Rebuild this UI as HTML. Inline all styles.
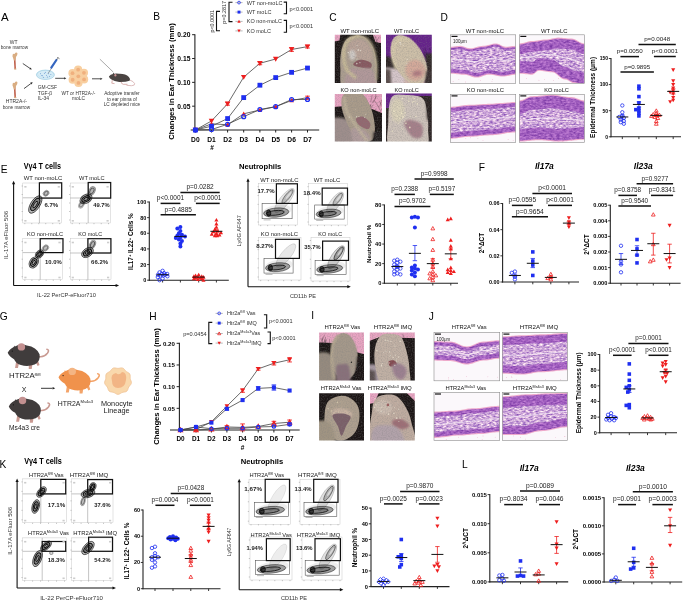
<!DOCTYPE html>
<html><head><meta charset="utf-8"><style>html,body{margin:0;padding:0;background:#fff;overflow:hidden} svg{display:block;will-change:transform} text{font-family:"Liberation Sans", sans-serif}</style></head>
<body>
<svg width="685" height="601" viewBox="0 0 685 601" font-family='"Liberation Sans", sans-serif'>
<defs><filter id="b1" x="-20%" y="-20%" width="140%" height="140%"><feGaussianBlur stdDeviation="1.2"/></filter><filter id="b05" x="-20%" y="-20%" width="140%" height="140%"><feGaussianBlur stdDeviation="0.6"/></filter><filter id="b04" x="-5%" y="-5%" width="110%" height="110%"><feGaussianBlur stdDeviation="0.4"/></filter><filter id="grain" x="0" y="0" width="100%" height="100%" color-interpolation-filters="sRGB"><feTurbulence type="fractalNoise" baseFrequency="0.8" numOctaves="1" seed="2"/><feColorMatrix type="matrix" values="0 0 0 0 0.5  0 0 0 0 0.5  0 0 0 0 0.5  2.5 0 0 0 -1.05"/></filter><filter id="b2" x="-20%" y="-20%" width="140%" height="140%"><feGaussianBlur stdDeviation="2"/></filter><clipPath id="cp1"><rect x="334.80" y="34.80" width="46.20" height="48.20"/></clipPath><clipPath id="cp2"><rect x="386.00" y="34.80" width="45.80" height="48.20"/></clipPath><clipPath id="cp3"><rect x="334.80" y="94.00" width="47.20" height="47.40"/></clipPath><clipPath id="cp4"><rect x="386.00" y="93.60" width="45.80" height="47.80"/></clipPath><clipPath id="cp5"><rect x="319.10" y="332.50" width="44.90" height="48.10"/></clipPath><clipPath id="cp6"><rect x="369.80" y="332.50" width="45.00" height="48.10"/></clipPath><clipPath id="cp7"><rect x="319.10" y="393.20" width="44.90" height="47.30"/></clipPath><clipPath id="cp8"><rect x="370.00" y="393.20" width="44.80" height="47.30"/></clipPath><filter id="texE" x="0" y="0" width="100%" height="100%" color-interpolation-filters="sRGB"><feTurbulence type="fractalNoise" baseFrequency="0.3 0.6" numOctaves="2" seed="4"/><feColorMatrix type="matrix" values="0.45 0 0 0 0.41  0.45 0 0 0 0.15  0.3 0 0 0 0.6  0 0 0 0 1"/></filter><filter id="texD" x="0" y="0" width="100%" height="100%" color-interpolation-filters="sRGB"><feTurbulence type="fractalNoise" baseFrequency="0.3 0.7" numOctaves="2" seed="9"/><feColorMatrix type="matrix" values="0.8 0 0 0 0.4  1.0 0 0 0 0.15  0.4 0 0 0 0.65  0 0 0 0 1"/></filter><clipPath id="cp9"><rect x="450.50" y="34.80" width="65.20" height="48.50"/></clipPath><clipPath id="cp9b"><path d="M450.50,47.89 L452.13,47.83 L453.76,47.65 L455.39,47.41 L457.02,47.17 L458.65,46.99 L460.28,46.92 L461.91,47.09 L463.54,47.53 L465.17,48.14 L466.80,48.74 L468.43,49.19 L470.06,49.35 L471.69,49.26 L473.32,48.99 L474.95,48.60 L476.58,48.14 L478.21,47.67 L479.84,47.28 L481.47,47.02 L483.10,46.92 L484.73,46.83 L486.36,46.57 L487.99,46.18 L489.62,45.71 L491.25,45.25 L492.88,44.86 L494.51,44.59 L496.14,44.50 L497.77,44.73 L499.40,45.35 L501.03,46.20 L502.66,47.05 L504.29,47.67 L505.92,47.89 L507.55,47.83 L509.18,47.65 L510.81,47.41 L512.44,47.17 L514.07,46.99 L515.70,46.92 L515.70,73.60 L514.07,73.67 L512.44,73.88 L510.81,74.20 L509.18,74.57 L507.55,74.94 L505.92,75.26 L504.29,75.47 L502.66,75.54 L501.03,75.47 L499.40,75.26 L497.77,74.94 L496.14,74.57 L494.51,74.20 L492.88,73.88 L491.25,73.67 L489.62,73.60 L487.99,73.71 L486.36,74.03 L484.73,74.50 L483.10,75.06 L481.47,75.61 L479.84,76.08 L478.21,76.40 L476.58,76.51 L474.95,76.40 L473.32,76.08 L471.69,75.61 L470.06,75.05 L468.43,74.50 L466.80,74.03 L465.17,73.71 L463.54,73.60 L461.91,73.56 L460.28,73.46 L458.65,73.30 L457.02,73.12 L455.39,72.93 L453.76,72.77 L452.13,72.67 L450.50,72.63Z"/></clipPath><clipPath id="cp9d"><path d="M450.50,50.08 L452.13,50.01 L453.76,49.83 L455.39,49.59 L457.02,49.35 L458.65,49.17 L460.28,49.11 L461.91,49.27 L463.54,49.71 L465.17,50.32 L466.80,50.93 L468.43,51.37 L470.06,51.53 L471.69,51.44 L473.32,51.18 L474.95,50.78 L476.58,50.32 L478.21,49.86 L479.84,49.46 L481.47,49.20 L483.10,49.11 L484.73,49.02 L486.36,48.75 L487.99,48.36 L489.62,47.89 L491.25,47.43 L492.88,47.04 L494.51,46.77 L496.14,46.68 L497.77,46.91 L499.40,47.53 L501.03,48.38 L502.66,49.23 L504.29,49.85 L505.92,50.08 L507.55,50.01 L509.18,49.83 L510.81,49.59 L512.44,49.35 L514.07,49.17 L515.70,49.11 L515.70,69.96 L514.07,70.04 L512.44,70.25 L510.81,70.56 L509.18,70.93 L507.55,71.30 L505.92,71.62 L504.29,71.83 L502.66,71.90 L501.03,71.83 L499.40,71.62 L497.77,71.30 L496.14,70.93 L494.51,70.56 L492.88,70.25 L491.25,70.04 L489.62,69.96 L487.99,70.07 L486.36,70.39 L484.73,70.86 L483.10,71.42 L481.47,71.97 L479.84,72.45 L478.21,72.76 L476.58,72.87 L474.95,72.76 L473.32,72.45 L471.69,71.97 L470.06,71.42 L468.43,70.86 L466.80,70.39 L465.17,70.07 L463.54,69.96 L461.91,69.93 L460.28,69.82 L458.65,69.66 L457.02,69.48 L455.39,69.29 L453.76,69.13 L452.13,69.03 L450.50,68.99Z"/></clipPath><clipPath id="cp10"><rect x="519.30" y="34.80" width="65.20" height="48.50"/></clipPath><clipPath id="cp10b"><path d="M519.30,44.50 L520.93,44.41 L522.56,44.14 L524.19,43.75 L525.82,43.29 L527.45,42.82 L529.08,42.43 L530.71,42.17 L532.34,42.07 L533.97,42.02 L535.60,41.86 L537.23,41.63 L538.86,41.35 L540.49,41.07 L542.12,40.83 L543.75,40.68 L545.38,40.62 L547.01,40.55 L548.64,40.34 L550.27,40.02 L551.90,39.65 L553.53,39.28 L555.16,38.96 L556.79,38.75 L558.42,38.68 L560.05,38.72 L561.68,38.82 L563.31,38.98 L564.94,39.16 L566.57,39.35 L568.20,39.51 L569.83,39.61 L571.46,39.65 L573.09,39.83 L574.72,40.36 L576.35,41.15 L577.98,42.07 L579.61,43.00 L581.24,43.79 L582.87,44.32 L584.50,44.50 L584.50,84.27 L582.87,84.14 L581.24,83.78 L579.61,83.30 L577.98,82.81 L576.35,82.46 L574.72,82.33 L573.09,82.07 L571.46,81.36 L569.83,80.39 L568.20,79.42 L566.57,78.71 L564.94,78.45 L563.31,78.17 L561.68,77.38 L560.05,76.20 L558.42,74.81 L556.79,73.42 L555.16,72.24 L553.53,71.45 L551.90,71.17 L550.27,71.12 L548.64,70.96 L547.01,70.73 L545.38,70.45 L543.75,70.17 L542.12,69.93 L540.49,69.78 L538.86,69.72 L537.23,70.29 L535.60,71.66 L533.97,73.03 L532.34,73.60 L530.71,73.56 L529.08,73.46 L527.45,73.30 L525.82,73.12 L524.19,72.93 L522.56,72.77 L520.93,72.67 L519.30,72.63Z"/></clipPath><clipPath id="cp10d"><path d="M519.30,54.20 L520.93,54.11 L522.56,53.84 L524.19,53.45 L525.82,52.99 L527.45,52.52 L529.08,52.13 L530.71,51.87 L532.34,51.77 L533.97,51.72 L535.60,51.56 L537.23,51.33 L538.86,51.05 L540.49,50.77 L542.12,50.53 L543.75,50.38 L545.38,50.32 L547.01,50.25 L548.64,50.04 L550.27,49.72 L551.90,49.35 L553.53,48.98 L555.16,48.66 L556.79,48.45 L558.42,48.38 L560.05,48.42 L561.68,48.52 L563.31,48.68 L564.94,48.86 L566.57,49.05 L568.20,49.21 L569.83,49.31 L571.46,49.35 L573.09,49.53 L574.72,50.06 L576.35,50.85 L577.98,51.77 L579.61,52.70 L581.24,53.49 L582.87,54.02 L584.50,54.20 L584.50,72.63 L582.87,72.50 L581.24,72.14 L579.61,71.66 L577.98,71.17 L576.35,70.82 L574.72,70.69 L573.09,70.43 L571.46,69.72 L569.83,68.75 L568.20,67.78 L566.57,67.07 L564.94,66.81 L563.31,66.53 L561.68,65.74 L560.05,64.56 L558.42,63.17 L556.79,61.78 L555.16,60.60 L553.53,59.81 L551.90,59.53 L550.27,59.48 L548.64,59.32 L547.01,59.09 L545.38,58.81 L543.75,58.53 L542.12,58.29 L540.49,58.14 L538.86,58.08 L537.23,58.65 L535.60,60.02 L533.97,61.39 L532.34,61.96 L530.71,61.92 L529.08,61.82 L527.45,61.66 L525.82,61.47 L524.19,61.29 L522.56,61.13 L520.93,61.03 L519.30,60.99Z"/></clipPath><clipPath id="cp11"><rect x="450.50" y="94.30" width="65.20" height="48.20"/></clipPath><clipPath id="cp11b"><path d="M450.50,107.80 L452.13,107.76 L453.76,107.67 L455.39,107.51 L457.02,107.31 L458.65,107.08 L460.28,106.83 L461.91,106.58 L463.54,106.35 L465.17,106.15 L466.80,106.00 L468.43,105.90 L470.06,105.87 L471.69,105.85 L473.32,105.80 L474.95,105.73 L476.58,105.63 L478.21,105.51 L479.84,105.39 L481.47,105.26 L483.10,105.14 L484.73,105.05 L486.36,104.97 L487.99,104.92 L489.62,104.90 L491.25,104.87 L492.88,104.76 L494.51,104.61 L496.14,104.42 L497.77,104.24 L499.40,104.08 L501.03,103.98 L502.66,103.94 L504.29,103.90 L505.92,103.80 L507.55,103.64 L509.18,103.46 L510.81,103.27 L512.44,103.12 L514.07,103.01 L515.70,102.98 L515.70,131.41 L514.07,131.44 L512.44,131.52 L510.81,131.66 L509.18,131.84 L507.55,132.06 L505.92,132.31 L504.29,132.58 L502.66,132.86 L501.03,133.14 L499.40,133.41 L497.77,133.66 L496.14,133.88 L494.51,134.06 L492.88,134.20 L491.25,134.28 L489.62,134.31 L487.99,134.33 L486.36,134.40 L484.73,134.52 L483.10,134.67 L481.47,134.84 L479.84,135.03 L478.21,135.22 L476.58,135.39 L474.95,135.54 L473.32,135.66 L471.69,135.73 L470.06,135.75 L468.43,135.78 L466.80,135.88 L465.17,136.03 L463.54,136.23 L461.91,136.47 L460.28,136.72 L458.65,136.97 L457.02,137.20 L455.39,137.40 L453.76,137.55 L452.13,137.65 L450.50,137.68Z"/></clipPath><clipPath id="cp11d"><path d="M450.50,111.65 L452.13,111.62 L453.76,111.52 L455.39,111.37 L457.02,111.17 L458.65,110.94 L460.28,110.69 L461.91,110.44 L463.54,110.21 L465.17,110.01 L466.80,109.85 L468.43,109.76 L470.06,109.72 L471.69,109.71 L473.32,109.66 L474.95,109.58 L476.58,109.48 L478.21,109.37 L479.84,109.24 L481.47,109.12 L483.10,109.00 L484.73,108.90 L486.36,108.82 L487.99,108.78 L489.62,108.76 L491.25,108.72 L492.88,108.62 L494.51,108.46 L496.14,108.28 L497.77,108.09 L499.40,107.94 L501.03,107.83 L502.66,107.80 L504.29,107.76 L505.92,107.65 L507.55,107.50 L509.18,107.31 L510.81,107.13 L512.44,106.97 L514.07,106.87 L515.70,106.83 L515.70,126.59 L514.07,126.62 L512.44,126.70 L510.81,126.84 L509.18,127.02 L507.55,127.24 L505.92,127.49 L504.29,127.76 L502.66,128.04 L501.03,128.32 L499.40,128.59 L497.77,128.84 L496.14,129.06 L494.51,129.24 L492.88,129.38 L491.25,129.46 L489.62,129.49 L487.99,129.51 L486.36,129.58 L484.73,129.70 L483.10,129.85 L481.47,130.02 L479.84,130.21 L478.21,130.40 L476.58,130.57 L474.95,130.72 L473.32,130.84 L471.69,130.91 L470.06,130.93 L468.43,130.96 L466.80,131.06 L465.17,131.21 L463.54,131.41 L461.91,131.65 L460.28,131.90 L458.65,132.15 L457.02,132.38 L455.39,132.58 L453.76,132.73 L452.13,132.83 L450.50,132.86Z"/></clipPath><clipPath id="cp12"><rect x="519.30" y="94.30" width="65.20" height="48.20"/></clipPath><clipPath id="cp12b"><path d="M519.30,101.53 L520.93,101.36 L522.56,100.89 L524.19,100.19 L525.82,99.36 L527.45,98.53 L529.08,97.83 L530.71,97.36 L532.34,97.19 L533.97,97.17 L535.60,97.10 L537.23,96.98 L538.86,96.83 L540.49,96.66 L542.12,96.47 L543.75,96.28 L545.38,96.11 L547.01,95.96 L548.64,95.84 L550.27,95.77 L551.90,95.75 L553.53,95.79 L555.16,95.91 L556.79,96.10 L558.42,96.35 L560.05,96.64 L561.68,96.95 L563.31,97.26 L564.94,97.55 L566.57,97.80 L568.20,97.99 L569.83,98.11 L571.46,98.16 L573.09,98.28 L574.72,98.65 L576.35,99.20 L577.98,99.84 L579.61,100.49 L581.24,101.04 L582.87,101.40 L584.50,101.53 L584.50,138.64 L582.87,138.66 L581.24,138.72 L579.61,138.81 L577.98,138.93 L576.35,139.07 L574.72,139.24 L573.09,139.42 L571.46,139.61 L569.83,139.80 L568.20,139.98 L566.57,140.14 L564.94,140.29 L563.31,140.41 L561.68,140.50 L560.05,140.55 L558.42,140.57 L556.79,140.55 L555.16,140.48 L553.53,140.36 L551.90,140.21 L550.27,140.04 L548.64,139.85 L547.01,139.66 L545.38,139.49 L543.75,139.34 L542.12,139.22 L540.49,139.15 L538.86,139.13 L537.23,139.15 L535.60,139.22 L533.97,139.34 L532.34,139.49 L530.71,139.66 L529.08,139.85 L527.45,140.04 L525.82,140.21 L524.19,140.36 L522.56,140.48 L520.93,140.55 L519.30,140.57Z"/></clipPath><clipPath id="cp12d"><path d="M519.30,114.06 L520.93,113.90 L522.56,113.43 L524.19,112.72 L525.82,111.89 L527.45,111.06 L529.08,110.36 L530.71,109.89 L532.34,109.72 L533.97,109.70 L535.60,109.63 L537.23,109.51 L538.86,109.36 L540.49,109.19 L542.12,109.00 L543.75,108.81 L545.38,108.64 L547.01,108.49 L548.64,108.37 L550.27,108.30 L551.90,108.28 L553.53,108.32 L555.16,108.44 L556.79,108.63 L558.42,108.88 L560.05,109.17 L561.68,109.48 L563.31,109.79 L564.94,110.09 L566.57,110.34 L568.20,110.53 L569.83,110.65 L571.46,110.69 L573.09,110.82 L574.72,111.18 L576.35,111.73 L577.98,112.38 L579.61,113.02 L581.24,113.57 L582.87,113.93 L584.50,114.06 L584.50,127.08 L582.87,127.09 L581.24,127.15 L579.61,127.24 L577.98,127.36 L576.35,127.50 L574.72,127.67 L573.09,127.85 L571.46,128.04 L569.83,128.23 L568.20,128.41 L566.57,128.58 L564.94,128.72 L563.31,128.84 L561.68,128.93 L560.05,128.99 L558.42,129.00 L556.79,128.98 L555.16,128.91 L553.53,128.79 L551.90,128.64 L550.27,128.47 L548.64,128.28 L547.01,128.09 L545.38,127.92 L543.75,127.77 L542.12,127.65 L540.49,127.58 L538.86,127.56 L537.23,127.58 L535.60,127.65 L533.97,127.77 L532.34,127.92 L530.71,128.09 L529.08,128.28 L527.45,128.47 L525.82,128.64 L524.19,128.79 L522.56,128.91 L520.93,128.98 L519.30,129.00Z"/></clipPath><clipPath id="cp13"><rect x="434.00" y="332.50" width="65.70" height="48.30"/></clipPath><clipPath id="cp13b"><path d="M434.00,342.16 L435.64,342.17 L437.29,342.21 L438.93,342.26 L440.57,342.33 L442.21,342.40 L443.86,342.48 L445.50,342.54 L447.14,342.60 L448.78,342.63 L450.43,342.64 L452.07,342.76 L453.71,343.10 L455.35,343.64 L457.00,344.31 L458.64,345.06 L460.28,345.80 L461.92,346.48 L463.56,347.01 L465.21,347.35 L466.85,347.47 L468.49,347.35 L470.13,347.01 L471.78,346.48 L473.42,345.80 L475.06,345.06 L476.70,344.31 L478.35,343.64 L479.99,343.10 L481.63,342.76 L483.27,342.64 L484.92,342.61 L486.56,342.50 L488.20,342.34 L489.85,342.14 L491.49,341.92 L493.13,341.69 L494.77,341.49 L496.42,341.33 L498.06,341.23 L499.70,341.19 L499.70,357.62 L498.06,357.66 L496.42,357.80 L494.77,358.01 L493.13,358.28 L491.49,358.58 L489.85,358.88 L488.20,359.15 L486.56,359.36 L484.92,359.50 L483.27,359.55 L481.63,359.64 L479.99,359.92 L478.35,360.34 L476.70,360.88 L475.06,361.48 L473.42,362.08 L471.78,362.62 L470.13,363.04 L468.49,363.32 L466.85,363.41 L465.21,363.33 L463.56,363.09 L461.92,362.72 L460.28,362.24 L458.64,361.72 L457.00,361.20 L455.35,360.73 L453.71,360.35 L452.07,360.11 L450.43,360.03 L448.78,360.02 L447.14,359.98 L445.50,359.93 L443.86,359.86 L442.21,359.79 L440.57,359.71 L438.93,359.65 L437.29,359.59 L435.64,359.56 L434.00,359.55Z"/></clipPath><clipPath id="cp13d"><path d="M434.00,345.54 L435.64,345.55 L437.29,345.59 L438.93,345.64 L440.57,345.71 L442.21,345.78 L443.86,345.86 L445.50,345.92 L447.14,345.98 L448.78,346.01 L450.43,346.02 L452.07,346.14 L453.71,346.49 L455.35,347.02 L457.00,347.69 L458.64,348.44 L460.28,349.19 L461.92,349.86 L463.56,350.39 L465.21,350.74 L466.85,350.85 L468.49,350.74 L470.13,350.39 L471.78,349.86 L473.42,349.19 L475.06,348.44 L476.70,347.69 L478.35,347.02 L479.99,346.49 L481.63,346.14 L483.27,346.02 L484.92,345.99 L486.56,345.89 L488.20,345.73 L489.85,345.52 L491.49,345.30 L493.13,345.08 L494.77,344.87 L496.42,344.71 L498.06,344.61 L499.70,344.57 L499.70,353.27 L498.06,353.32 L496.42,353.45 L494.77,353.67 L493.13,353.94 L491.49,354.24 L489.85,354.53 L488.20,354.80 L486.56,355.02 L484.92,355.15 L483.27,355.20 L481.63,355.30 L479.99,355.57 L478.35,356.00 L476.70,356.54 L475.06,357.13 L473.42,357.73 L471.78,358.27 L470.13,358.70 L468.49,358.97 L466.85,359.06 L465.21,358.98 L463.56,358.74 L461.92,358.37 L460.28,357.90 L458.64,357.37 L457.00,356.85 L455.35,356.38 L453.71,356.01 L452.07,355.77 L450.43,355.68 L448.78,355.67 L447.14,355.64 L445.50,355.58 L443.86,355.52 L442.21,355.44 L440.57,355.37 L438.93,355.30 L437.29,355.25 L435.64,355.21 L434.00,355.20Z"/></clipPath><clipPath id="cp14"><rect x="502.40" y="332.50" width="64.90" height="48.30"/></clipPath><clipPath id="cp14b"><path d="M502.40,337.33 L504.02,337.31 L505.64,337.27 L507.27,337.19 L508.89,337.09 L510.51,336.97 L512.13,336.85 L513.76,336.72 L515.38,336.61 L517.00,336.51 L518.62,336.43 L520.25,336.38 L521.87,336.36 L523.49,336.35 L525.12,336.30 L526.74,336.22 L528.36,336.12 L529.98,336.01 L531.61,335.88 L533.23,335.76 L534.85,335.64 L536.47,335.54 L538.10,335.46 L539.72,335.41 L541.34,335.40 L542.96,335.38 L544.59,335.34 L546.21,335.28 L547.83,335.19 L549.45,335.08 L551.07,334.95 L552.70,334.81 L554.32,334.67 L555.94,334.53 L557.56,334.40 L559.19,334.27 L560.81,334.16 L562.43,334.07 L564.05,334.00 L565.68,333.96 L567.30,333.95 L567.30,369.21 L565.68,369.23 L564.05,369.28 L562.43,369.37 L560.81,369.49 L559.19,369.64 L557.56,369.80 L555.94,369.99 L554.32,370.17 L552.70,370.36 L551.07,370.54 L549.45,370.71 L547.83,370.86 L546.21,370.98 L544.59,371.07 L542.96,371.12 L541.34,371.14 L539.72,371.18 L538.10,371.30 L536.47,371.49 L534.85,371.74 L533.23,372.03 L531.61,372.35 L529.98,372.66 L528.36,372.95 L526.74,373.20 L525.12,373.39 L523.49,373.51 L521.87,373.56 L520.25,373.54 L518.62,373.49 L517.00,373.41 L515.38,373.31 L513.76,373.20 L512.13,373.07 L510.51,372.95 L508.89,372.83 L507.27,372.73 L505.64,372.65 L504.02,372.61 L502.40,372.59Z"/></clipPath><clipPath id="cp14d"><path d="M502.40,345.06 L504.02,345.04 L505.64,344.99 L507.27,344.92 L508.89,344.82 L510.51,344.70 L512.13,344.57 L513.76,344.45 L515.38,344.33 L517.00,344.23 L518.62,344.16 L520.25,344.11 L521.87,344.09 L523.49,344.08 L525.12,344.03 L526.74,343.95 L528.36,343.85 L529.98,343.73 L531.61,343.61 L533.23,343.48 L534.85,343.37 L536.47,343.27 L538.10,343.19 L539.72,343.14 L541.34,343.13 L542.96,343.11 L544.59,343.07 L546.21,343.00 L547.83,342.91 L549.45,342.80 L551.07,342.68 L552.70,342.54 L554.32,342.40 L555.94,342.26 L557.56,342.12 L559.19,342.00 L560.81,341.89 L562.43,341.80 L564.05,341.73 L565.68,341.69 L567.30,341.68 L567.30,361.96 L565.68,361.98 L564.05,362.04 L562.43,362.13 L560.81,362.25 L559.19,362.39 L557.56,362.56 L555.94,362.74 L554.32,362.93 L552.70,363.12 L551.07,363.30 L549.45,363.47 L547.83,363.61 L546.21,363.73 L544.59,363.82 L542.96,363.88 L541.34,363.89 L539.72,363.94 L538.10,364.06 L536.47,364.25 L534.85,364.50 L533.23,364.79 L531.61,365.10 L529.98,365.42 L528.36,365.71 L526.74,365.96 L525.12,366.15 L523.49,366.27 L521.87,366.31 L520.25,366.29 L518.62,366.25 L517.00,366.17 L515.38,366.07 L513.76,365.95 L512.13,365.83 L510.51,365.70 L508.89,365.59 L507.27,365.49 L505.64,365.41 L504.02,365.36 L502.40,365.34Z"/></clipPath><clipPath id="cp15"><rect x="434.00" y="392.40" width="65.70" height="48.30"/></clipPath><clipPath id="cp15b"><path d="M434.00,412.69 L435.64,412.67 L437.29,412.62 L438.93,412.54 L440.57,412.44 L442.21,412.33 L443.86,412.20 L445.50,412.08 L447.14,411.96 L448.78,411.86 L450.43,411.78 L452.07,411.74 L453.71,411.72 L455.35,411.68 L457.00,411.56 L458.64,411.37 L460.28,411.12 L461.92,410.83 L463.56,410.51 L465.21,410.20 L466.85,409.91 L468.49,409.66 L470.13,409.47 L471.78,409.35 L473.42,409.30 L475.06,409.28 L476.70,409.21 L478.35,409.10 L479.99,408.95 L481.63,408.77 L483.27,408.56 L484.92,408.33 L486.56,408.10 L488.20,407.86 L489.85,407.64 L491.49,407.43 L493.13,407.24 L494.77,407.09 L496.42,406.98 L498.06,406.91 L499.70,406.89 L499.70,431.04 L498.06,431.07 L496.42,431.17 L494.77,431.32 L493.13,431.52 L491.49,431.76 L489.85,432.01 L488.20,432.26 L486.56,432.49 L484.92,432.69 L483.27,432.84 L481.63,432.94 L479.99,432.97 L478.35,433.00 L476.70,433.07 L475.06,433.18 L473.42,433.33 L471.78,433.51 L470.13,433.70 L468.49,433.88 L466.85,434.06 L465.21,434.21 L463.56,434.32 L461.92,434.40 L460.28,434.42 L458.64,434.44 L457.00,434.51 L455.35,434.62 L453.71,434.77 L452.07,434.96 L450.43,435.17 L448.78,435.39 L447.14,435.63 L445.50,435.86 L443.86,436.09 L442.21,436.30 L440.57,436.48 L438.93,436.63 L437.29,436.74 L435.64,436.81 L434.00,436.84Z"/></clipPath><clipPath id="cp15d"><path d="M434.00,416.55 L435.64,416.53 L437.29,416.49 L438.93,416.41 L440.57,416.31 L442.21,416.19 L443.86,416.07 L445.50,415.94 L447.14,415.83 L448.78,415.73 L450.43,415.65 L452.07,415.60 L453.71,415.58 L455.35,415.54 L457.00,415.42 L458.64,415.23 L460.28,414.98 L461.92,414.69 L463.56,414.38 L465.21,414.06 L466.85,413.77 L468.49,413.52 L470.13,413.33 L471.78,413.21 L473.42,413.17 L475.06,413.15 L476.70,413.08 L478.35,412.97 L479.99,412.82 L481.63,412.63 L483.27,412.42 L484.92,412.20 L486.56,411.96 L488.20,411.73 L489.85,411.50 L491.49,411.29 L493.13,411.11 L494.77,410.96 L496.42,410.85 L498.06,410.78 L499.70,410.75 L499.70,426.69 L498.06,426.73 L496.42,426.82 L494.77,426.98 L493.13,427.18 L491.49,427.41 L489.85,427.66 L488.20,427.91 L486.56,428.14 L484.92,428.34 L483.27,428.50 L481.63,428.59 L479.99,428.62 L478.35,428.65 L476.70,428.72 L475.06,428.84 L473.42,428.99 L471.78,429.16 L470.13,429.35 L468.49,429.54 L466.85,429.71 L465.21,429.86 L463.56,429.98 L461.92,430.05 L460.28,430.07 L458.64,430.10 L457.00,430.17 L455.35,430.28 L453.71,430.43 L452.07,430.61 L450.43,430.82 L448.78,431.05 L447.14,431.28 L445.50,431.52 L443.86,431.74 L442.21,431.95 L440.57,432.14 L438.93,432.29 L437.29,432.40 L435.64,432.47 L434.00,432.49Z"/></clipPath><clipPath id="cp16"><rect x="502.40" y="392.40" width="64.90" height="48.30"/></clipPath><clipPath id="cp16b"><path d="M502.40,397.23 L504.02,397.21 L505.64,397.16 L507.27,397.07 L508.89,396.95 L510.51,396.80 L512.13,396.63 L513.76,396.45 L515.38,396.26 L517.00,396.08 L518.62,395.89 L520.25,395.73 L521.87,395.58 L523.49,395.46 L525.12,395.37 L526.74,395.32 L528.36,395.30 L529.98,395.28 L531.61,395.23 L533.23,395.16 L534.85,395.06 L536.47,394.94 L538.10,394.81 L539.72,394.69 L541.34,394.57 L542.96,394.47 L544.59,394.40 L546.21,394.35 L547.83,394.33 L549.45,394.32 L551.07,394.30 L552.70,394.26 L554.32,394.21 L555.94,394.15 L557.56,394.09 L559.19,394.03 L560.81,393.97 L562.43,393.92 L564.05,393.88 L565.68,393.86 L567.30,393.85 L567.30,426.21 L565.68,426.25 L564.05,426.36 L562.43,426.54 L560.81,426.78 L559.19,427.07 L557.56,427.40 L555.94,427.77 L554.32,428.14 L552.70,428.52 L551.07,428.88 L549.45,429.22 L547.83,429.51 L546.21,429.75 L544.59,429.93 L542.96,430.04 L541.34,430.07 L539.72,430.14 L538.10,430.33 L536.47,430.64 L534.85,431.04 L533.23,431.51 L531.61,432.01 L529.98,432.51 L528.36,432.97 L526.74,433.37 L525.12,433.68 L523.49,433.87 L521.87,433.94 L520.25,433.94 L518.62,433.94 L517.00,433.94 L515.38,433.94 L513.76,433.94 L512.13,433.94 L510.51,433.94 L508.89,433.94 L507.27,433.94 L505.64,433.94 L504.02,433.94 L502.40,433.94Z"/></clipPath><clipPath id="cp16d"><path d="M502.40,407.86 L504.02,407.84 L505.64,407.78 L507.27,407.69 L508.89,407.57 L510.51,407.43 L512.13,407.26 L513.76,407.08 L515.38,406.89 L517.00,406.70 L518.62,406.52 L520.25,406.35 L521.87,406.21 L523.49,406.09 L525.12,406.00 L526.74,405.94 L528.36,405.92 L529.98,405.91 L531.61,405.86 L533.23,405.78 L534.85,405.68 L536.47,405.57 L538.10,405.44 L539.72,405.32 L541.34,405.20 L542.96,405.10 L544.59,405.02 L546.21,404.97 L547.83,404.96 L549.45,404.95 L551.07,404.93 L552.70,404.89 L554.32,404.84 L555.94,404.78 L557.56,404.72 L559.19,404.65 L560.81,404.60 L562.43,404.55 L564.05,404.51 L565.68,404.48 L567.30,404.47 L567.30,418.48 L565.68,418.52 L564.05,418.63 L562.43,418.81 L560.81,419.05 L559.19,419.34 L557.56,419.67 L555.94,420.04 L554.32,420.41 L552.70,420.79 L551.07,421.15 L549.45,421.49 L547.83,421.78 L546.21,422.02 L544.59,422.20 L542.96,422.31 L541.34,422.35 L539.72,422.41 L538.10,422.60 L536.47,422.91 L534.85,423.31 L533.23,423.78 L531.61,424.28 L529.98,424.78 L528.36,425.24 L526.74,425.64 L525.12,425.95 L523.49,426.14 L521.87,426.21 L520.25,426.21 L518.62,426.21 L517.00,426.21 L515.38,426.21 L513.76,426.21 L512.13,426.21 L510.51,426.21 L508.89,426.21 L507.27,426.21 L505.64,426.21 L504.02,426.21 L502.40,426.21Z"/></clipPath></defs><rect width="685" height="601" fill="#fff"/>
<text x="1.00" y="21.00" font-size="11.5" text-anchor="start" fill="#000">A</text>
<text x="153.30" y="20.40" font-size="10.2" text-anchor="start" fill="#000">B</text>
<text x="329.20" y="21.30" font-size="10.2" text-anchor="start" fill="#000">C</text>
<text x="440.60" y="20.90" font-size="10.2" text-anchor="start" fill="#000">D</text>
<text x="0.80" y="173.00" font-size="10.2" text-anchor="start" fill="#000">E</text>
<text x="478.80" y="171.00" font-size="10.2" text-anchor="start" fill="#000">F</text>
<text x="-0.30" y="320.00" font-size="10.2" text-anchor="start" fill="#000">G</text>
<text x="149.20" y="319.50" font-size="10.2" text-anchor="start" fill="#000">H</text>
<text x="311.20" y="319.40" font-size="10.2" text-anchor="start" fill="#000">I</text>
<text x="428.80" y="319.50" font-size="10.2" text-anchor="start" fill="#000">J</text>
<text x="-0.60" y="468.00" font-size="10.2" text-anchor="start" fill="#000">K</text>
<text x="462.00" y="467.80" font-size="10.2" text-anchor="start" fill="#000">L</text>
<line x1="611.00" y1="58.00" x2="611.00" y2="137.30" stroke="#222" stroke-width="1.1"/>
<line x1="610.50" y1="136.80" x2="681.00" y2="136.80" stroke="#222" stroke-width="1.1"/>
<line x1="608.80" y1="136.80" x2="611.00" y2="136.80" stroke="#222" stroke-width="0.9"/>
<text x="608.00" y="138.60" font-size="5.0" text-anchor="end" font-weight="bold" fill="#000">0</text>
<line x1="608.80" y1="110.70" x2="611.00" y2="110.70" stroke="#222" stroke-width="0.9"/>
<text x="608.00" y="112.50" font-size="5.0" text-anchor="end" font-weight="bold" fill="#000">50</text>
<line x1="608.80" y1="84.60" x2="611.00" y2="84.60" stroke="#222" stroke-width="0.9"/>
<text x="608.00" y="86.40" font-size="5.0" text-anchor="end" font-weight="bold" fill="#000">100</text>
<line x1="608.80" y1="58.50" x2="611.00" y2="58.50" stroke="#222" stroke-width="0.9"/>
<text x="608.00" y="60.30" font-size="5.0" text-anchor="end" font-weight="bold" fill="#000">150</text>
<line x1="622.30" y1="136.80" x2="622.30" y2="139.10" stroke="#222" stroke-width="0.9"/>
<line x1="638.90" y1="136.80" x2="638.90" y2="139.10" stroke="#222" stroke-width="0.9"/>
<line x1="656.30" y1="136.80" x2="656.30" y2="139.10" stroke="#222" stroke-width="0.9"/>
<line x1="673.20" y1="136.80" x2="673.20" y2="139.10" stroke="#222" stroke-width="0.9"/>
<text x="594.60" y="97.40" font-size="6.5" text-anchor="middle" font-weight="bold" fill="#000" transform="rotate(-90 594.6 97.4)">Epidermal Thickness (μm)</text>
<line x1="620.40" y1="56.60" x2="639.00" y2="56.60" stroke="#111" stroke-width="1.5"/>
<text x="629.70" y="53.40" font-size="6.2" text-anchor="middle" fill="#222">p=0.0050</text>
<line x1="653.90" y1="56.50" x2="675.80" y2="56.50" stroke="#111" stroke-width="1.5"/>
<text x="664.85" y="53.30" font-size="6.2" text-anchor="middle" fill="#222">p&lt;0.0001</text>
<line x1="620.50" y1="71.90" x2="653.90" y2="71.90" stroke="#111" stroke-width="1.5"/>
<text x="637.20" y="68.70" font-size="6.2" text-anchor="middle" fill="#222">p=0.9895</text>
<line x1="638.50" y1="44.40" x2="675.80" y2="44.40" stroke="#111" stroke-width="1.5"/>
<text x="657.15" y="41.20" font-size="6.2" text-anchor="middle" fill="#222">p=0.0048</text>
<circle cx="622.30" cy="105.48" r="1.70" fill="none" stroke="#1f2ff0" stroke-width="0.8"/>
<circle cx="622.30" cy="112.27" r="1.70" fill="none" stroke="#1f2ff0" stroke-width="0.8"/>
<circle cx="622.30" cy="115.92" r="1.70" fill="none" stroke="#1f2ff0" stroke-width="0.8"/>
<circle cx="619.24" cy="116.96" r="1.70" fill="none" stroke="#1f2ff0" stroke-width="0.8"/>
<circle cx="623.83" cy="118.01" r="1.70" fill="none" stroke="#1f2ff0" stroke-width="0.8"/>
<circle cx="620.77" cy="119.57" r="1.70" fill="none" stroke="#1f2ff0" stroke-width="0.8"/>
<circle cx="623.83" cy="121.14" r="1.70" fill="none" stroke="#1f2ff0" stroke-width="0.8"/>
<circle cx="620.77" cy="122.18" r="1.70" fill="none" stroke="#1f2ff0" stroke-width="0.8"/>
<circle cx="623.83" cy="123.75" r="1.70" fill="none" stroke="#1f2ff0" stroke-width="0.8"/>
<line x1="622.30" y1="119.05" x2="622.30" y2="114.88" stroke="#1f2ff0" stroke-width="0.8"/>
<line x1="620.10" y1="119.05" x2="624.50" y2="119.05" stroke="#1f2ff0" stroke-width="0.8"/>
<line x1="620.10" y1="114.88" x2="624.50" y2="114.88" stroke="#1f2ff0" stroke-width="0.8"/>
<line x1="616.30" y1="116.96" x2="628.30" y2="116.96" stroke="#111" stroke-width="1.0"/>
<rect x="637.12" y="84.38" width="3.57" height="3.57" fill="#1f2ff0"/>
<rect x="637.12" y="86.99" width="3.57" height="3.57" fill="#1f2ff0"/>
<rect x="637.12" y="94.82" width="3.57" height="3.57" fill="#1f2ff0"/>
<rect x="637.12" y="101.09" width="3.57" height="3.57" fill="#1f2ff0"/>
<rect x="637.12" y="106.31" width="3.57" height="3.57" fill="#1f2ff0"/>
<rect x="634.06" y="107.87" width="3.57" height="3.57" fill="#1f2ff0"/>
<rect x="637.12" y="108.92" width="3.57" height="3.57" fill="#1f2ff0"/>
<rect x="637.12" y="111.53" width="3.57" height="3.57" fill="#1f2ff0"/>
<rect x="637.12" y="114.14" width="3.57" height="3.57" fill="#1f2ff0"/>
<line x1="638.90" y1="107.05" x2="638.90" y2="101.83" stroke="#1f2ff0" stroke-width="0.8"/>
<line x1="636.70" y1="107.05" x2="641.10" y2="107.05" stroke="#1f2ff0" stroke-width="0.8"/>
<line x1="636.70" y1="101.83" x2="641.10" y2="101.83" stroke="#1f2ff0" stroke-width="0.8"/>
<line x1="632.90" y1="104.44" x2="644.90" y2="104.44" stroke="#111" stroke-width="1.0"/>
<path d="M656.30,108.83 L658.17,112.20 L654.43,112.20Z" fill="none" stroke="#ee1e1e" stroke-width="0.8"/>
<path d="M656.30,111.44 L658.17,114.81 L654.43,114.81Z" fill="none" stroke="#ee1e1e" stroke-width="0.8"/>
<path d="M653.24,112.48 L655.11,115.85 L651.37,115.85Z" fill="none" stroke="#ee1e1e" stroke-width="0.8"/>
<path d="M659.36,113.01 L661.23,116.37 L657.49,116.37Z" fill="none" stroke="#ee1e1e" stroke-width="0.8"/>
<path d="M657.10,113.53 L658.97,116.89 L655.23,116.89Z" fill="none" stroke="#ee1e1e" stroke-width="0.8"/>
<path d="M651.50,114.05 L653.37,117.42 L649.63,117.42Z" fill="none" stroke="#ee1e1e" stroke-width="0.8"/>
<path d="M654.77,115.09 L656.64,118.46 L652.90,118.46Z" fill="none" stroke="#ee1e1e" stroke-width="0.8"/>
<path d="M657.83,116.14 L659.70,119.50 L655.96,119.50Z" fill="none" stroke="#ee1e1e" stroke-width="0.8"/>
<path d="M656.30,119.27 L658.17,122.64 L654.43,122.64Z" fill="none" stroke="#ee1e1e" stroke-width="0.8"/>
<path d="M656.30,121.88 L658.17,125.25 L654.43,125.25Z" fill="none" stroke="#ee1e1e" stroke-width="0.8"/>
<line x1="656.30" y1="116.44" x2="656.30" y2="114.35" stroke="#ee1e1e" stroke-width="0.8"/>
<line x1="654.10" y1="116.44" x2="658.50" y2="116.44" stroke="#ee1e1e" stroke-width="0.8"/>
<line x1="654.10" y1="114.35" x2="658.50" y2="114.35" stroke="#ee1e1e" stroke-width="0.8"/>
<line x1="650.30" y1="115.40" x2="662.30" y2="115.40" stroke="#111" stroke-width="1.0"/>
<path d="M673.20,72.02 L675.24,68.35 L671.16,68.35Z" fill="#ee1e1e"/>
<path d="M673.20,82.99 L675.24,79.31 L671.16,79.31Z" fill="#ee1e1e"/>
<path d="M673.20,86.64 L675.24,82.97 L671.16,82.97Z" fill="#ee1e1e"/>
<path d="M673.20,90.29 L675.24,86.62 L671.16,86.62Z" fill="#ee1e1e"/>
<path d="M673.20,92.90 L675.24,89.23 L671.16,89.23Z" fill="#ee1e1e"/>
<path d="M670.14,94.47 L672.18,90.80 L668.10,90.80Z" fill="#ee1e1e"/>
<path d="M673.20,96.04 L675.24,92.36 L671.16,92.36Z" fill="#ee1e1e"/>
<path d="M673.20,99.69 L675.24,96.02 L671.16,96.02Z" fill="#ee1e1e"/>
<path d="M673.20,102.30 L675.24,98.63 L671.16,98.63Z" fill="#ee1e1e"/>
<path d="M670.14,103.87 L672.18,100.19 L668.10,100.19Z" fill="#ee1e1e"/>
<line x1="673.20" y1="94.00" x2="673.20" y2="88.78" stroke="#ee1e1e" stroke-width="0.8"/>
<line x1="671.00" y1="94.00" x2="675.40" y2="94.00" stroke="#ee1e1e" stroke-width="0.8"/>
<line x1="671.00" y1="88.78" x2="675.40" y2="88.78" stroke="#ee1e1e" stroke-width="0.8"/>
<line x1="667.20" y1="91.39" x2="679.20" y2="91.39" stroke="#111" stroke-width="1.0"/>
<line x1="149.30" y1="201.50" x2="149.30" y2="280.70" stroke="#222" stroke-width="1.1"/>
<line x1="148.80" y1="280.20" x2="228.80" y2="280.20" stroke="#222" stroke-width="1.1"/>
<line x1="147.10" y1="280.20" x2="149.30" y2="280.20" stroke="#222" stroke-width="0.9"/>
<text x="146.30" y="282.18" font-size="5.5" text-anchor="end" font-weight="bold" fill="#000">0</text>
<line x1="147.10" y1="264.56" x2="149.30" y2="264.56" stroke="#222" stroke-width="0.9"/>
<text x="146.30" y="266.54" font-size="5.5" text-anchor="end" font-weight="bold" fill="#000">20</text>
<line x1="147.10" y1="248.92" x2="149.30" y2="248.92" stroke="#222" stroke-width="0.9"/>
<text x="146.30" y="250.90" font-size="5.5" text-anchor="end" font-weight="bold" fill="#000">40</text>
<line x1="147.10" y1="233.28" x2="149.30" y2="233.28" stroke="#222" stroke-width="0.9"/>
<text x="146.30" y="235.26" font-size="5.5" text-anchor="end" font-weight="bold" fill="#000">60</text>
<line x1="147.10" y1="217.64" x2="149.30" y2="217.64" stroke="#222" stroke-width="0.9"/>
<text x="146.30" y="219.62" font-size="5.5" text-anchor="end" font-weight="bold" fill="#000">80</text>
<line x1="147.10" y1="202.00" x2="149.30" y2="202.00" stroke="#222" stroke-width="0.9"/>
<text x="146.30" y="203.98" font-size="5.5" text-anchor="end" font-weight="bold" fill="#000">100</text>
<line x1="162.60" y1="280.20" x2="162.60" y2="282.50" stroke="#222" stroke-width="0.9"/>
<line x1="180.40" y1="280.20" x2="180.40" y2="282.50" stroke="#222" stroke-width="0.9"/>
<line x1="198.70" y1="280.20" x2="198.70" y2="282.50" stroke="#222" stroke-width="0.9"/>
<line x1="216.40" y1="280.20" x2="216.40" y2="282.50" stroke="#222" stroke-width="0.9"/>
<text x="133.30" y="241.60" font-size="6.4" text-anchor="middle" font-weight="bold" fill="#000" transform="rotate(-90 133.3 241.6)">IL17<tspan font-size="4" dy="-2">+</tspan><tspan dy="2"> IL22</tspan><tspan font-size="4" dy="-2">+</tspan><tspan dy="2"> Cells %</tspan></text>
<line x1="180.40" y1="192.40" x2="219.70" y2="192.40" stroke="#111" stroke-width="1.5"/>
<text x="200.05" y="189.20" font-size="6.5" text-anchor="middle" fill="#222">p=0.0282</text>
<line x1="160.60" y1="203.40" x2="180.40" y2="203.40" stroke="#111" stroke-width="1.5"/>
<text x="170.50" y="200.20" font-size="6.5" text-anchor="middle" fill="#222">p&lt;0.0001</text>
<line x1="195.90" y1="203.40" x2="219.70" y2="203.40" stroke="#111" stroke-width="1.5"/>
<text x="207.80" y="200.20" font-size="6.5" text-anchor="middle" fill="#222">p&lt;0.0001</text>
<line x1="160.60" y1="214.80" x2="195.90" y2="214.80" stroke="#111" stroke-width="1.5"/>
<text x="178.25" y="211.60" font-size="6.5" text-anchor="middle" fill="#222">p=0.4885</text>
<circle cx="162.60" cy="270.82" r="1.70" fill="none" stroke="#1f2ff0" stroke-width="0.8"/>
<circle cx="159.54" cy="272.38" r="1.70" fill="none" stroke="#1f2ff0" stroke-width="0.8"/>
<circle cx="164.13" cy="273.16" r="1.70" fill="none" stroke="#1f2ff0" stroke-width="0.8"/>
<circle cx="167.19" cy="273.94" r="1.70" fill="none" stroke="#1f2ff0" stroke-width="0.8"/>
<circle cx="161.80" cy="273.94" r="1.70" fill="none" stroke="#1f2ff0" stroke-width="0.8"/>
<circle cx="158.01" cy="274.73" r="1.70" fill="none" stroke="#1f2ff0" stroke-width="0.8"/>
<circle cx="165.00" cy="274.73" r="1.70" fill="none" stroke="#1f2ff0" stroke-width="0.8"/>
<circle cx="160.20" cy="275.51" r="1.70" fill="none" stroke="#1f2ff0" stroke-width="0.8"/>
<circle cx="163.40" cy="275.51" r="1.70" fill="none" stroke="#1f2ff0" stroke-width="0.8"/>
<circle cx="167.40" cy="276.29" r="1.70" fill="none" stroke="#1f2ff0" stroke-width="0.8"/>
<circle cx="157.80" cy="277.07" r="1.70" fill="none" stroke="#1f2ff0" stroke-width="0.8"/>
<circle cx="162.60" cy="278.64" r="1.70" fill="none" stroke="#1f2ff0" stroke-width="0.8"/>
<circle cx="159.54" cy="280.20" r="1.70" fill="none" stroke="#1f2ff0" stroke-width="0.8"/>
<line x1="156.60" y1="274.73" x2="168.60" y2="274.73" stroke="#111" stroke-width="1.0"/>
<circle cx="180.40" cy="227.02" r="2.00" fill="#1f2ff0"/>
<circle cx="177.34" cy="228.59" r="2.00" fill="#1f2ff0"/>
<circle cx="180.40" cy="230.93" r="2.00" fill="#1f2ff0"/>
<circle cx="178.87" cy="233.28" r="2.00" fill="#1f2ff0"/>
<circle cx="181.93" cy="234.84" r="2.00" fill="#1f2ff0"/>
<circle cx="177.34" cy="235.63" r="2.00" fill="#1f2ff0"/>
<circle cx="184.99" cy="236.41" r="2.00" fill="#1f2ff0"/>
<circle cx="180.40" cy="237.19" r="2.00" fill="#1f2ff0"/>
<circle cx="175.81" cy="237.97" r="2.00" fill="#1f2ff0"/>
<circle cx="178.87" cy="239.54" r="2.00" fill="#1f2ff0"/>
<circle cx="181.93" cy="241.10" r="2.00" fill="#1f2ff0"/>
<circle cx="180.40" cy="243.45" r="2.00" fill="#1f2ff0"/>
<circle cx="180.40" cy="246.57" r="2.00" fill="#1f2ff0"/>
<line x1="180.40" y1="237.97" x2="180.40" y2="234.84" stroke="#1f2ff0" stroke-width="0.8"/>
<line x1="178.20" y1="237.97" x2="182.60" y2="237.97" stroke="#1f2ff0" stroke-width="0.8"/>
<line x1="178.20" y1="234.84" x2="182.60" y2="234.84" stroke="#1f2ff0" stroke-width="0.8"/>
<line x1="174.40" y1="236.41" x2="186.40" y2="236.41" stroke="#111" stroke-width="1.0"/>
<path d="M198.70,272.69 L200.74,276.36 L196.66,276.36Z" fill="#ee1e1e"/>
<path d="M195.64,273.47 L197.68,277.14 L193.60,277.14Z" fill="#ee1e1e"/>
<path d="M201.76,274.25 L203.80,277.92 L199.72,277.92Z" fill="#ee1e1e"/>
<path d="M193.90,274.25 L195.94,277.92 L191.86,277.92Z" fill="#ee1e1e"/>
<path d="M197.90,275.03 L199.94,278.70 L195.86,278.70Z" fill="#ee1e1e"/>
<path d="M203.50,275.03 L205.54,278.70 L201.46,278.70Z" fill="#ee1e1e"/>
<path d="M195.50,275.81 L197.54,279.49 L193.46,279.49Z" fill="#ee1e1e"/>
<path d="M200.30,275.81 L202.34,279.49 L198.26,279.49Z" fill="#ee1e1e"/>
<path d="M193.90,276.60 L195.94,280.27 L191.86,280.27Z" fill="#ee1e1e"/>
<path d="M201.90,276.60 L203.94,280.27 L199.86,280.27Z" fill="#ee1e1e"/>
<path d="M197.90,277.38 L199.94,281.05 L195.86,281.05Z" fill="#ee1e1e"/>
<path d="M203.50,278.16 L205.54,281.83 L201.46,281.83Z" fill="#ee1e1e"/>
<line x1="192.70" y1="277.07" x2="204.70" y2="277.07" stroke="#111" stroke-width="1.0"/>
<path d="M216.40,217.95 L218.44,221.62 L214.36,221.62Z" fill="#ee1e1e"/>
<path d="M216.40,221.86 L218.44,225.53 L214.36,225.53Z" fill="#ee1e1e"/>
<path d="M216.40,224.98 L218.44,228.66 L214.36,228.66Z" fill="#ee1e1e"/>
<path d="M214.87,227.33 L216.91,231.00 L212.83,231.00Z" fill="#ee1e1e"/>
<path d="M217.93,228.89 L219.97,232.57 L215.89,232.57Z" fill="#ee1e1e"/>
<path d="M213.34,229.68 L215.38,233.35 L211.30,233.35Z" fill="#ee1e1e"/>
<path d="M220.99,230.46 L223.03,234.13 L218.95,234.13Z" fill="#ee1e1e"/>
<path d="M216.40,231.24 L218.44,234.91 L214.36,234.91Z" fill="#ee1e1e"/>
<path d="M211.81,232.02 L213.85,235.69 L209.77,235.69Z" fill="#ee1e1e"/>
<path d="M219.46,232.80 L221.50,236.48 L217.42,236.48Z" fill="#ee1e1e"/>
<path d="M214.87,233.59 L216.91,237.26 L212.83,237.26Z" fill="#ee1e1e"/>
<path d="M217.20,233.59 L219.24,237.26 L215.16,237.26Z" fill="#ee1e1e"/>
<line x1="216.40" y1="232.89" x2="216.40" y2="229.76" stroke="#ee1e1e" stroke-width="0.8"/>
<line x1="214.20" y1="232.89" x2="218.60" y2="232.89" stroke="#ee1e1e" stroke-width="0.8"/>
<line x1="214.20" y1="229.76" x2="218.60" y2="229.76" stroke="#ee1e1e" stroke-width="0.8"/>
<line x1="210.40" y1="231.32" x2="222.40" y2="231.32" stroke="#111" stroke-width="1.0"/>
<line x1="384.40" y1="204.40" x2="384.40" y2="283.70" stroke="#222" stroke-width="1.1"/>
<line x1="383.90" y1="283.20" x2="458.00" y2="283.20" stroke="#222" stroke-width="1.1"/>
<line x1="382.20" y1="283.20" x2="384.40" y2="283.20" stroke="#222" stroke-width="0.9"/>
<text x="381.40" y="285.25" font-size="5.7" text-anchor="end" font-weight="bold" fill="#000">0</text>
<line x1="382.20" y1="263.62" x2="384.40" y2="263.62" stroke="#222" stroke-width="0.9"/>
<text x="381.40" y="265.68" font-size="5.7" text-anchor="end" font-weight="bold" fill="#000">20</text>
<line x1="382.20" y1="244.05" x2="384.40" y2="244.05" stroke="#222" stroke-width="0.9"/>
<text x="381.40" y="246.10" font-size="5.7" text-anchor="end" font-weight="bold" fill="#000">40</text>
<line x1="382.20" y1="224.47" x2="384.40" y2="224.47" stroke="#222" stroke-width="0.9"/>
<text x="381.40" y="226.53" font-size="5.7" text-anchor="end" font-weight="bold" fill="#000">60</text>
<line x1="382.20" y1="204.90" x2="384.40" y2="204.90" stroke="#222" stroke-width="0.9"/>
<text x="381.40" y="206.95" font-size="5.7" text-anchor="end" font-weight="bold" fill="#000">80</text>
<line x1="397.30" y1="283.20" x2="397.30" y2="285.50" stroke="#222" stroke-width="0.9"/>
<line x1="414.90" y1="283.20" x2="414.90" y2="285.50" stroke="#222" stroke-width="0.9"/>
<line x1="432.80" y1="283.20" x2="432.80" y2="285.50" stroke="#222" stroke-width="0.9"/>
<line x1="450.80" y1="283.20" x2="450.80" y2="285.50" stroke="#222" stroke-width="0.9"/>
<text x="370.60" y="243.80" font-size="6.2" text-anchor="middle" font-weight="bold" fill="#000" transform="rotate(-90 370.6 243.8)">Neutrophil %</text>
<line x1="414.50" y1="179.00" x2="453.80" y2="179.00" stroke="#111" stroke-width="1.5"/>
<text x="434.15" y="175.80" font-size="6.4" text-anchor="middle" fill="#222">p=0.9998</text>
<line x1="394.50" y1="194.40" x2="414.90" y2="194.40" stroke="#111" stroke-width="1.5"/>
<text x="404.70" y="191.20" font-size="6.4" text-anchor="middle" fill="#222">p=0.2388</text>
<line x1="429.80" y1="194.40" x2="453.80" y2="194.40" stroke="#111" stroke-width="1.5"/>
<text x="441.80" y="191.20" font-size="6.4" text-anchor="middle" fill="#222">p=0.5197</text>
<line x1="394.50" y1="206.50" x2="430.40" y2="206.50" stroke="#111" stroke-width="1.5"/>
<text x="412.45" y="203.30" font-size="6.4" text-anchor="middle" fill="#222">p=0.9702</text>
<circle cx="397.30" cy="259.71" r="1.70" fill="none" stroke="#1f2ff0" stroke-width="0.8"/>
<circle cx="394.24" cy="260.69" r="1.70" fill="none" stroke="#1f2ff0" stroke-width="0.8"/>
<circle cx="400.36" cy="261.67" r="1.70" fill="none" stroke="#1f2ff0" stroke-width="0.8"/>
<circle cx="397.30" cy="262.65" r="1.70" fill="none" stroke="#1f2ff0" stroke-width="0.8"/>
<circle cx="394.24" cy="264.60" r="1.70" fill="none" stroke="#1f2ff0" stroke-width="0.8"/>
<circle cx="397.30" cy="266.56" r="1.70" fill="none" stroke="#1f2ff0" stroke-width="0.8"/>
<circle cx="394.24" cy="267.54" r="1.70" fill="none" stroke="#1f2ff0" stroke-width="0.8"/>
<circle cx="400.36" cy="268.52" r="1.70" fill="none" stroke="#1f2ff0" stroke-width="0.8"/>
<circle cx="397.30" cy="269.50" r="1.70" fill="none" stroke="#1f2ff0" stroke-width="0.8"/>
<circle cx="394.24" cy="271.45" r="1.70" fill="none" stroke="#1f2ff0" stroke-width="0.8"/>
<circle cx="397.30" cy="273.41" r="1.70" fill="none" stroke="#1f2ff0" stroke-width="0.8"/>
<circle cx="394.24" cy="274.39" r="1.70" fill="none" stroke="#1f2ff0" stroke-width="0.8"/>
<circle cx="400.36" cy="274.39" r="1.70" fill="none" stroke="#1f2ff0" stroke-width="0.8"/>
<line x1="397.30" y1="268.03" x2="397.30" y2="265.09" stroke="#1f2ff0" stroke-width="0.8"/>
<line x1="395.10" y1="268.03" x2="399.50" y2="268.03" stroke="#1f2ff0" stroke-width="0.8"/>
<line x1="395.10" y1="265.09" x2="399.50" y2="265.09" stroke="#1f2ff0" stroke-width="0.8"/>
<line x1="391.30" y1="266.56" x2="403.30" y2="266.56" stroke="#111" stroke-width="1.0"/>
<circle cx="414.90" cy="216.65" r="2.00" fill="#1f2ff0"/>
<circle cx="411.84" cy="217.62" r="2.00" fill="#1f2ff0"/>
<circle cx="417.96" cy="217.62" r="2.00" fill="#1f2ff0"/>
<circle cx="414.90" cy="227.41" r="2.00" fill="#1f2ff0"/>
<circle cx="414.90" cy="265.58" r="2.00" fill="#1f2ff0"/>
<circle cx="411.84" cy="267.54" r="2.00" fill="#1f2ff0"/>
<circle cx="414.90" cy="268.52" r="2.00" fill="#1f2ff0"/>
<circle cx="417.96" cy="269.50" r="2.00" fill="#1f2ff0"/>
<circle cx="411.84" cy="270.48" r="2.00" fill="#1f2ff0"/>
<circle cx="414.90" cy="272.43" r="2.00" fill="#1f2ff0"/>
<circle cx="411.84" cy="274.39" r="2.00" fill="#1f2ff0"/>
<circle cx="414.90" cy="276.35" r="2.00" fill="#1f2ff0"/>
<line x1="414.90" y1="260.69" x2="414.90" y2="245.52" stroke="#1f2ff0" stroke-width="0.8"/>
<line x1="412.70" y1="260.69" x2="417.10" y2="260.69" stroke="#1f2ff0" stroke-width="0.8"/>
<line x1="412.70" y1="245.52" x2="417.10" y2="245.52" stroke="#1f2ff0" stroke-width="0.8"/>
<line x1="408.90" y1="253.35" x2="420.90" y2="253.35" stroke="#111" stroke-width="1.0"/>
<path d="M432.80,226.52 L434.67,229.89 L430.93,229.89Z" fill="none" stroke="#ee1e1e" stroke-width="0.8"/>
<path d="M432.80,237.29 L434.67,240.65 L430.93,240.65Z" fill="none" stroke="#ee1e1e" stroke-width="0.8"/>
<path d="M432.80,248.05 L434.67,251.42 L430.93,251.42Z" fill="none" stroke="#ee1e1e" stroke-width="0.8"/>
<path d="M432.80,257.84 L434.67,261.21 L430.93,261.21Z" fill="none" stroke="#ee1e1e" stroke-width="0.8"/>
<path d="M432.80,261.75 L434.67,265.12 L430.93,265.12Z" fill="none" stroke="#ee1e1e" stroke-width="0.8"/>
<path d="M432.80,264.69 L434.67,268.06 L430.93,268.06Z" fill="none" stroke="#ee1e1e" stroke-width="0.8"/>
<path d="M432.80,269.58 L434.67,272.95 L430.93,272.95Z" fill="none" stroke="#ee1e1e" stroke-width="0.8"/>
<path d="M429.74,271.54 L431.61,274.91 L427.87,274.91Z" fill="none" stroke="#ee1e1e" stroke-width="0.8"/>
<path d="M432.80,272.52 L434.67,275.89 L430.93,275.89Z" fill="none" stroke="#ee1e1e" stroke-width="0.8"/>
<path d="M435.86,273.50 L437.73,276.87 L433.99,276.87Z" fill="none" stroke="#ee1e1e" stroke-width="0.8"/>
<path d="M432.80,275.46 L434.67,278.82 L430.93,278.82Z" fill="none" stroke="#ee1e1e" stroke-width="0.8"/>
<path d="M429.74,276.44 L431.61,279.80 L427.87,279.80Z" fill="none" stroke="#ee1e1e" stroke-width="0.8"/>
<path d="M432.80,278.39 L434.67,281.76 L430.93,281.76Z" fill="none" stroke="#ee1e1e" stroke-width="0.8"/>
<line x1="432.80" y1="268.52" x2="432.80" y2="258.73" stroke="#ee1e1e" stroke-width="0.8"/>
<line x1="430.60" y1="268.52" x2="435.00" y2="268.52" stroke="#ee1e1e" stroke-width="0.8"/>
<line x1="430.60" y1="258.73" x2="435.00" y2="258.73" stroke="#ee1e1e" stroke-width="0.8"/>
<line x1="426.80" y1="263.62" x2="438.80" y2="263.62" stroke="#111" stroke-width="1.0"/>
<path d="M450.80,216.56 L452.84,220.23 L448.76,220.23Z" fill="#ee1e1e"/>
<path d="M447.74,217.54 L449.78,221.21 L445.70,221.21Z" fill="#ee1e1e"/>
<path d="M450.80,238.09 L452.84,241.77 L448.76,241.77Z" fill="#ee1e1e"/>
<path d="M450.80,243.97 L452.84,247.64 L448.76,247.64Z" fill="#ee1e1e"/>
<path d="M450.80,246.90 L452.84,250.58 L448.76,250.58Z" fill="#ee1e1e"/>
<path d="M450.80,256.69 L452.84,260.36 L448.76,260.36Z" fill="#ee1e1e"/>
<path d="M450.80,265.50 L452.84,269.17 L448.76,269.17Z" fill="#ee1e1e"/>
<path d="M447.74,267.46 L449.78,271.13 L445.70,271.13Z" fill="#ee1e1e"/>
<path d="M450.80,268.44 L452.84,272.11 L448.76,272.11Z" fill="#ee1e1e"/>
<path d="M453.86,269.41 L455.90,273.09 L451.82,273.09Z" fill="#ee1e1e"/>
<path d="M447.74,270.39 L449.78,274.07 L445.70,274.07Z" fill="#ee1e1e"/>
<path d="M450.80,271.37 L452.84,275.04 L448.76,275.04Z" fill="#ee1e1e"/>
<line x1="450.80" y1="258.73" x2="450.80" y2="248.94" stroke="#ee1e1e" stroke-width="0.8"/>
<line x1="448.60" y1="258.73" x2="453.00" y2="258.73" stroke="#ee1e1e" stroke-width="0.8"/>
<line x1="448.60" y1="248.94" x2="453.00" y2="248.94" stroke="#ee1e1e" stroke-width="0.8"/>
<line x1="444.80" y1="253.84" x2="456.80" y2="253.84" stroke="#111" stroke-width="1.0"/>
<text x="544.40" y="169.00" font-size="8.5" text-anchor="middle" font-weight="bold" font-style="italic" fill="#000">Il17a</text>
<line x1="502.60" y1="203.00" x2="502.60" y2="282.50" stroke="#222" stroke-width="1.1"/>
<line x1="502.10" y1="282.00" x2="579.00" y2="282.00" stroke="#222" stroke-width="1.1"/>
<line x1="500.40" y1="282.00" x2="502.60" y2="282.00" stroke="#222" stroke-width="0.9"/>
<text x="499.60" y="283.96" font-size="5.45" text-anchor="end" font-weight="bold" fill="#000">0.00</text>
<line x1="500.40" y1="255.83" x2="502.60" y2="255.83" stroke="#222" stroke-width="0.9"/>
<text x="499.60" y="257.80" font-size="5.45" text-anchor="end" font-weight="bold" fill="#000">0.02</text>
<line x1="500.40" y1="229.67" x2="502.60" y2="229.67" stroke="#222" stroke-width="0.9"/>
<text x="499.60" y="231.63" font-size="5.45" text-anchor="end" font-weight="bold" fill="#000">0.04</text>
<line x1="500.40" y1="203.50" x2="502.60" y2="203.50" stroke="#222" stroke-width="0.9"/>
<text x="499.60" y="205.46" font-size="5.45" text-anchor="end" font-weight="bold" fill="#000">0.06</text>
<line x1="514.90" y1="282.00" x2="514.90" y2="284.30" stroke="#222" stroke-width="0.9"/>
<line x1="532.80" y1="282.00" x2="532.80" y2="284.30" stroke="#222" stroke-width="0.9"/>
<line x1="550.80" y1="282.00" x2="550.80" y2="284.30" stroke="#222" stroke-width="0.9"/>
<line x1="568.90" y1="282.00" x2="568.90" y2="284.30" stroke="#222" stroke-width="0.9"/>
<text x="484.20" y="243.10" font-size="6.4" text-anchor="middle" font-weight="bold" fill="#000" transform="rotate(-90 484.2 243.1)">2^ΔCT</text>
<line x1="532.40" y1="193.50" x2="572.00" y2="193.50" stroke="#111" stroke-width="1.5"/>
<text x="552.20" y="190.30" font-size="6.6" text-anchor="middle" fill="#222">p&lt;0.0001</text>
<line x1="511.90" y1="205.40" x2="532.80" y2="205.40" stroke="#111" stroke-width="1.5"/>
<text x="522.35" y="202.20" font-size="6.6" text-anchor="middle" fill="#222">p=0.0595</text>
<line x1="548.00" y1="205.40" x2="572.00" y2="205.40" stroke="#111" stroke-width="1.5"/>
<text x="560.00" y="202.20" font-size="6.6" text-anchor="middle" fill="#222">p&lt;0.0001</text>
<line x1="511.90" y1="216.80" x2="548.00" y2="216.80" stroke="#111" stroke-width="1.5"/>
<text x="529.95" y="213.60" font-size="6.6" text-anchor="middle" fill="#222">p=0.9654</text>
<circle cx="514.90" cy="271.53" r="1.70" fill="none" stroke="#1f2ff0" stroke-width="0.8"/>
<circle cx="511.84" cy="272.84" r="1.70" fill="none" stroke="#1f2ff0" stroke-width="0.8"/>
<circle cx="514.90" cy="276.77" r="1.70" fill="none" stroke="#1f2ff0" stroke-width="0.8"/>
<circle cx="514.90" cy="279.38" r="1.70" fill="none" stroke="#1f2ff0" stroke-width="0.8"/>
<line x1="514.90" y1="276.77" x2="514.90" y2="274.15" stroke="#1f2ff0" stroke-width="0.8"/>
<line x1="512.70" y1="276.77" x2="517.10" y2="276.77" stroke="#1f2ff0" stroke-width="0.8"/>
<line x1="512.70" y1="274.15" x2="517.10" y2="274.15" stroke="#1f2ff0" stroke-width="0.8"/>
<line x1="508.90" y1="275.46" x2="520.90" y2="275.46" stroke="#111" stroke-width="1.0"/>
<rect x="531.01" y="250.12" width="3.57" height="3.57" fill="#1f2ff0"/>
<rect x="531.01" y="259.28" width="3.57" height="3.57" fill="#1f2ff0"/>
<rect x="531.01" y="263.21" width="3.57" height="3.57" fill="#1f2ff0"/>
<rect x="531.01" y="273.67" width="3.57" height="3.57" fill="#1f2ff0"/>
<line x1="532.80" y1="267.61" x2="532.80" y2="258.45" stroke="#1f2ff0" stroke-width="0.8"/>
<line x1="530.60" y1="267.61" x2="535.00" y2="267.61" stroke="#1f2ff0" stroke-width="0.8"/>
<line x1="530.60" y1="258.45" x2="535.00" y2="258.45" stroke="#1f2ff0" stroke-width="0.8"/>
<line x1="526.80" y1="263.29" x2="538.80" y2="263.29" stroke="#111" stroke-width="1.0"/>
<path d="M550.80,272.28 L552.67,275.65 L548.93,275.65Z" fill="none" stroke="#ee1e1e" stroke-width="0.8"/>
<path d="M550.80,274.90 L552.67,278.26 L548.93,278.26Z" fill="none" stroke="#ee1e1e" stroke-width="0.8"/>
<path d="M547.74,276.20 L549.61,279.57 L545.87,279.57Z" fill="none" stroke="#ee1e1e" stroke-width="0.8"/>
<path d="M550.80,277.51 L552.67,280.88 L548.93,280.88Z" fill="none" stroke="#ee1e1e" stroke-width="0.8"/>
<line x1="550.80" y1="278.07" x2="550.80" y2="276.77" stroke="#ee1e1e" stroke-width="0.8"/>
<line x1="548.60" y1="278.07" x2="553.00" y2="278.07" stroke="#ee1e1e" stroke-width="0.8"/>
<line x1="548.60" y1="276.77" x2="553.00" y2="276.77" stroke="#ee1e1e" stroke-width="0.8"/>
<line x1="544.80" y1="277.42" x2="556.80" y2="277.42" stroke="#111" stroke-width="1.0"/>
<path d="M568.90,219.93 L570.94,216.26 L566.86,216.26Z" fill="#ee1e1e"/>
<path d="M568.90,223.86 L570.94,220.18 L566.86,220.18Z" fill="#ee1e1e"/>
<path d="M568.90,226.47 L570.94,222.80 L566.86,222.80Z" fill="#ee1e1e"/>
<path d="M568.90,229.09 L570.94,225.42 L566.86,225.42Z" fill="#ee1e1e"/>
<line x1="568.90" y1="224.43" x2="568.90" y2="221.82" stroke="#ee1e1e" stroke-width="0.8"/>
<line x1="566.70" y1="224.43" x2="571.10" y2="224.43" stroke="#ee1e1e" stroke-width="0.8"/>
<line x1="566.70" y1="221.82" x2="571.10" y2="221.82" stroke="#ee1e1e" stroke-width="0.8"/>
<line x1="562.90" y1="223.12" x2="574.90" y2="223.12" stroke="#111" stroke-width="1.0"/>
<text x="643.30" y="169.00" font-size="8.5" text-anchor="middle" font-weight="bold" font-style="italic" fill="#000">Il23a</text>
<line x1="610.30" y1="204.70" x2="610.30" y2="283.70" stroke="#222" stroke-width="1.1"/>
<line x1="609.80" y1="283.20" x2="680.60" y2="283.20" stroke="#222" stroke-width="1.1"/>
<line x1="608.10" y1="283.20" x2="610.30" y2="283.20" stroke="#222" stroke-width="0.9"/>
<text x="607.30" y="285.22" font-size="5.6" text-anchor="end" font-weight="bold" fill="#000">0.000</text>
<line x1="608.10" y1="267.60" x2="610.30" y2="267.60" stroke="#222" stroke-width="0.9"/>
<text x="607.30" y="269.62" font-size="5.6" text-anchor="end" font-weight="bold" fill="#000">0.001</text>
<line x1="608.10" y1="252.00" x2="610.30" y2="252.00" stroke="#222" stroke-width="0.9"/>
<text x="607.30" y="254.02" font-size="5.6" text-anchor="end" font-weight="bold" fill="#000">0.002</text>
<line x1="608.10" y1="236.40" x2="610.30" y2="236.40" stroke="#222" stroke-width="0.9"/>
<text x="607.30" y="238.42" font-size="5.6" text-anchor="end" font-weight="bold" fill="#000">0.003</text>
<line x1="608.10" y1="220.80" x2="610.30" y2="220.80" stroke="#222" stroke-width="0.9"/>
<text x="607.30" y="222.82" font-size="5.6" text-anchor="end" font-weight="bold" fill="#000">0.004</text>
<line x1="608.10" y1="205.20" x2="610.30" y2="205.20" stroke="#222" stroke-width="0.9"/>
<text x="607.30" y="207.22" font-size="5.6" text-anchor="end" font-weight="bold" fill="#000">0.005</text>
<line x1="621.00" y1="283.20" x2="621.00" y2="285.50" stroke="#222" stroke-width="0.9"/>
<line x1="637.00" y1="283.20" x2="637.00" y2="285.50" stroke="#222" stroke-width="0.9"/>
<line x1="653.30" y1="283.20" x2="653.30" y2="285.50" stroke="#222" stroke-width="0.9"/>
<line x1="669.60" y1="283.20" x2="669.60" y2="285.50" stroke="#222" stroke-width="0.9"/>
<text x="589.00" y="244.60" font-size="6.4" text-anchor="middle" font-weight="bold" fill="#000" transform="rotate(-90 589.0 244.6)">2^ΔCT</text>
<line x1="636.60" y1="183.80" x2="673.10" y2="183.80" stroke="#111" stroke-width="1.5"/>
<text x="654.85" y="180.60" font-size="6.4" text-anchor="middle" fill="#222">p=0.9277</text>
<line x1="618.40" y1="195.40" x2="637.00" y2="195.40" stroke="#111" stroke-width="1.5"/>
<text x="627.70" y="192.20" font-size="6.4" text-anchor="middle" fill="#222">p=0.8758</text>
<line x1="651.00" y1="195.40" x2="673.10" y2="195.40" stroke="#111" stroke-width="1.5"/>
<text x="662.05" y="192.20" font-size="6.4" text-anchor="middle" fill="#222">p=0.8341</text>
<line x1="618.40" y1="205.90" x2="651.00" y2="205.90" stroke="#111" stroke-width="1.5"/>
<text x="634.70" y="202.70" font-size="6.4" text-anchor="middle" fill="#222">p=0.9540</text>
<circle cx="621.00" cy="245.76" r="1.70" fill="none" stroke="#1f2ff0" stroke-width="0.8"/>
<circle cx="621.00" cy="261.36" r="1.70" fill="none" stroke="#1f2ff0" stroke-width="0.8"/>
<circle cx="621.00" cy="264.48" r="1.70" fill="none" stroke="#1f2ff0" stroke-width="0.8"/>
<circle cx="621.00" cy="272.28" r="1.70" fill="none" stroke="#1f2ff0" stroke-width="0.8"/>
<line x1="621.00" y1="264.48" x2="621.00" y2="253.56" stroke="#1f2ff0" stroke-width="0.8"/>
<line x1="618.80" y1="264.48" x2="623.20" y2="264.48" stroke="#1f2ff0" stroke-width="0.8"/>
<line x1="618.80" y1="253.56" x2="623.20" y2="253.56" stroke="#1f2ff0" stroke-width="0.8"/>
<line x1="615.00" y1="259.33" x2="627.00" y2="259.33" stroke="#111" stroke-width="1.0"/>
<rect x="635.22" y="237.73" width="3.57" height="3.57" fill="#1f2ff0"/>
<rect x="635.22" y="247.09" width="3.57" height="3.57" fill="#1f2ff0"/>
<rect x="635.22" y="253.34" width="3.57" height="3.57" fill="#1f2ff0"/>
<rect x="635.22" y="261.13" width="3.57" height="3.57" fill="#1f2ff0"/>
<line x1="637.00" y1="255.12" x2="637.00" y2="245.76" stroke="#1f2ff0" stroke-width="0.8"/>
<line x1="634.80" y1="255.12" x2="639.20" y2="255.12" stroke="#1f2ff0" stroke-width="0.8"/>
<line x1="634.80" y1="245.76" x2="639.20" y2="245.76" stroke="#1f2ff0" stroke-width="0.8"/>
<line x1="631.00" y1="250.44" x2="643.00" y2="250.44" stroke="#111" stroke-width="1.0"/>
<path d="M653.30,212.69 L655.17,216.06 L651.43,216.06Z" fill="none" stroke="#ee1e1e" stroke-width="0.8"/>
<path d="M653.30,242.33 L655.17,245.70 L651.43,245.70Z" fill="none" stroke="#ee1e1e" stroke-width="0.8"/>
<path d="M653.30,257.93 L655.17,261.30 L651.43,261.30Z" fill="none" stroke="#ee1e1e" stroke-width="0.8"/>
<path d="M650.24,259.49 L652.11,262.86 L648.37,262.86Z" fill="none" stroke="#ee1e1e" stroke-width="0.8"/>
<line x1="653.30" y1="255.12" x2="653.30" y2="233.28" stroke="#ee1e1e" stroke-width="0.8"/>
<line x1="651.10" y1="255.12" x2="655.50" y2="255.12" stroke="#ee1e1e" stroke-width="0.8"/>
<line x1="651.10" y1="233.28" x2="655.50" y2="233.28" stroke="#ee1e1e" stroke-width="0.8"/>
<line x1="647.30" y1="243.73" x2="659.30" y2="243.73" stroke="#111" stroke-width="1.0"/>
<path d="M669.60,227.52 L671.64,223.85 L667.56,223.85Z" fill="#ee1e1e"/>
<path d="M669.60,260.28 L671.64,256.61 L667.56,256.61Z" fill="#ee1e1e"/>
<path d="M666.54,261.84 L668.58,258.17 L664.50,258.17Z" fill="#ee1e1e"/>
<path d="M669.60,269.64 L671.64,265.97 L667.56,265.97Z" fill="#ee1e1e"/>
<line x1="669.60" y1="262.92" x2="669.60" y2="244.20" stroke="#ee1e1e" stroke-width="0.8"/>
<line x1="667.40" y1="262.92" x2="671.80" y2="262.92" stroke="#ee1e1e" stroke-width="0.8"/>
<line x1="667.40" y1="244.20" x2="671.80" y2="244.20" stroke="#ee1e1e" stroke-width="0.8"/>
<line x1="663.60" y1="253.56" x2="675.60" y2="253.56" stroke="#111" stroke-width="1.0"/>
<line x1="599.70" y1="354.00" x2="599.70" y2="433.30" stroke="#222" stroke-width="1.1"/>
<line x1="599.20" y1="432.80" x2="677.00" y2="432.80" stroke="#222" stroke-width="1.1"/>
<line x1="597.50" y1="432.80" x2="599.70" y2="432.80" stroke="#222" stroke-width="0.9"/>
<text x="596.70" y="434.78" font-size="5.5" text-anchor="end" font-weight="bold" fill="#000">0</text>
<line x1="597.50" y1="417.14" x2="599.70" y2="417.14" stroke="#222" stroke-width="0.9"/>
<text x="596.70" y="419.12" font-size="5.5" text-anchor="end" font-weight="bold" fill="#000">20</text>
<line x1="597.50" y1="401.48" x2="599.70" y2="401.48" stroke="#222" stroke-width="0.9"/>
<text x="596.70" y="403.46" font-size="5.5" text-anchor="end" font-weight="bold" fill="#000">40</text>
<line x1="597.50" y1="385.82" x2="599.70" y2="385.82" stroke="#222" stroke-width="0.9"/>
<text x="596.70" y="387.80" font-size="5.5" text-anchor="end" font-weight="bold" fill="#000">60</text>
<line x1="597.50" y1="370.16" x2="599.70" y2="370.16" stroke="#222" stroke-width="0.9"/>
<text x="596.70" y="372.14" font-size="5.5" text-anchor="end" font-weight="bold" fill="#000">80</text>
<line x1="597.50" y1="354.50" x2="599.70" y2="354.50" stroke="#222" stroke-width="0.9"/>
<text x="596.70" y="356.48" font-size="5.5" text-anchor="end" font-weight="bold" fill="#000">100</text>
<line x1="611.10" y1="432.80" x2="611.10" y2="435.10" stroke="#222" stroke-width="0.9"/>
<line x1="629.30" y1="432.80" x2="629.30" y2="435.10" stroke="#222" stroke-width="0.9"/>
<line x1="647.50" y1="432.80" x2="647.50" y2="435.10" stroke="#222" stroke-width="0.9"/>
<line x1="665.70" y1="432.80" x2="665.70" y2="435.10" stroke="#222" stroke-width="0.9"/>
<text x="581.00" y="392.80" font-size="6.5" text-anchor="middle" font-weight="bold" fill="#000" transform="rotate(-90 581.0 392.8)">Epidermal Thickness (μm)</text>
<line x1="628.40" y1="343.40" x2="668.50" y2="343.40" stroke="#111" stroke-width="1.5"/>
<text x="648.45" y="340.20" font-size="6.3" text-anchor="middle" fill="#222">p=0.0001</text>
<line x1="613.00" y1="355.30" x2="631.60" y2="355.30" stroke="#111" stroke-width="1.5"/>
<text x="622.30" y="352.10" font-size="6.3" text-anchor="middle" fill="#222">p&lt;0.0001</text>
<line x1="648.50" y1="355.30" x2="668.50" y2="355.30" stroke="#111" stroke-width="1.5"/>
<text x="658.50" y="352.10" font-size="6.3" text-anchor="middle" fill="#222">p&lt;0.0001</text>
<circle cx="611.10" cy="413.23" r="1.70" fill="none" stroke="#1f2ff0" stroke-width="0.8"/>
<circle cx="608.04" cy="414.79" r="1.70" fill="none" stroke="#1f2ff0" stroke-width="0.8"/>
<circle cx="611.10" cy="416.36" r="1.70" fill="none" stroke="#1f2ff0" stroke-width="0.8"/>
<circle cx="614.16" cy="417.14" r="1.70" fill="none" stroke="#1f2ff0" stroke-width="0.8"/>
<circle cx="608.04" cy="417.92" r="1.70" fill="none" stroke="#1f2ff0" stroke-width="0.8"/>
<circle cx="615.90" cy="417.92" r="1.70" fill="none" stroke="#1f2ff0" stroke-width="0.8"/>
<circle cx="611.90" cy="418.71" r="1.70" fill="none" stroke="#1f2ff0" stroke-width="0.8"/>
<circle cx="606.30" cy="419.49" r="1.70" fill="none" stroke="#1f2ff0" stroke-width="0.8"/>
<circle cx="609.57" cy="420.27" r="1.70" fill="none" stroke="#1f2ff0" stroke-width="0.8"/>
<circle cx="614.16" cy="420.27" r="1.70" fill="none" stroke="#1f2ff0" stroke-width="0.8"/>
<line x1="605.10" y1="417.53" x2="617.10" y2="417.53" stroke="#111" stroke-width="1.0"/>
<rect x="627.51" y="362.11" width="3.57" height="3.57" fill="#1f2ff0"/>
<rect x="627.51" y="372.29" width="3.57" height="3.57" fill="#1f2ff0"/>
<rect x="627.51" y="378.55" width="3.57" height="3.57" fill="#1f2ff0"/>
<rect x="627.51" y="384.03" width="3.57" height="3.57" fill="#1f2ff0"/>
<rect x="624.46" y="385.60" width="3.57" height="3.57" fill="#1f2ff0"/>
<rect x="627.51" y="387.95" width="3.57" height="3.57" fill="#1f2ff0"/>
<rect x="625.99" y="390.30" width="3.57" height="3.57" fill="#1f2ff0"/>
<rect x="627.51" y="402.83" width="3.57" height="3.57" fill="#1f2ff0"/>
<rect x="624.46" y="403.61" width="3.57" height="3.57" fill="#1f2ff0"/>
<rect x="627.51" y="405.96" width="3.57" height="3.57" fill="#1f2ff0"/>
<line x1="629.30" y1="392.48" x2="629.30" y2="385.82" stroke="#1f2ff0" stroke-width="0.8"/>
<line x1="627.10" y1="392.48" x2="631.50" y2="392.48" stroke="#1f2ff0" stroke-width="0.8"/>
<line x1="627.10" y1="385.82" x2="631.50" y2="385.82" stroke="#1f2ff0" stroke-width="0.8"/>
<line x1="623.30" y1="388.95" x2="635.30" y2="388.95" stroke="#111" stroke-width="1.0"/>
<path d="M647.50,413.70 L649.37,417.07 L645.63,417.07Z" fill="none" stroke="#ee1e1e" stroke-width="0.8"/>
<path d="M644.44,414.49 L646.31,417.85 L642.57,417.85Z" fill="none" stroke="#ee1e1e" stroke-width="0.8"/>
<path d="M650.56,415.27 L652.43,418.64 L648.69,418.64Z" fill="none" stroke="#ee1e1e" stroke-width="0.8"/>
<path d="M646.70,416.05 L648.57,419.42 L644.83,419.42Z" fill="none" stroke="#ee1e1e" stroke-width="0.8"/>
<path d="M642.70,416.05 L644.57,419.42 L640.83,419.42Z" fill="none" stroke="#ee1e1e" stroke-width="0.8"/>
<path d="M652.30,416.84 L654.17,420.20 L650.43,420.20Z" fill="none" stroke="#ee1e1e" stroke-width="0.8"/>
<path d="M649.10,416.84 L650.97,420.20 L647.23,420.20Z" fill="none" stroke="#ee1e1e" stroke-width="0.8"/>
<path d="M644.30,417.62 L646.17,420.99 L642.43,420.99Z" fill="none" stroke="#ee1e1e" stroke-width="0.8"/>
<path d="M650.70,417.62 L652.57,420.99 L648.83,420.99Z" fill="none" stroke="#ee1e1e" stroke-width="0.8"/>
<line x1="641.50" y1="417.92" x2="653.50" y2="417.92" stroke="#111" stroke-width="1.0"/>
<path d="M665.70,363.59 L667.74,359.92 L663.66,359.92Z" fill="#ee1e1e"/>
<path d="M662.64,365.15 L664.68,361.48 L660.60,361.48Z" fill="#ee1e1e"/>
<path d="M665.70,366.72 L667.74,363.05 L663.66,363.05Z" fill="#ee1e1e"/>
<path d="M662.64,368.29 L664.68,364.61 L660.60,364.61Z" fill="#ee1e1e"/>
<path d="M665.70,372.20 L667.74,368.53 L663.66,368.53Z" fill="#ee1e1e"/>
<path d="M664.17,374.55 L666.21,370.88 L662.13,370.88Z" fill="#ee1e1e"/>
<path d="M667.23,375.33 L669.27,371.66 L665.19,371.66Z" fill="#ee1e1e"/>
<path d="M665.70,378.46 L667.74,374.79 L663.66,374.79Z" fill="#ee1e1e"/>
<path d="M662.64,380.03 L664.68,376.36 L660.60,376.36Z" fill="#ee1e1e"/>
<path d="M665.70,383.94 L667.74,380.27 L663.66,380.27Z" fill="#ee1e1e"/>
<line x1="665.70" y1="373.68" x2="665.70" y2="369.77" stroke="#ee1e1e" stroke-width="0.8"/>
<line x1="663.50" y1="373.68" x2="667.90" y2="373.68" stroke="#ee1e1e" stroke-width="0.8"/>
<line x1="663.50" y1="369.77" x2="667.90" y2="369.77" stroke="#ee1e1e" stroke-width="0.8"/>
<line x1="659.70" y1="371.73" x2="671.70" y2="371.73" stroke="#111" stroke-width="1.0"/>
<line x1="143.00" y1="509.50" x2="143.00" y2="589.20" stroke="#222" stroke-width="1.1"/>
<line x1="142.50" y1="588.70" x2="220.50" y2="588.70" stroke="#222" stroke-width="1.1"/>
<line x1="140.80" y1="588.70" x2="143.00" y2="588.70" stroke="#222" stroke-width="0.9"/>
<text x="140.00" y="590.68" font-size="5.5" text-anchor="end" font-weight="bold" fill="#000">0</text>
<line x1="140.80" y1="562.47" x2="143.00" y2="562.47" stroke="#222" stroke-width="0.9"/>
<text x="140.00" y="564.45" font-size="5.5" text-anchor="end" font-weight="bold" fill="#000">20</text>
<line x1="140.80" y1="536.23" x2="143.00" y2="536.23" stroke="#222" stroke-width="0.9"/>
<text x="140.00" y="538.21" font-size="5.5" text-anchor="end" font-weight="bold" fill="#000">40</text>
<line x1="140.80" y1="510.00" x2="143.00" y2="510.00" stroke="#222" stroke-width="0.9"/>
<text x="140.00" y="511.98" font-size="5.5" text-anchor="end" font-weight="bold" fill="#000">60</text>
<line x1="155.00" y1="588.70" x2="155.00" y2="591.00" stroke="#222" stroke-width="0.9"/>
<line x1="173.00" y1="588.70" x2="173.00" y2="591.00" stroke="#222" stroke-width="0.9"/>
<line x1="190.80" y1="588.70" x2="190.80" y2="591.00" stroke="#222" stroke-width="0.9"/>
<line x1="208.60" y1="588.70" x2="208.60" y2="591.00" stroke="#222" stroke-width="0.9"/>
<text x="129.20" y="550.90" font-size="6.4" text-anchor="middle" font-weight="bold" fill="#000" transform="rotate(-90 129.2 550.9)">IL17<tspan font-size="4" dy="-2">+</tspan><tspan dy="2"> IL22</tspan><tspan font-size="4" dy="-2">+</tspan><tspan dy="2"> Cells %</tspan></text>
<line x1="170.70" y1="493.40" x2="210.90" y2="493.40" stroke="#111" stroke-width="1.5"/>
<text x="190.80" y="490.20" font-size="6.4" text-anchor="middle" fill="#222">p=0.0428</text>
<line x1="155.40" y1="505.30" x2="174.50" y2="505.30" stroke="#111" stroke-width="1.5"/>
<text x="164.95" y="502.10" font-size="6.4" text-anchor="middle" fill="#222">p=0.0004</text>
<line x1="189.90" y1="505.30" x2="210.90" y2="505.30" stroke="#111" stroke-width="1.5"/>
<text x="200.40" y="502.10" font-size="6.4" text-anchor="middle" fill="#222">p&lt;0.0001</text>
<circle cx="155.00" cy="546.73" r="1.70" fill="none" stroke="#1f2ff0" stroke-width="0.8"/>
<circle cx="151.94" cy="548.04" r="1.70" fill="none" stroke="#1f2ff0" stroke-width="0.8"/>
<circle cx="155.00" cy="553.28" r="1.70" fill="none" stroke="#1f2ff0" stroke-width="0.8"/>
<circle cx="155.00" cy="555.91" r="1.70" fill="none" stroke="#1f2ff0" stroke-width="0.8"/>
<circle cx="151.94" cy="557.22" r="1.70" fill="none" stroke="#1f2ff0" stroke-width="0.8"/>
<circle cx="158.06" cy="557.22" r="1.70" fill="none" stroke="#1f2ff0" stroke-width="0.8"/>
<circle cx="155.00" cy="558.53" r="1.70" fill="none" stroke="#1f2ff0" stroke-width="0.8"/>
<circle cx="151.94" cy="559.84" r="1.70" fill="none" stroke="#1f2ff0" stroke-width="0.8"/>
<circle cx="155.00" cy="562.47" r="1.70" fill="none" stroke="#1f2ff0" stroke-width="0.8"/>
<circle cx="155.00" cy="566.40" r="1.70" fill="none" stroke="#1f2ff0" stroke-width="0.8"/>
<circle cx="151.94" cy="567.71" r="1.70" fill="none" stroke="#1f2ff0" stroke-width="0.8"/>
<line x1="149.00" y1="557.22" x2="161.00" y2="557.22" stroke="#111" stroke-width="1.0"/>
<circle cx="173.00" cy="536.23" r="2.00" fill="#1f2ff0"/>
<circle cx="169.94" cy="536.89" r="2.00" fill="#1f2ff0"/>
<circle cx="176.06" cy="537.54" r="2.00" fill="#1f2ff0"/>
<circle cx="168.20" cy="538.20" r="2.00" fill="#1f2ff0"/>
<circle cx="173.00" cy="538.86" r="2.00" fill="#1f2ff0"/>
<circle cx="177.80" cy="538.86" r="2.00" fill="#1f2ff0"/>
<circle cx="170.60" cy="539.51" r="2.00" fill="#1f2ff0"/>
<circle cx="175.40" cy="540.17" r="2.00" fill="#1f2ff0"/>
<line x1="167.00" y1="538.20" x2="179.00" y2="538.20" stroke="#111" stroke-width="1.0"/>
<path d="M190.80,546.17 L192.67,549.53 L188.93,549.53Z" fill="none" stroke="#ee1e1e" stroke-width="0.8"/>
<path d="M190.80,548.79 L192.67,552.16 L188.93,552.16Z" fill="none" stroke="#ee1e1e" stroke-width="0.8"/>
<path d="M190.80,552.73 L192.67,556.09 L188.93,556.09Z" fill="none" stroke="#ee1e1e" stroke-width="0.8"/>
<path d="M190.80,555.35 L192.67,558.72 L188.93,558.72Z" fill="none" stroke="#ee1e1e" stroke-width="0.8"/>
<path d="M190.80,557.97 L192.67,561.34 L188.93,561.34Z" fill="none" stroke="#ee1e1e" stroke-width="0.8"/>
<path d="M190.80,563.22 L192.67,566.59 L188.93,566.59Z" fill="none" stroke="#ee1e1e" stroke-width="0.8"/>
<path d="M190.80,575.02 L192.67,578.39 L188.93,578.39Z" fill="none" stroke="#ee1e1e" stroke-width="0.8"/>
<line x1="190.80" y1="562.47" x2="190.80" y2="554.60" stroke="#ee1e1e" stroke-width="0.8"/>
<line x1="188.60" y1="562.47" x2="193.00" y2="562.47" stroke="#ee1e1e" stroke-width="0.8"/>
<line x1="188.60" y1="554.60" x2="193.00" y2="554.60" stroke="#ee1e1e" stroke-width="0.8"/>
<line x1="184.80" y1="558.53" x2="196.80" y2="558.53" stroke="#111" stroke-width="1.0"/>
<path d="M208.60,517.29 L210.64,513.61 L206.56,513.61Z" fill="#ee1e1e"/>
<path d="M208.60,519.91 L210.64,516.24 L206.56,516.24Z" fill="#ee1e1e"/>
<path d="M208.60,522.53 L210.64,518.86 L206.56,518.86Z" fill="#ee1e1e"/>
<path d="M208.60,525.16 L210.64,521.48 L206.56,521.48Z" fill="#ee1e1e"/>
<path d="M208.60,529.09 L210.64,525.42 L206.56,525.42Z" fill="#ee1e1e"/>
<path d="M208.60,531.72 L210.64,528.04 L206.56,528.04Z" fill="#ee1e1e"/>
<path d="M208.60,534.34 L210.64,530.67 L206.56,530.67Z" fill="#ee1e1e"/>
<path d="M208.60,543.52 L210.64,539.85 L206.56,539.85Z" fill="#ee1e1e"/>
<line x1="208.60" y1="529.68" x2="208.60" y2="523.12" stroke="#ee1e1e" stroke-width="0.8"/>
<line x1="206.40" y1="529.68" x2="210.80" y2="529.68" stroke="#ee1e1e" stroke-width="0.8"/>
<line x1="206.40" y1="523.12" x2="210.80" y2="523.12" stroke="#ee1e1e" stroke-width="0.8"/>
<line x1="202.60" y1="526.40" x2="214.60" y2="526.40" stroke="#111" stroke-width="1.0"/>
<line x1="371.00" y1="507.60" x2="371.00" y2="587.10" stroke="#222" stroke-width="1.1"/>
<line x1="370.50" y1="586.60" x2="449.50" y2="586.60" stroke="#222" stroke-width="1.1"/>
<line x1="368.80" y1="586.60" x2="371.00" y2="586.60" stroke="#222" stroke-width="0.9"/>
<text x="368.00" y="588.65" font-size="5.7" text-anchor="end" font-weight="bold" fill="#000">0</text>
<line x1="368.80" y1="570.90" x2="371.00" y2="570.90" stroke="#222" stroke-width="0.9"/>
<text x="368.00" y="572.95" font-size="5.7" text-anchor="end" font-weight="bold" fill="#000">10</text>
<line x1="368.80" y1="555.20" x2="371.00" y2="555.20" stroke="#222" stroke-width="0.9"/>
<text x="368.00" y="557.25" font-size="5.7" text-anchor="end" font-weight="bold" fill="#000">20</text>
<line x1="368.80" y1="539.50" x2="371.00" y2="539.50" stroke="#222" stroke-width="0.9"/>
<text x="368.00" y="541.55" font-size="5.7" text-anchor="end" font-weight="bold" fill="#000">30</text>
<line x1="368.80" y1="523.80" x2="371.00" y2="523.80" stroke="#222" stroke-width="0.9"/>
<text x="368.00" y="525.85" font-size="5.7" text-anchor="end" font-weight="bold" fill="#000">40</text>
<line x1="368.80" y1="508.10" x2="371.00" y2="508.10" stroke="#222" stroke-width="0.9"/>
<text x="368.00" y="510.15" font-size="5.7" text-anchor="end" font-weight="bold" fill="#000">50</text>
<line x1="383.50" y1="586.60" x2="383.50" y2="588.90" stroke="#222" stroke-width="0.9"/>
<line x1="401.30" y1="586.60" x2="401.30" y2="588.90" stroke="#222" stroke-width="0.9"/>
<line x1="419.30" y1="586.60" x2="419.30" y2="588.90" stroke="#222" stroke-width="0.9"/>
<line x1="437.40" y1="586.60" x2="437.40" y2="588.90" stroke="#222" stroke-width="0.9"/>
<text x="357.00" y="547.50" font-size="6.4" text-anchor="middle" font-weight="bold" fill="#000" transform="rotate(-90 357.0 547.5)">Neutrophil %</text>
<line x1="400.10" y1="491.50" x2="439.50" y2="491.50" stroke="#111" stroke-width="1.5"/>
<text x="419.80" y="488.30" font-size="6.5" text-anchor="middle" fill="#222">p=0.9870</text>
<line x1="384.00" y1="503.90" x2="402.60" y2="503.90" stroke="#111" stroke-width="1.5"/>
<text x="393.30" y="500.70" font-size="6.5" text-anchor="middle" fill="#222">p=0.0025</text>
<line x1="418.90" y1="503.90" x2="439.50" y2="503.90" stroke="#111" stroke-width="1.5"/>
<text x="429.20" y="500.70" font-size="6.5" text-anchor="middle" fill="#222">p=0.0023</text>
<path d="M383.50,576.71 L385.54,578.75 L383.50,580.79 L381.46,578.75Z" fill="none" stroke="#1f2ff0" stroke-width="0.8"/>
<path d="M380.44,577.50 L382.48,579.53 L380.44,581.57 L378.40,579.53Z" fill="none" stroke="#1f2ff0" stroke-width="0.8"/>
<path d="M386.56,578.28 L388.60,580.32 L386.56,582.36 L384.52,580.32Z" fill="none" stroke="#1f2ff0" stroke-width="0.8"/>
<path d="M382.70,579.07 L384.74,581.11 L382.70,583.14 L380.66,581.11Z" fill="none" stroke="#1f2ff0" stroke-width="0.8"/>
<path d="M378.91,579.85 L380.95,581.89 L378.91,583.93 L376.87,581.89Z" fill="none" stroke="#1f2ff0" stroke-width="0.8"/>
<path d="M388.30,579.85 L390.34,581.89 L388.30,583.93 L386.26,581.89Z" fill="none" stroke="#1f2ff0" stroke-width="0.8"/>
<path d="M385.03,580.64 L387.07,582.68 L385.03,584.72 L382.99,582.68Z" fill="none" stroke="#1f2ff0" stroke-width="0.8"/>
<path d="M381.10,581.42 L383.14,583.46 L381.10,585.50 L379.06,583.46Z" fill="none" stroke="#1f2ff0" stroke-width="0.8"/>
<path d="M383.50,582.99 L385.54,585.03 L383.50,587.07 L381.46,585.03Z" fill="none" stroke="#1f2ff0" stroke-width="0.8"/>
<line x1="377.50" y1="581.58" x2="389.50" y2="581.58" stroke="#111" stroke-width="1.0"/>
<rect x="399.51" y="537.72" width="3.57" height="3.57" fill="#1f2ff0"/>
<rect x="399.51" y="553.42" width="3.57" height="3.57" fill="#1f2ff0"/>
<rect x="396.45" y="554.99" width="3.57" height="3.57" fill="#1f2ff0"/>
<rect x="399.51" y="556.56" width="3.57" height="3.57" fill="#1f2ff0"/>
<rect x="399.51" y="562.84" width="3.57" height="3.57" fill="#1f2ff0"/>
<rect x="397.99" y="565.19" width="3.57" height="3.57" fill="#1f2ff0"/>
<line x1="401.30" y1="561.48" x2="401.30" y2="553.63" stroke="#1f2ff0" stroke-width="0.8"/>
<line x1="399.10" y1="561.48" x2="403.50" y2="561.48" stroke="#1f2ff0" stroke-width="0.8"/>
<line x1="399.10" y1="553.63" x2="403.50" y2="553.63" stroke="#1f2ff0" stroke-width="0.8"/>
<line x1="395.30" y1="557.56" x2="407.30" y2="557.56" stroke="#111" stroke-width="1.0"/>
<path d="M419.30,575.31 L421.17,578.68 L417.43,578.68Z" fill="none" stroke="#ee1e1e" stroke-width="0.8"/>
<path d="M419.30,578.45 L421.17,581.82 L417.43,581.82Z" fill="none" stroke="#ee1e1e" stroke-width="0.8"/>
<path d="M416.24,579.24 L418.11,582.60 L414.37,582.60Z" fill="none" stroke="#ee1e1e" stroke-width="0.8"/>
<path d="M422.36,580.02 L424.23,583.39 L420.49,583.39Z" fill="none" stroke="#ee1e1e" stroke-width="0.8"/>
<path d="M418.50,580.81 L420.37,584.17 L416.63,584.17Z" fill="none" stroke="#ee1e1e" stroke-width="0.8"/>
<path d="M414.71,581.59 L416.58,584.96 L412.84,584.96Z" fill="none" stroke="#ee1e1e" stroke-width="0.8"/>
<path d="M420.83,583.16 L422.70,586.53 L418.96,586.53Z" fill="none" stroke="#ee1e1e" stroke-width="0.8"/>
<line x1="413.30" y1="580.63" x2="425.30" y2="580.63" stroke="#111" stroke-width="1.0"/>
<path d="M437.40,520.35 L439.44,516.67 L435.36,516.67Z" fill="#ee1e1e"/>
<path d="M437.40,528.19 L439.44,524.52 L435.36,524.52Z" fill="#ee1e1e"/>
<path d="M437.40,566.66 L439.44,562.99 L435.36,562.99Z" fill="#ee1e1e"/>
<path d="M434.34,568.23 L436.38,564.56 L432.30,564.56Z" fill="#ee1e1e"/>
<path d="M438.93,569.01 L440.97,565.34 L436.89,565.34Z" fill="#ee1e1e"/>
<path d="M437.40,572.94 L439.44,569.27 L435.36,569.27Z" fill="#ee1e1e"/>
<line x1="437.40" y1="562.26" x2="437.40" y2="546.57" stroke="#ee1e1e" stroke-width="0.8"/>
<line x1="435.20" y1="562.26" x2="439.60" y2="562.26" stroke="#ee1e1e" stroke-width="0.8"/>
<line x1="435.20" y1="546.57" x2="439.60" y2="546.57" stroke="#ee1e1e" stroke-width="0.8"/>
<line x1="431.40" y1="554.41" x2="443.40" y2="554.41" stroke="#111" stroke-width="1.0"/>
<text x="529.20" y="470.80" font-size="8.5" text-anchor="middle" font-weight="bold" font-style="italic" fill="#000">Il17a</text>
<line x1="489.80" y1="494.10" x2="489.80" y2="582.40" stroke="#222" stroke-width="1.1"/>
<line x1="489.30" y1="581.90" x2="568.20" y2="581.90" stroke="#222" stroke-width="1.1"/>
<line x1="487.60" y1="581.90" x2="489.80" y2="581.90" stroke="#222" stroke-width="0.9"/>
<text x="486.80" y="584.04" font-size="5.95" text-anchor="end" font-weight="bold" fill="#000">0.000</text>
<line x1="487.60" y1="552.80" x2="489.80" y2="552.80" stroke="#222" stroke-width="0.9"/>
<text x="486.80" y="554.94" font-size="5.95" text-anchor="end" font-weight="bold" fill="#000">0.005</text>
<line x1="487.60" y1="523.70" x2="489.80" y2="523.70" stroke="#222" stroke-width="0.9"/>
<text x="486.80" y="525.84" font-size="5.95" text-anchor="end" font-weight="bold" fill="#000">0.010</text>
<line x1="487.60" y1="494.60" x2="489.80" y2="494.60" stroke="#222" stroke-width="0.9"/>
<text x="486.80" y="496.74" font-size="5.95" text-anchor="end" font-weight="bold" fill="#000">0.015</text>
<line x1="502.40" y1="581.90" x2="502.40" y2="584.20" stroke="#222" stroke-width="0.9"/>
<line x1="520.50" y1="581.90" x2="520.50" y2="584.20" stroke="#222" stroke-width="0.9"/>
<line x1="538.70" y1="581.90" x2="538.70" y2="584.20" stroke="#222" stroke-width="0.9"/>
<line x1="556.60" y1="581.90" x2="556.60" y2="584.20" stroke="#222" stroke-width="0.9"/>
<text x="467.60" y="538.40" font-size="6.4" text-anchor="middle" font-weight="bold" fill="#000" transform="rotate(-90 467.6 538.4)">2^ΔCT</text>
<line x1="520.00" y1="491.00" x2="560.00" y2="491.00" stroke="#111" stroke-width="1.5"/>
<text x="540.00" y="487.80" font-size="6.7" text-anchor="middle" fill="#222">p=0.0089</text>
<line x1="504.20" y1="504.60" x2="522.90" y2="504.60" stroke="#111" stroke-width="1.5"/>
<text x="513.55" y="501.40" font-size="6.7" text-anchor="middle" fill="#222">p=0.8034</text>
<line x1="539.10" y1="504.60" x2="560.00" y2="504.60" stroke="#111" stroke-width="1.5"/>
<text x="549.55" y="501.40" font-size="6.7" text-anchor="middle" fill="#222">p=0.0046</text>
<circle cx="502.40" cy="574.92" r="1.70" fill="none" stroke="#1f2ff0" stroke-width="0.8"/>
<circle cx="499.34" cy="575.50" r="1.70" fill="none" stroke="#1f2ff0" stroke-width="0.8"/>
<circle cx="502.40" cy="578.41" r="1.70" fill="none" stroke="#1f2ff0" stroke-width="0.8"/>
<circle cx="499.34" cy="580.15" r="1.70" fill="none" stroke="#1f2ff0" stroke-width="0.8"/>
<circle cx="503.93" cy="580.74" r="1.70" fill="none" stroke="#1f2ff0" stroke-width="0.8"/>
<line x1="496.40" y1="577.83" x2="508.40" y2="577.83" stroke="#111" stroke-width="1.0"/>
<rect x="518.72" y="559.16" width="3.57" height="3.57" fill="#1f2ff0"/>
<rect x="518.72" y="573.71" width="3.57" height="3.57" fill="#1f2ff0"/>
<rect x="515.66" y="574.29" width="3.57" height="3.57" fill="#1f2ff0"/>
<rect x="521.77" y="574.29" width="3.57" height="3.57" fill="#1f2ff0"/>
<line x1="520.50" y1="575.50" x2="520.50" y2="567.93" stroke="#1f2ff0" stroke-width="0.8"/>
<line x1="518.30" y1="575.50" x2="522.70" y2="575.50" stroke="#1f2ff0" stroke-width="0.8"/>
<line x1="518.30" y1="567.93" x2="522.70" y2="567.93" stroke="#1f2ff0" stroke-width="0.8"/>
<line x1="514.50" y1="572.01" x2="526.50" y2="572.01" stroke="#111" stroke-width="1.0"/>
<path d="M538.70,568.97 L540.57,572.34 L536.83,572.34Z" fill="none" stroke="#ee1e1e" stroke-width="0.8"/>
<path d="M538.70,571.88 L540.57,575.25 L536.83,575.25Z" fill="none" stroke="#ee1e1e" stroke-width="0.8"/>
<path d="M535.64,572.46 L537.51,575.83 L533.77,575.83Z" fill="none" stroke="#ee1e1e" stroke-width="0.8"/>
<path d="M538.70,578.87 L540.57,582.23 L536.83,582.23Z" fill="none" stroke="#ee1e1e" stroke-width="0.8"/>
<line x1="532.70" y1="574.92" x2="544.70" y2="574.92" stroke="#111" stroke-width="1.0"/>
<path d="M556.60,523.99 L558.64,520.32 L554.56,520.32Z" fill="#ee1e1e"/>
<path d="M556.60,546.11 L558.64,542.44 L554.56,542.44Z" fill="#ee1e1e"/>
<path d="M556.60,550.18 L558.64,546.51 L554.56,546.51Z" fill="#ee1e1e"/>
<path d="M556.60,565.90 L558.64,562.23 L554.56,562.23Z" fill="#ee1e1e"/>
<line x1="556.60" y1="553.38" x2="556.60" y2="536.50" stroke="#ee1e1e" stroke-width="0.8"/>
<line x1="554.40" y1="553.38" x2="558.80" y2="553.38" stroke="#ee1e1e" stroke-width="0.8"/>
<line x1="554.40" y1="536.50" x2="558.80" y2="536.50" stroke="#ee1e1e" stroke-width="0.8"/>
<line x1="550.60" y1="544.65" x2="562.60" y2="544.65" stroke="#111" stroke-width="1.0"/>
<text x="635.40" y="470.80" font-size="8.5" text-anchor="middle" font-weight="bold" font-style="italic" fill="#000">Il23a</text>
<line x1="604.10" y1="497.20" x2="604.10" y2="582.50" stroke="#222" stroke-width="1.1"/>
<line x1="603.60" y1="582.00" x2="682.20" y2="582.00" stroke="#222" stroke-width="1.1"/>
<line x1="601.90" y1="582.00" x2="604.10" y2="582.00" stroke="#222" stroke-width="0.9"/>
<text x="601.10" y="584.16" font-size="6.0" text-anchor="end" font-weight="bold" fill="#000">0.0000</text>
<line x1="601.90" y1="553.90" x2="604.10" y2="553.90" stroke="#222" stroke-width="0.9"/>
<text x="601.10" y="556.06" font-size="6.0" text-anchor="end" font-weight="bold" fill="#000">0.0005</text>
<line x1="601.90" y1="525.80" x2="604.10" y2="525.80" stroke="#222" stroke-width="0.9"/>
<text x="601.10" y="527.96" font-size="6.0" text-anchor="end" font-weight="bold" fill="#000">0.0010</text>
<line x1="601.90" y1="497.70" x2="604.10" y2="497.70" stroke="#222" stroke-width="0.9"/>
<text x="601.10" y="499.86" font-size="6.0" text-anchor="end" font-weight="bold" fill="#000">0.0015</text>
<line x1="615.80" y1="582.00" x2="615.80" y2="584.30" stroke="#222" stroke-width="0.9"/>
<line x1="633.70" y1="582.00" x2="633.70" y2="584.30" stroke="#222" stroke-width="0.9"/>
<line x1="651.90" y1="582.00" x2="651.90" y2="584.30" stroke="#222" stroke-width="0.9"/>
<line x1="670.10" y1="582.00" x2="670.10" y2="584.30" stroke="#222" stroke-width="0.9"/>
<text x="578.00" y="539.30" font-size="6.4" text-anchor="middle" font-weight="bold" fill="#000" transform="rotate(-90 578.0 539.3)">2^ΔCT</text>
<line x1="632.80" y1="491.80" x2="672.90" y2="491.80" stroke="#111" stroke-width="1.5"/>
<text x="652.85" y="488.60" font-size="6.7" text-anchor="middle" fill="#222">p=0.0010</text>
<line x1="618.10" y1="504.60" x2="636.00" y2="504.60" stroke="#111" stroke-width="1.5"/>
<text x="627.05" y="501.40" font-size="6.7" text-anchor="middle" fill="#222">p=0.0901</text>
<line x1="652.40" y1="504.60" x2="672.90" y2="504.60" stroke="#111" stroke-width="1.5"/>
<text x="662.65" y="501.40" font-size="6.7" text-anchor="middle" fill="#222">p=0.0003</text>
<circle cx="615.80" cy="577.50" r="1.70" fill="none" stroke="#1f2ff0" stroke-width="0.8"/>
<circle cx="614.27" cy="579.75" r="1.70" fill="none" stroke="#1f2ff0" stroke-width="0.8"/>
<circle cx="617.33" cy="580.88" r="1.70" fill="none" stroke="#1f2ff0" stroke-width="0.8"/>
<circle cx="611.21" cy="580.88" r="1.70" fill="none" stroke="#1f2ff0" stroke-width="0.8"/>
<line x1="609.80" y1="580.31" x2="621.80" y2="580.31" stroke="#111" stroke-width="1.0"/>
<rect x="631.92" y="546.50" width="3.57" height="3.57" fill="#1f2ff0"/>
<rect x="631.92" y="560.55" width="3.57" height="3.57" fill="#1f2ff0"/>
<rect x="631.92" y="566.17" width="3.57" height="3.57" fill="#1f2ff0"/>
<rect x="628.86" y="567.29" width="3.57" height="3.57" fill="#1f2ff0"/>
<line x1="633.70" y1="566.26" x2="633.70" y2="557.27" stroke="#1f2ff0" stroke-width="0.8"/>
<line x1="631.50" y1="566.26" x2="635.90" y2="566.26" stroke="#1f2ff0" stroke-width="0.8"/>
<line x1="631.50" y1="557.27" x2="635.90" y2="557.27" stroke="#1f2ff0" stroke-width="0.8"/>
<line x1="627.70" y1="561.77" x2="639.70" y2="561.77" stroke="#111" stroke-width="1.0"/>
<path d="M651.90,555.96 L653.77,559.33 L650.03,559.33Z" fill="none" stroke="#ee1e1e" stroke-width="0.8"/>
<path d="M651.90,561.58 L653.77,564.95 L650.03,564.95Z" fill="none" stroke="#ee1e1e" stroke-width="0.8"/>
<path d="M651.90,570.01 L653.77,573.38 L650.03,573.38Z" fill="none" stroke="#ee1e1e" stroke-width="0.8"/>
<path d="M651.90,574.51 L653.77,577.88 L650.03,577.88Z" fill="none" stroke="#ee1e1e" stroke-width="0.8"/>
<line x1="651.90" y1="570.76" x2="651.90" y2="563.45" stroke="#ee1e1e" stroke-width="0.8"/>
<line x1="649.70" y1="570.76" x2="654.10" y2="570.76" stroke="#ee1e1e" stroke-width="0.8"/>
<line x1="649.70" y1="563.45" x2="654.10" y2="563.45" stroke="#ee1e1e" stroke-width="0.8"/>
<line x1="645.90" y1="567.39" x2="657.90" y2="567.39" stroke="#111" stroke-width="1.0"/>
<path d="M670.10,512.10 L672.14,508.43 L668.06,508.43Z" fill="#ee1e1e"/>
<path d="M670.10,527.84 L672.14,524.17 L668.06,524.17Z" fill="#ee1e1e"/>
<path d="M670.10,547.51 L672.14,543.84 L668.06,543.84Z" fill="#ee1e1e"/>
<line x1="670.10" y1="532.54" x2="670.10" y2="517.37" stroke="#ee1e1e" stroke-width="0.8"/>
<line x1="667.90" y1="532.54" x2="672.30" y2="532.54" stroke="#ee1e1e" stroke-width="0.8"/>
<line x1="667.90" y1="517.37" x2="672.30" y2="517.37" stroke="#ee1e1e" stroke-width="0.8"/>
<line x1="664.10" y1="525.80" x2="676.10" y2="525.80" stroke="#111" stroke-width="1.0"/>
<line x1="194.90" y1="34.20" x2="194.90" y2="130.00" stroke="#222" stroke-width="1.1"/>
<line x1="190.70" y1="130.00" x2="319.20" y2="130.00" stroke="#222" stroke-width="1.2"/>
<line x1="192.10" y1="106.18" x2="194.90" y2="106.18" stroke="#222" stroke-width="1.0"/>
<text x="190.40" y="108.59" font-size="6.7" text-anchor="end" font-weight="bold" fill="#000">0.05</text>
<line x1="192.10" y1="82.35" x2="194.90" y2="82.35" stroke="#222" stroke-width="1.0"/>
<text x="190.40" y="84.76" font-size="6.7" text-anchor="end" font-weight="bold" fill="#000">0.10</text>
<line x1="192.10" y1="58.53" x2="194.90" y2="58.53" stroke="#222" stroke-width="1.0"/>
<text x="190.40" y="60.94" font-size="6.7" text-anchor="end" font-weight="bold" fill="#000">0.15</text>
<line x1="192.10" y1="34.70" x2="194.90" y2="34.70" stroke="#222" stroke-width="1.0"/>
<text x="190.40" y="37.11" font-size="6.7" text-anchor="end" font-weight="bold" fill="#000">0.20</text>
<line x1="195.40" y1="130.00" x2="195.40" y2="132.50" stroke="#222" stroke-width="1.0"/>
<text x="195.40" y="141.60" font-size="6.7" text-anchor="middle" font-weight="bold" fill="#000">D0</text>
<line x1="211.50" y1="130.00" x2="211.50" y2="132.50" stroke="#222" stroke-width="1.0"/>
<text x="211.50" y="141.60" font-size="6.7" text-anchor="middle" font-weight="bold" fill="#000">D1</text>
<line x1="227.60" y1="130.00" x2="227.60" y2="132.50" stroke="#222" stroke-width="1.0"/>
<text x="227.60" y="141.60" font-size="6.7" text-anchor="middle" font-weight="bold" fill="#000">D2</text>
<line x1="243.70" y1="130.00" x2="243.70" y2="132.50" stroke="#222" stroke-width="1.0"/>
<text x="243.70" y="141.60" font-size="6.7" text-anchor="middle" font-weight="bold" fill="#000">D3</text>
<line x1="259.90" y1="130.00" x2="259.90" y2="132.50" stroke="#222" stroke-width="1.0"/>
<text x="259.90" y="141.60" font-size="6.7" text-anchor="middle" font-weight="bold" fill="#000">D4</text>
<line x1="275.70" y1="130.00" x2="275.70" y2="132.50" stroke="#222" stroke-width="1.0"/>
<text x="275.70" y="141.60" font-size="6.7" text-anchor="middle" font-weight="bold" fill="#000">D5</text>
<line x1="291.60" y1="130.00" x2="291.60" y2="132.50" stroke="#222" stroke-width="1.0"/>
<text x="291.60" y="141.60" font-size="6.7" text-anchor="middle" font-weight="bold" fill="#000">D6</text>
<line x1="307.50" y1="130.00" x2="307.50" y2="132.50" stroke="#222" stroke-width="1.0"/>
<text x="307.50" y="141.60" font-size="6.7" text-anchor="middle" font-weight="bold" fill="#000">D7</text>
<text x="212.00" y="150.30" font-size="6.5" text-anchor="middle" font-weight="bold" fill="#000">#</text>
<text x="173.60" y="81.50" font-size="7.7" text-anchor="middle" font-weight="bold" fill="#000" transform="rotate(-90 173.6 81.5)">Changes in Ear Thickness (mm)</text>
<polyline points="195.40,130.00 211.50,120.95 227.60,103.79 243.70,77.11 259.90,63.29 275.70,59.00 291.60,49.47 307.50,46.61" fill="none" stroke="#444" stroke-width="0.8"/>
<polyline points="195.40,130.00 211.50,123.81 227.60,124.76 243.70,113.80 259.90,109.99 275.70,106.65 291.60,100.46 307.50,97.60" fill="none" stroke="#444" stroke-width="0.8"/>
<polyline points="195.40,130.00 211.50,126.19 227.60,118.56 243.70,97.60 259.90,85.21 275.70,77.59 291.60,72.34 307.50,68.06" fill="none" stroke="#444" stroke-width="0.8"/>
<polyline points="195.40,130.00 211.50,129.52 227.60,124.28 243.70,116.66 259.90,109.51 275.70,106.65 291.60,99.50 307.50,99.50" fill="none" stroke="#444" stroke-width="0.8"/>
<path d="M195.40,132.76 L198.16,127.79 L192.64,127.79Z" fill="#ee1e1e"/>
<path d="M211.50,123.71 L214.26,118.74 L208.74,118.74Z" fill="#ee1e1e"/>
<line x1="227.60" y1="105.22" x2="227.60" y2="102.36" stroke="#ee1e1e" stroke-width="0.9"/>
<line x1="225.30" y1="102.36" x2="229.90" y2="102.36" stroke="#ee1e1e" stroke-width="0.9"/>
<line x1="225.30" y1="105.22" x2="229.90" y2="105.22" stroke="#ee1e1e" stroke-width="0.9"/>
<path d="M227.60,106.55 L230.36,101.58 L224.84,101.58Z" fill="#ee1e1e"/>
<path d="M243.70,79.87 L246.46,74.90 L240.94,74.90Z" fill="#ee1e1e"/>
<line x1="259.90" y1="64.72" x2="259.90" y2="61.86" stroke="#ee1e1e" stroke-width="0.9"/>
<line x1="257.60" y1="61.86" x2="262.20" y2="61.86" stroke="#ee1e1e" stroke-width="0.9"/>
<line x1="257.60" y1="64.72" x2="262.20" y2="64.72" stroke="#ee1e1e" stroke-width="0.9"/>
<path d="M259.90,66.05 L262.66,61.08 L257.14,61.08Z" fill="#ee1e1e"/>
<path d="M275.70,61.76 L278.46,56.79 L272.94,56.79Z" fill="#ee1e1e"/>
<line x1="291.60" y1="51.38" x2="291.60" y2="47.57" stroke="#ee1e1e" stroke-width="0.9"/>
<line x1="289.30" y1="47.57" x2="293.90" y2="47.57" stroke="#ee1e1e" stroke-width="0.9"/>
<line x1="289.30" y1="51.38" x2="293.90" y2="51.38" stroke="#ee1e1e" stroke-width="0.9"/>
<path d="M291.60,52.23 L294.36,47.26 L288.84,47.26Z" fill="#ee1e1e"/>
<line x1="307.50" y1="48.04" x2="307.50" y2="45.18" stroke="#ee1e1e" stroke-width="0.9"/>
<line x1="305.20" y1="45.18" x2="309.80" y2="45.18" stroke="#ee1e1e" stroke-width="0.9"/>
<line x1="305.20" y1="48.04" x2="309.80" y2="48.04" stroke="#ee1e1e" stroke-width="0.9"/>
<path d="M307.50,49.37 L310.26,44.40 L304.74,44.40Z" fill="#ee1e1e"/>
<path d="M195.40,127.65 L197.75,131.88 L193.05,131.88Z" fill="#ee1e1e"/>
<path d="M211.50,121.46 L213.85,125.68 L209.15,125.68Z" fill="#ee1e1e"/>
<path d="M227.60,122.41 L229.95,126.64 L225.25,126.64Z" fill="#ee1e1e"/>
<path d="M243.70,111.45 L246.05,115.68 L241.35,115.68Z" fill="#ee1e1e"/>
<path d="M259.90,107.64 L262.25,111.86 L257.55,111.86Z" fill="#ee1e1e"/>
<path d="M275.70,104.31 L278.05,108.53 L273.35,108.53Z" fill="#ee1e1e"/>
<path d="M291.60,98.11 L293.95,102.33 L289.25,102.33Z" fill="#ee1e1e"/>
<line x1="307.50" y1="99.03" x2="307.50" y2="96.17" stroke="#ee1e1e" stroke-width="0.9"/>
<line x1="305.20" y1="96.17" x2="309.80" y2="96.17" stroke="#ee1e1e" stroke-width="0.9"/>
<line x1="305.20" y1="99.03" x2="309.80" y2="99.03" stroke="#ee1e1e" stroke-width="0.9"/>
<path d="M307.50,95.25 L309.85,99.47 L305.15,99.47Z" fill="#ee1e1e"/>
<rect x="192.99" y="127.58" width="4.83" height="4.83" fill="#1f2ff0"/>
<rect x="209.09" y="123.77" width="4.83" height="4.83" fill="#1f2ff0"/>
<rect x="225.19" y="116.15" width="4.83" height="4.83" fill="#1f2ff0"/>
<rect x="241.28" y="95.18" width="4.83" height="4.83" fill="#1f2ff0"/>
<rect x="257.48" y="82.79" width="4.83" height="4.83" fill="#1f2ff0"/>
<rect x="273.28" y="75.17" width="4.83" height="4.83" fill="#1f2ff0"/>
<rect x="289.19" y="69.93" width="4.83" height="4.83" fill="#1f2ff0"/>
<rect x="305.08" y="65.64" width="4.83" height="4.83" fill="#1f2ff0"/>
<circle cx="195.40" cy="130.00" r="1.95" fill="none" stroke="#1f2ff0" stroke-width="1.3"/>
<circle cx="211.50" cy="129.52" r="1.95" fill="none" stroke="#1f2ff0" stroke-width="1.3"/>
<circle cx="227.60" cy="124.28" r="1.95" fill="none" stroke="#1f2ff0" stroke-width="1.3"/>
<circle cx="243.70" cy="116.66" r="1.95" fill="none" stroke="#1f2ff0" stroke-width="1.3"/>
<circle cx="259.90" cy="109.51" r="1.95" fill="none" stroke="#1f2ff0" stroke-width="1.3"/>
<circle cx="275.70" cy="106.65" r="1.95" fill="none" stroke="#1f2ff0" stroke-width="1.3"/>
<circle cx="291.60" cy="99.50" r="1.95" fill="none" stroke="#1f2ff0" stroke-width="1.3"/>
<circle cx="307.50" cy="99.50" r="1.95" fill="none" stroke="#1f2ff0" stroke-width="1.3"/>
<line x1="179.40" y1="342.80" x2="179.40" y2="430.00" stroke="#222" stroke-width="1.1"/>
<line x1="170.00" y1="430.00" x2="299.70" y2="430.00" stroke="#222" stroke-width="1.2"/>
<line x1="176.60" y1="408.32" x2="179.40" y2="408.32" stroke="#222" stroke-width="1.0"/>
<text x="174.80" y="410.52" font-size="6.1" text-anchor="end" font-weight="bold" fill="#000">0.05</text>
<line x1="176.60" y1="386.65" x2="179.40" y2="386.65" stroke="#222" stroke-width="1.0"/>
<text x="174.80" y="388.85" font-size="6.1" text-anchor="end" font-weight="bold" fill="#000">0.10</text>
<line x1="176.60" y1="364.98" x2="179.40" y2="364.98" stroke="#222" stroke-width="1.0"/>
<text x="174.80" y="367.17" font-size="6.1" text-anchor="end" font-weight="bold" fill="#000">0.15</text>
<line x1="176.60" y1="343.30" x2="179.40" y2="343.30" stroke="#222" stroke-width="1.0"/>
<text x="174.80" y="345.50" font-size="6.1" text-anchor="end" font-weight="bold" fill="#000">0.20</text>
<line x1="180.50" y1="430.00" x2="180.50" y2="432.50" stroke="#222" stroke-width="1.0"/>
<text x="180.50" y="441.20" font-size="6.4" text-anchor="middle" font-weight="bold" fill="#000">D0</text>
<line x1="196.00" y1="430.00" x2="196.00" y2="432.50" stroke="#222" stroke-width="1.0"/>
<text x="196.00" y="441.20" font-size="6.4" text-anchor="middle" font-weight="bold" fill="#000">D1</text>
<line x1="211.40" y1="430.00" x2="211.40" y2="432.50" stroke="#222" stroke-width="1.0"/>
<text x="211.40" y="441.20" font-size="6.4" text-anchor="middle" font-weight="bold" fill="#000">D2</text>
<line x1="226.90" y1="430.00" x2="226.90" y2="432.50" stroke="#222" stroke-width="1.0"/>
<text x="226.90" y="441.20" font-size="6.4" text-anchor="middle" font-weight="bold" fill="#000">D3</text>
<line x1="242.60" y1="430.00" x2="242.60" y2="432.50" stroke="#222" stroke-width="1.0"/>
<text x="242.60" y="441.20" font-size="6.4" text-anchor="middle" font-weight="bold" fill="#000">D4</text>
<line x1="258.20" y1="430.00" x2="258.20" y2="432.50" stroke="#222" stroke-width="1.0"/>
<text x="258.20" y="441.20" font-size="6.4" text-anchor="middle" font-weight="bold" fill="#000">D5</text>
<line x1="273.90" y1="430.00" x2="273.90" y2="432.50" stroke="#222" stroke-width="1.0"/>
<text x="273.90" y="441.20" font-size="6.4" text-anchor="middle" font-weight="bold" fill="#000">D6</text>
<line x1="289.60" y1="430.00" x2="289.60" y2="432.50" stroke="#222" stroke-width="1.0"/>
<text x="289.60" y="441.20" font-size="6.4" text-anchor="middle" font-weight="bold" fill="#000">D7</text>
<text x="242.60" y="449.50" font-size="6.5" text-anchor="middle" font-weight="bold" fill="#000">#</text>
<text x="159.00" y="386.50" font-size="7.7" text-anchor="middle" font-weight="bold" fill="#000" transform="rotate(-90 159.0 386.5)">Changes in Ear Thickness (mm)</text>
<polyline points="180.50,430.00 196.00,429.57 211.40,421.76 226.90,406.16 242.60,390.55 258.20,368.88 273.90,363.24 289.60,359.77" fill="none" stroke="#444" stroke-width="0.8"/>
<polyline points="180.50,430.00 196.00,430.00 211.40,429.13 226.90,426.97 242.60,427.40 258.20,426.53 273.90,423.50 289.60,422.20" fill="none" stroke="#444" stroke-width="0.8"/>
<polyline points="180.50,430.00 196.00,426.97 211.40,422.63 226.90,408.76 242.60,400.09 258.20,388.38 273.90,387.52 289.60,390.55" fill="none" stroke="#444" stroke-width="0.8"/>
<polyline points="180.50,430.00 196.00,426.97 211.40,428.70 226.90,428.27 242.60,428.27 258.20,426.97 273.90,426.53 289.60,424.36" fill="none" stroke="#444" stroke-width="0.8"/>
<path d="M180.50,432.34 L182.84,428.13 L178.16,428.13Z" fill="#ee1e1e"/>
<path d="M196.00,431.91 L198.34,427.69 L193.66,427.69Z" fill="#ee1e1e"/>
<path d="M211.40,424.10 L213.74,419.89 L209.06,419.89Z" fill="#ee1e1e"/>
<path d="M226.90,408.50 L229.24,404.29 L224.56,404.29Z" fill="#ee1e1e"/>
<line x1="242.60" y1="392.29" x2="242.60" y2="388.82" stroke="#ee1e1e" stroke-width="0.9"/>
<line x1="240.30" y1="388.82" x2="244.90" y2="388.82" stroke="#ee1e1e" stroke-width="0.9"/>
<line x1="240.30" y1="392.29" x2="244.90" y2="392.29" stroke="#ee1e1e" stroke-width="0.9"/>
<path d="M242.60,392.89 L244.94,388.68 L240.26,388.68Z" fill="#ee1e1e"/>
<line x1="258.20" y1="370.18" x2="258.20" y2="367.58" stroke="#ee1e1e" stroke-width="0.9"/>
<line x1="255.90" y1="367.58" x2="260.50" y2="367.58" stroke="#ee1e1e" stroke-width="0.9"/>
<line x1="255.90" y1="370.18" x2="260.50" y2="370.18" stroke="#ee1e1e" stroke-width="0.9"/>
<path d="M258.20,371.22 L260.54,367.00 L255.86,367.00Z" fill="#ee1e1e"/>
<line x1="273.90" y1="364.98" x2="273.90" y2="361.51" stroke="#ee1e1e" stroke-width="0.9"/>
<line x1="271.60" y1="361.51" x2="276.20" y2="361.51" stroke="#ee1e1e" stroke-width="0.9"/>
<line x1="271.60" y1="364.98" x2="276.20" y2="364.98" stroke="#ee1e1e" stroke-width="0.9"/>
<path d="M273.90,365.58 L276.24,361.37 L271.56,361.37Z" fill="#ee1e1e"/>
<line x1="289.60" y1="361.94" x2="289.60" y2="357.61" stroke="#ee1e1e" stroke-width="0.9"/>
<line x1="287.30" y1="357.61" x2="291.90" y2="357.61" stroke="#ee1e1e" stroke-width="0.9"/>
<line x1="287.30" y1="361.94" x2="291.90" y2="361.94" stroke="#ee1e1e" stroke-width="0.9"/>
<path d="M289.60,362.11 L291.94,357.90 L287.26,357.90Z" fill="#ee1e1e"/>
<path d="M180.50,427.86 L182.65,431.72 L178.35,431.72Z" fill="none" stroke="#ee1e1e" stroke-width="1.1"/>
<path d="M196.00,427.86 L198.15,431.72 L193.85,431.72Z" fill="none" stroke="#ee1e1e" stroke-width="1.1"/>
<path d="M211.40,426.99 L213.55,430.85 L209.25,430.85Z" fill="none" stroke="#ee1e1e" stroke-width="1.1"/>
<line x1="226.90" y1="428.27" x2="226.90" y2="425.67" stroke="#ee1e1e" stroke-width="0.9"/>
<line x1="224.60" y1="425.67" x2="229.20" y2="425.67" stroke="#ee1e1e" stroke-width="0.9"/>
<line x1="224.60" y1="428.27" x2="229.20" y2="428.27" stroke="#ee1e1e" stroke-width="0.9"/>
<path d="M226.90,424.82 L229.05,428.68 L224.75,428.68Z" fill="none" stroke="#ee1e1e" stroke-width="1.1"/>
<line x1="242.60" y1="430.87" x2="242.60" y2="423.93" stroke="#ee1e1e" stroke-width="0.9"/>
<line x1="240.30" y1="423.93" x2="244.90" y2="423.93" stroke="#ee1e1e" stroke-width="0.9"/>
<line x1="240.30" y1="430.87" x2="244.90" y2="430.87" stroke="#ee1e1e" stroke-width="0.9"/>
<path d="M242.60,425.25 L244.75,429.12 L240.45,429.12Z" fill="none" stroke="#ee1e1e" stroke-width="1.1"/>
<path d="M258.20,424.39 L260.34,428.25 L256.06,428.25Z" fill="none" stroke="#ee1e1e" stroke-width="1.1"/>
<line x1="273.90" y1="425.67" x2="273.90" y2="421.33" stroke="#ee1e1e" stroke-width="0.9"/>
<line x1="271.60" y1="421.33" x2="276.20" y2="421.33" stroke="#ee1e1e" stroke-width="0.9"/>
<line x1="271.60" y1="425.67" x2="276.20" y2="425.67" stroke="#ee1e1e" stroke-width="0.9"/>
<path d="M273.90,421.35 L276.04,425.21 L271.75,425.21Z" fill="none" stroke="#ee1e1e" stroke-width="1.1"/>
<line x1="289.60" y1="424.36" x2="289.60" y2="420.03" stroke="#ee1e1e" stroke-width="0.9"/>
<line x1="287.30" y1="420.03" x2="291.90" y2="420.03" stroke="#ee1e1e" stroke-width="0.9"/>
<line x1="287.30" y1="424.36" x2="291.90" y2="424.36" stroke="#ee1e1e" stroke-width="0.9"/>
<path d="M289.60,420.05 L291.75,423.91 L287.46,423.91Z" fill="none" stroke="#ee1e1e" stroke-width="1.1"/>
<rect x="178.45" y="427.95" width="4.09" height="4.09" fill="#1f2ff0"/>
<rect x="193.95" y="424.92" width="4.09" height="4.09" fill="#1f2ff0"/>
<rect x="209.35" y="420.58" width="4.09" height="4.09" fill="#1f2ff0"/>
<line x1="226.90" y1="410.06" x2="226.90" y2="407.46" stroke="#1f2ff0" stroke-width="0.9"/>
<line x1="224.60" y1="407.46" x2="229.20" y2="407.46" stroke="#1f2ff0" stroke-width="0.9"/>
<line x1="224.60" y1="410.06" x2="229.20" y2="410.06" stroke="#1f2ff0" stroke-width="0.9"/>
<rect x="224.85" y="406.71" width="4.09" height="4.09" fill="#1f2ff0"/>
<rect x="240.55" y="398.04" width="4.09" height="4.09" fill="#1f2ff0"/>
<line x1="258.20" y1="390.12" x2="258.20" y2="386.65" stroke="#1f2ff0" stroke-width="0.9"/>
<line x1="255.90" y1="386.65" x2="260.50" y2="386.65" stroke="#1f2ff0" stroke-width="0.9"/>
<line x1="255.90" y1="390.12" x2="260.50" y2="390.12" stroke="#1f2ff0" stroke-width="0.9"/>
<rect x="256.15" y="386.34" width="4.09" height="4.09" fill="#1f2ff0"/>
<line x1="273.90" y1="390.12" x2="273.90" y2="384.92" stroke="#1f2ff0" stroke-width="0.9"/>
<line x1="271.60" y1="384.92" x2="276.20" y2="384.92" stroke="#1f2ff0" stroke-width="0.9"/>
<line x1="271.60" y1="390.12" x2="276.20" y2="390.12" stroke="#1f2ff0" stroke-width="0.9"/>
<rect x="271.85" y="385.47" width="4.09" height="4.09" fill="#1f2ff0"/>
<rect x="287.55" y="388.50" width="4.09" height="4.09" fill="#1f2ff0"/>
<circle cx="180.50" cy="430.00" r="1.66" fill="none" stroke="#1f2ff0" stroke-width="1.3"/>
<circle cx="196.00" cy="426.97" r="1.66" fill="none" stroke="#1f2ff0" stroke-width="1.3"/>
<circle cx="211.40" cy="428.70" r="1.66" fill="none" stroke="#1f2ff0" stroke-width="1.3"/>
<circle cx="226.90" cy="428.27" r="1.66" fill="none" stroke="#1f2ff0" stroke-width="1.3"/>
<circle cx="242.60" cy="428.27" r="1.66" fill="none" stroke="#1f2ff0" stroke-width="1.3"/>
<circle cx="258.20" cy="426.97" r="1.66" fill="none" stroke="#1f2ff0" stroke-width="1.3"/>
<circle cx="273.90" cy="426.53" r="1.66" fill="none" stroke="#1f2ff0" stroke-width="1.3"/>
<line x1="289.60" y1="425.67" x2="289.60" y2="423.06" stroke="#1f2ff0" stroke-width="0.9"/>
<line x1="287.30" y1="423.06" x2="291.90" y2="423.06" stroke="#1f2ff0" stroke-width="0.9"/>
<line x1="287.30" y1="425.67" x2="291.90" y2="425.67" stroke="#1f2ff0" stroke-width="0.9"/>
<circle cx="289.60" cy="424.36" r="1.66" fill="none" stroke="#1f2ff0" stroke-width="1.3"/>
<line x1="235.40" y1="2.60" x2="242.60" y2="2.60" stroke="#888" stroke-width="0.6"/>
<circle cx="239.00" cy="2.60" r="1.40" fill="none" stroke="#1f2ff0" stroke-width="0.8"/>
<text x="246.80" y="4.50" font-size="5.5" text-anchor="start" fill="#333">WT non-moLC</text>
<line x1="235.40" y1="12.10" x2="242.60" y2="12.10" stroke="#888" stroke-width="0.6"/>
<rect x="237.53" y="10.63" width="2.94" height="2.94" fill="#1f2ff0"/>
<text x="246.80" y="14.00" font-size="5.5" text-anchor="start" fill="#333">WT moLC</text>
<line x1="235.40" y1="21.40" x2="242.60" y2="21.40" stroke="#888" stroke-width="0.6"/>
<path d="M239.00,19.72 L240.68,22.74 L237.32,22.74Z" fill="#ee1e1e"/>
<text x="246.80" y="23.30" font-size="5.5" text-anchor="start" fill="#333">KO non-moLC</text>
<line x1="235.40" y1="30.90" x2="242.60" y2="30.90" stroke="#888" stroke-width="0.6"/>
<path d="M239.00,32.58 L240.68,29.56 L237.32,29.56Z" fill="#ee1e1e"/>
<text x="246.80" y="32.80" font-size="5.5" text-anchor="start" fill="#333">KO moLC</text>
<path d="M283.70,2.10 H286.50 V13.80 H283.70" fill="none" stroke="#111" stroke-width="1.1"/>
<text x="289.50" y="10.90" font-size="5.6" text-anchor="start" fill="#333">p&lt;0.0001</text>
<path d="M283.70,20.40 H286.50 V32.20 H283.70" fill="none" stroke="#111" stroke-width="1.1"/>
<text x="289.50" y="28.30" font-size="5.6" text-anchor="start" fill="#333">p&lt;0.0001</text>
<path d="M232.50,2.20 H229.00 V21.60 H232.50" fill="none" stroke="#111" stroke-width="1.1"/>
<text x="225.60" y="12.40" font-size="5.4" text-anchor="middle" fill="#333" transform="rotate(-90 225.6 12.4)">p=0.2817</text>
<path d="M220.00,11.40 H216.50 V30.70 H220.00" fill="none" stroke="#111" stroke-width="1.1"/>
<text x="213.60" y="21.20" font-size="5.4" text-anchor="middle" fill="#333" transform="rotate(-90 213.6 21.2)">p&lt;0.0001</text>
<line x1="215.60" y1="313.40" x2="222.80" y2="313.40" stroke="#888" stroke-width="0.6"/>
<circle cx="219.20" cy="313.40" r="1.40" fill="none" stroke="#1f2ff0" stroke-width="0.8"/>
<text x="226.90" y="315.30" font-size="5.5" text-anchor="start" fill="#333">Htr2a<tspan font-size="3.6" dy="-2">fl/fl</tspan><tspan dy="2"> Vas</tspan></text>
<line x1="215.60" y1="323.10" x2="222.80" y2="323.10" stroke="#888" stroke-width="0.6"/>
<rect x="217.73" y="321.63" width="2.94" height="2.94" fill="#1f2ff0"/>
<text x="226.90" y="325.00" font-size="5.5" text-anchor="start" fill="#333">Htr2a<tspan font-size="3.6" dy="-2">fl/fl</tspan><tspan dy="2"> IMQ</tspan></text>
<line x1="215.60" y1="333.50" x2="222.80" y2="333.50" stroke="#888" stroke-width="0.6"/>
<path d="M219.20,331.96 L220.74,334.73 L217.66,334.73Z" fill="none" stroke="#ee1e1e" stroke-width="0.8"/>
<text x="226.90" y="335.40" font-size="5.5" text-anchor="start" fill="#333">Htr2a<tspan font-size="3.6" dy="-2">Ms4a3</tspan><tspan dy="2">Vas</tspan></text>
<line x1="215.60" y1="343.10" x2="222.80" y2="343.10" stroke="#888" stroke-width="0.6"/>
<path d="M219.20,344.78 L220.88,341.76 L217.52,341.76Z" fill="#ee1e1e"/>
<text x="226.90" y="345.00" font-size="5.5" text-anchor="start" fill="#333">Htr2a<tspan font-size="3.6" dy="-2">Ms4a3</tspan><tspan dy="2">IMQ</tspan></text>
<path d="M263.90,314.70 H266.70 V328.00 H263.90" fill="none" stroke="#111" stroke-width="1.1"/>
<text x="269.00" y="323.40" font-size="5.6" text-anchor="start" fill="#333">p&lt;0.0001</text>
<path d="M267.50,332.00 H270.30 V343.60 H267.50" fill="none" stroke="#111" stroke-width="1.1"/>
<text x="272.20" y="340.30" font-size="5.6" text-anchor="start" fill="#333">p&lt;0.0001</text>
<path d="M212.30,322.40 H208.80 V343.60 H212.30" fill="none" stroke="#111" stroke-width="1.1"/>
<text x="183.20" y="335.50" font-size="5.6" text-anchor="start" fill="#333">p=0.0454</text>
<text x="23.80" y="169.20" font-size="8.2" textLength="37.20" lengthAdjust="spacingAndGlyphs" font-weight="bold" fill="#000">Vγ4 T cells</text>
<line x1="13.60" y1="183.20" x2="13.60" y2="285.50" stroke="#111" stroke-width="1.1"/>
<line x1="13.60" y1="285.50" x2="116.60" y2="285.50" stroke="#111" stroke-width="1.1"/>
<path d="M12.00,184.20 L13.60,180.70 L15.20,184.20Z" fill="#111"/>
<path d="M115.60,283.90 L119.10,285.50 L115.60,287.10Z" fill="#111"/>
<text x="8.10" y="234.90" font-size="6.05" text-anchor="middle" fill="#333" transform="rotate(-90 8.1 234.9)">IL-17A eFluor 506</text>
<text x="37.00" y="297.20" font-size="5.9" textLength="58.80" lengthAdjust="spacingAndGlyphs" fill="#333">IL-22 PerCP-eFluor710</text>
<text x="23.70" y="179.60" font-size="5.8" textLength="38.60" lengthAdjust="spacingAndGlyphs" fill="#222">WT non-moLC</text>
<text x="79.05" y="179.60" font-size="5.8" textLength="25.50" lengthAdjust="spacingAndGlyphs" fill="#222">WT moLC</text>
<text x="26.95" y="235.50" font-size="5.8" textLength="36.10" lengthAdjust="spacingAndGlyphs" fill="#222">KO non-moLC</text>
<text x="78.30" y="235.50" font-size="5.8" textLength="24.00" lengthAdjust="spacingAndGlyphs" fill="#222">KO moLC</text>
<rect x="22.80" y="183.00" width="38.90" height="40.00" fill="none" stroke="#bbb" stroke-width="0.4"/>
<line x1="24.80" y1="223.00" x2="24.80" y2="224.20" stroke="#777" stroke-width="0.4"/>
<text x="24.80" y="225.80" font-size="2.5" text-anchor="middle" fill="#999">·</text>
<line x1="31.78" y1="223.00" x2="31.78" y2="224.20" stroke="#777" stroke-width="0.4"/>
<text x="31.78" y="225.80" font-size="2.5" text-anchor="middle" fill="#999">·</text>
<line x1="38.76" y1="223.00" x2="38.76" y2="224.20" stroke="#777" stroke-width="0.4"/>
<text x="38.76" y="225.80" font-size="2.5" text-anchor="middle" fill="#999">·</text>
<line x1="45.74" y1="223.00" x2="45.74" y2="224.20" stroke="#777" stroke-width="0.4"/>
<text x="45.74" y="225.80" font-size="2.5" text-anchor="middle" fill="#999">·</text>
<line x1="52.72" y1="223.00" x2="52.72" y2="224.20" stroke="#777" stroke-width="0.4"/>
<text x="52.72" y="225.80" font-size="2.5" text-anchor="middle" fill="#999">·</text>
<line x1="59.70" y1="223.00" x2="59.70" y2="224.20" stroke="#777" stroke-width="0.4"/>
<text x="59.70" y="225.80" font-size="2.5" text-anchor="middle" fill="#999">·</text>
<line x1="21.60" y1="186.00" x2="22.80" y2="186.00" stroke="#777" stroke-width="0.4"/>
<text x="20.40" y="186.60" font-size="2.5" text-anchor="middle" fill="#999">-</text>
<line x1="21.60" y1="194.50" x2="22.80" y2="194.50" stroke="#777" stroke-width="0.4"/>
<text x="20.40" y="195.10" font-size="2.5" text-anchor="middle" fill="#999">-</text>
<line x1="21.60" y1="203.00" x2="22.80" y2="203.00" stroke="#777" stroke-width="0.4"/>
<text x="20.40" y="203.60" font-size="2.5" text-anchor="middle" fill="#999">-</text>
<line x1="21.60" y1="211.50" x2="22.80" y2="211.50" stroke="#777" stroke-width="0.4"/>
<text x="20.40" y="212.10" font-size="2.5" text-anchor="middle" fill="#999">-</text>
<line x1="21.60" y1="220.00" x2="22.80" y2="220.00" stroke="#777" stroke-width="0.4"/>
<text x="20.40" y="220.60" font-size="2.5" text-anchor="middle" fill="#999">-</text>
<line x1="22.80" y1="197.80" x2="61.70" y2="197.80" stroke="#888" stroke-width="0.5"/>
<line x1="39.40" y1="183.00" x2="39.40" y2="223.00" stroke="#888" stroke-width="0.5"/>
<ellipse cx="35.30" cy="204.50" rx="10.00" ry="4.60" transform="rotate(-57 35.30 204.50)" fill="rgba(0,0,0,0.26)" stroke="rgba(0,0,0,0.66)" stroke-width="0.9"/>
<ellipse cx="35.30" cy="204.50" rx="7.00" ry="2.85" transform="rotate(-57 35.30 204.50)" fill="rgba(0,0,0,0.30)" stroke="rgba(0,0,0,0.96)" stroke-width="1.0"/>
<ellipse cx="35.30" cy="204.50" rx="3.80" ry="1.38" transform="rotate(-57 35.30 204.50)" fill="rgba(255,255,255,0.2)" stroke="rgba(0,0,0,1.02)" stroke-width="0.8"/>
<ellipse cx="46.10" cy="193.30" rx="3.20" ry="2.60" transform="rotate(-40 46.10 193.30)" fill="rgba(0,0,0,0.13)" stroke="rgba(0,0,0,0.33)" stroke-width="0.9"/>
<ellipse cx="46.10" cy="193.30" rx="2.24" ry="1.61" transform="rotate(-40 46.10 193.30)" fill="rgba(0,0,0,0.15)" stroke="rgba(0,0,0,0.48)" stroke-width="1.0"/>
<rect x="39.40" y="182.80" width="22.30" height="15.30" fill="none" stroke="#111" stroke-width="1.2"/>
<text x="44.50" y="206.60" font-size="6.2" textLength="13.70" lengthAdjust="spacingAndGlyphs" font-weight="bold" fill="#222">6.7%</text>
<rect x="24.30" y="186.00" width="2.2" height="1.6" fill="#ccc"/>
<rect x="57.70" y="186.00" width="2.2" height="1.6" fill="#ccc"/>
<rect x="24.30" y="220.00" width="2.2" height="1.6" fill="#ccc"/>
<rect x="57.70" y="220.00" width="2.2" height="1.6" fill="#ccc"/>
<rect x="70.20" y="183.00" width="40.30" height="40.00" fill="none" stroke="#bbb" stroke-width="0.4"/>
<line x1="72.20" y1="223.00" x2="72.20" y2="224.20" stroke="#777" stroke-width="0.4"/>
<text x="72.20" y="225.80" font-size="2.5" text-anchor="middle" fill="#999">·</text>
<line x1="79.46" y1="223.00" x2="79.46" y2="224.20" stroke="#777" stroke-width="0.4"/>
<text x="79.46" y="225.80" font-size="2.5" text-anchor="middle" fill="#999">·</text>
<line x1="86.72" y1="223.00" x2="86.72" y2="224.20" stroke="#777" stroke-width="0.4"/>
<text x="86.72" y="225.80" font-size="2.5" text-anchor="middle" fill="#999">·</text>
<line x1="93.98" y1="223.00" x2="93.98" y2="224.20" stroke="#777" stroke-width="0.4"/>
<text x="93.98" y="225.80" font-size="2.5" text-anchor="middle" fill="#999">·</text>
<line x1="101.24" y1="223.00" x2="101.24" y2="224.20" stroke="#777" stroke-width="0.4"/>
<text x="101.24" y="225.80" font-size="2.5" text-anchor="middle" fill="#999">·</text>
<line x1="108.50" y1="223.00" x2="108.50" y2="224.20" stroke="#777" stroke-width="0.4"/>
<text x="108.50" y="225.80" font-size="2.5" text-anchor="middle" fill="#999">·</text>
<line x1="69.00" y1="186.00" x2="70.20" y2="186.00" stroke="#777" stroke-width="0.4"/>
<text x="67.80" y="186.60" font-size="2.5" text-anchor="middle" fill="#999">-</text>
<line x1="69.00" y1="194.50" x2="70.20" y2="194.50" stroke="#777" stroke-width="0.4"/>
<text x="67.80" y="195.10" font-size="2.5" text-anchor="middle" fill="#999">-</text>
<line x1="69.00" y1="203.00" x2="70.20" y2="203.00" stroke="#777" stroke-width="0.4"/>
<text x="67.80" y="203.60" font-size="2.5" text-anchor="middle" fill="#999">-</text>
<line x1="69.00" y1="211.50" x2="70.20" y2="211.50" stroke="#777" stroke-width="0.4"/>
<text x="67.80" y="212.10" font-size="2.5" text-anchor="middle" fill="#999">-</text>
<line x1="69.00" y1="220.00" x2="70.20" y2="220.00" stroke="#777" stroke-width="0.4"/>
<text x="67.80" y="220.60" font-size="2.5" text-anchor="middle" fill="#999">-</text>
<line x1="70.20" y1="198.00" x2="110.50" y2="198.00" stroke="#888" stroke-width="0.5"/>
<line x1="88.20" y1="183.00" x2="88.20" y2="223.00" stroke="#888" stroke-width="0.5"/>
<ellipse cx="81.50" cy="204.50" rx="4.00" ry="2.40" transform="rotate(-60 81.50 204.50)" fill="rgba(0,0,0,0.11)" stroke="rgba(0,0,0,0.28)" stroke-width="0.9"/>
<ellipse cx="81.50" cy="204.50" rx="2.80" ry="1.49" transform="rotate(-60 81.50 204.50)" fill="rgba(0,0,0,0.12)" stroke="rgba(0,0,0,0.40)" stroke-width="1.0"/>
<ellipse cx="91.90" cy="190.90" rx="4.50" ry="3.00" transform="rotate(-60 91.90 190.90)" fill="rgba(0,0,0,0.15)" stroke="rgba(0,0,0,0.39)" stroke-width="0.9"/>
<ellipse cx="91.90" cy="190.90" rx="3.15" ry="1.86" transform="rotate(-60 91.90 190.90)" fill="rgba(0,0,0,0.17)" stroke="rgba(0,0,0,0.56)" stroke-width="1.0"/>
<ellipse cx="86.00" cy="198.90" rx="6.50" ry="4.20" transform="rotate(-30 86.00 198.90)" fill="rgba(0,0,0,0.26)" stroke="rgba(0,0,0,0.66)" stroke-width="0.9"/>
<ellipse cx="86.00" cy="198.90" rx="4.55" ry="2.60" transform="rotate(-30 86.00 198.90)" fill="rgba(0,0,0,0.30)" stroke="rgba(0,0,0,0.96)" stroke-width="1.0"/>
<ellipse cx="86.00" cy="198.90" rx="2.47" ry="1.26" transform="rotate(-30 86.00 198.90)" fill="rgba(255,255,255,0.2)" stroke="rgba(0,0,0,1.02)" stroke-width="0.8"/>
<rect x="88.20" y="182.50" width="22.50" height="15.60" fill="none" stroke="#111" stroke-width="1.2"/>
<text x="93.20" y="206.60" font-size="6.2" textLength="16.40" lengthAdjust="spacingAndGlyphs" font-weight="bold" fill="#222">49.7%</text>
<rect x="71.70" y="186.00" width="2.2" height="1.6" fill="#ccc"/>
<rect x="106.50" y="186.00" width="2.2" height="1.6" fill="#ccc"/>
<rect x="71.70" y="220.00" width="2.2" height="1.6" fill="#ccc"/>
<rect x="106.50" y="220.00" width="2.2" height="1.6" fill="#ccc"/>
<rect x="22.80" y="238.70" width="39.60" height="41.00" fill="none" stroke="#bbb" stroke-width="0.4"/>
<line x1="24.80" y1="279.70" x2="24.80" y2="280.90" stroke="#777" stroke-width="0.4"/>
<text x="24.80" y="282.50" font-size="2.5" text-anchor="middle" fill="#999">·</text>
<line x1="31.92" y1="279.70" x2="31.92" y2="280.90" stroke="#777" stroke-width="0.4"/>
<text x="31.92" y="282.50" font-size="2.5" text-anchor="middle" fill="#999">·</text>
<line x1="39.04" y1="279.70" x2="39.04" y2="280.90" stroke="#777" stroke-width="0.4"/>
<text x="39.04" y="282.50" font-size="2.5" text-anchor="middle" fill="#999">·</text>
<line x1="46.16" y1="279.70" x2="46.16" y2="280.90" stroke="#777" stroke-width="0.4"/>
<text x="46.16" y="282.50" font-size="2.5" text-anchor="middle" fill="#999">·</text>
<line x1="53.28" y1="279.70" x2="53.28" y2="280.90" stroke="#777" stroke-width="0.4"/>
<text x="53.28" y="282.50" font-size="2.5" text-anchor="middle" fill="#999">·</text>
<line x1="60.40" y1="279.70" x2="60.40" y2="280.90" stroke="#777" stroke-width="0.4"/>
<text x="60.40" y="282.50" font-size="2.5" text-anchor="middle" fill="#999">·</text>
<line x1="21.60" y1="241.70" x2="22.80" y2="241.70" stroke="#777" stroke-width="0.4"/>
<text x="20.40" y="242.30" font-size="2.5" text-anchor="middle" fill="#999">-</text>
<line x1="21.60" y1="250.45" x2="22.80" y2="250.45" stroke="#777" stroke-width="0.4"/>
<text x="20.40" y="251.05" font-size="2.5" text-anchor="middle" fill="#999">-</text>
<line x1="21.60" y1="259.20" x2="22.80" y2="259.20" stroke="#777" stroke-width="0.4"/>
<text x="20.40" y="259.80" font-size="2.5" text-anchor="middle" fill="#999">-</text>
<line x1="21.60" y1="267.95" x2="22.80" y2="267.95" stroke="#777" stroke-width="0.4"/>
<text x="20.40" y="268.55" font-size="2.5" text-anchor="middle" fill="#999">-</text>
<line x1="21.60" y1="276.70" x2="22.80" y2="276.70" stroke="#777" stroke-width="0.4"/>
<text x="20.40" y="277.30" font-size="2.5" text-anchor="middle" fill="#999">-</text>
<line x1="22.80" y1="252.60" x2="62.40" y2="252.60" stroke="#888" stroke-width="0.5"/>
<line x1="40.20" y1="238.70" x2="40.20" y2="279.70" stroke="#888" stroke-width="0.5"/>
<ellipse cx="45.50" cy="248.00" rx="3.50" ry="2.80" transform="rotate(-45 45.50 248.00)" fill="rgba(0,0,0,0.12)" stroke="rgba(0,0,0,0.30)" stroke-width="0.9"/>
<ellipse cx="45.50" cy="248.00" rx="2.45" ry="1.74" transform="rotate(-45 45.50 248.00)" fill="rgba(0,0,0,0.14)" stroke="rgba(0,0,0,0.44)" stroke-width="1.0"/>
<ellipse cx="33.80" cy="262.50" rx="6.00" ry="4.20" transform="rotate(-60 33.80 262.50)" fill="rgba(0,0,0,0.26)" stroke="rgba(0,0,0,0.66)" stroke-width="0.9"/>
<ellipse cx="33.80" cy="262.50" rx="4.20" ry="2.60" transform="rotate(-60 33.80 262.50)" fill="rgba(0,0,0,0.30)" stroke="rgba(0,0,0,0.96)" stroke-width="1.0"/>
<ellipse cx="33.80" cy="262.50" rx="2.28" ry="1.26" transform="rotate(-60 33.80 262.50)" fill="rgba(255,255,255,0.2)" stroke="rgba(0,0,0,1.02)" stroke-width="0.8"/>
<ellipse cx="39.50" cy="254.00" rx="4.80" ry="3.40" transform="rotate(-45 39.50 254.00)" fill="rgba(0,0,0,0.26)" stroke="rgba(0,0,0,0.66)" stroke-width="0.9"/>
<ellipse cx="39.50" cy="254.00" rx="3.36" ry="2.11" transform="rotate(-45 39.50 254.00)" fill="rgba(0,0,0,0.30)" stroke="rgba(0,0,0,0.96)" stroke-width="1.0"/>
<ellipse cx="39.50" cy="254.00" rx="1.82" ry="1.02" transform="rotate(-45 39.50 254.00)" fill="rgba(255,255,255,0.2)" stroke="rgba(0,0,0,1.02)" stroke-width="0.8"/>
<rect x="40.20" y="238.70" width="22.80" height="13.90" fill="none" stroke="#111" stroke-width="1.2"/>
<text x="45.00" y="264.30" font-size="6.2" textLength="16.70" lengthAdjust="spacingAndGlyphs" font-weight="bold" fill="#222">10.0%</text>
<rect x="24.30" y="241.70" width="2.2" height="1.6" fill="#ccc"/>
<rect x="58.40" y="241.70" width="2.2" height="1.6" fill="#ccc"/>
<rect x="24.30" y="276.70" width="2.2" height="1.6" fill="#ccc"/>
<rect x="58.40" y="276.70" width="2.2" height="1.6" fill="#ccc"/>
<rect x="70.20" y="238.70" width="40.80" height="41.00" fill="none" stroke="#bbb" stroke-width="0.4"/>
<line x1="72.20" y1="279.70" x2="72.20" y2="280.90" stroke="#777" stroke-width="0.4"/>
<text x="72.20" y="282.50" font-size="2.5" text-anchor="middle" fill="#999">·</text>
<line x1="79.56" y1="279.70" x2="79.56" y2="280.90" stroke="#777" stroke-width="0.4"/>
<text x="79.56" y="282.50" font-size="2.5" text-anchor="middle" fill="#999">·</text>
<line x1="86.92" y1="279.70" x2="86.92" y2="280.90" stroke="#777" stroke-width="0.4"/>
<text x="86.92" y="282.50" font-size="2.5" text-anchor="middle" fill="#999">·</text>
<line x1="94.28" y1="279.70" x2="94.28" y2="280.90" stroke="#777" stroke-width="0.4"/>
<text x="94.28" y="282.50" font-size="2.5" text-anchor="middle" fill="#999">·</text>
<line x1="101.64" y1="279.70" x2="101.64" y2="280.90" stroke="#777" stroke-width="0.4"/>
<text x="101.64" y="282.50" font-size="2.5" text-anchor="middle" fill="#999">·</text>
<line x1="109.00" y1="279.70" x2="109.00" y2="280.90" stroke="#777" stroke-width="0.4"/>
<text x="109.00" y="282.50" font-size="2.5" text-anchor="middle" fill="#999">·</text>
<line x1="69.00" y1="241.70" x2="70.20" y2="241.70" stroke="#777" stroke-width="0.4"/>
<text x="67.80" y="242.30" font-size="2.5" text-anchor="middle" fill="#999">-</text>
<line x1="69.00" y1="250.45" x2="70.20" y2="250.45" stroke="#777" stroke-width="0.4"/>
<text x="67.80" y="251.05" font-size="2.5" text-anchor="middle" fill="#999">-</text>
<line x1="69.00" y1="259.20" x2="70.20" y2="259.20" stroke="#777" stroke-width="0.4"/>
<text x="67.80" y="259.80" font-size="2.5" text-anchor="middle" fill="#999">-</text>
<line x1="69.00" y1="267.95" x2="70.20" y2="267.95" stroke="#777" stroke-width="0.4"/>
<text x="67.80" y="268.55" font-size="2.5" text-anchor="middle" fill="#999">-</text>
<line x1="69.00" y1="276.70" x2="70.20" y2="276.70" stroke="#777" stroke-width="0.4"/>
<text x="67.80" y="277.30" font-size="2.5" text-anchor="middle" fill="#999">-</text>
<line x1="70.20" y1="253.00" x2="111.00" y2="253.00" stroke="#888" stroke-width="0.5"/>
<line x1="87.90" y1="238.70" x2="87.90" y2="279.70" stroke="#888" stroke-width="0.5"/>
<ellipse cx="92.50" cy="244.50" rx="4.50" ry="2.80" transform="rotate(-65 92.50 244.50)" fill="rgba(0,0,0,0.15)" stroke="rgba(0,0,0,0.39)" stroke-width="0.9"/>
<ellipse cx="92.50" cy="244.50" rx="3.15" ry="1.74" transform="rotate(-65 92.50 244.50)" fill="rgba(0,0,0,0.17)" stroke="rgba(0,0,0,0.56)" stroke-width="1.0"/>
<ellipse cx="87.50" cy="252.50" rx="6.50" ry="4.20" transform="rotate(-35 87.50 252.50)" fill="rgba(0,0,0,0.26)" stroke="rgba(0,0,0,0.66)" stroke-width="0.9"/>
<ellipse cx="87.50" cy="252.50" rx="4.55" ry="2.60" transform="rotate(-35 87.50 252.50)" fill="rgba(0,0,0,0.30)" stroke="rgba(0,0,0,0.96)" stroke-width="1.0"/>
<ellipse cx="87.50" cy="252.50" rx="2.47" ry="1.26" transform="rotate(-35 87.50 252.50)" fill="rgba(255,255,255,0.2)" stroke="rgba(0,0,0,1.02)" stroke-width="0.8"/>
<rect x="87.90" y="238.70" width="23.00" height="14.30" fill="none" stroke="#111" stroke-width="1.2"/>
<text x="91.10" y="264.30" font-size="6.2" textLength="16.90" lengthAdjust="spacingAndGlyphs" font-weight="bold" fill="#222">66.2%</text>
<rect x="71.70" y="241.70" width="2.2" height="1.6" fill="#ccc"/>
<rect x="107.00" y="241.70" width="2.2" height="1.6" fill="#ccc"/>
<rect x="71.70" y="276.70" width="2.2" height="1.6" fill="#ccc"/>
<rect x="107.00" y="276.70" width="2.2" height="1.6" fill="#ccc"/>
<text x="238.90" y="169.00" font-size="7.6" textLength="42.50" lengthAdjust="spacingAndGlyphs" font-weight="bold" fill="#000">Neutrophils</text>
<line x1="248.00" y1="180.70" x2="248.00" y2="286.70" stroke="#111" stroke-width="1.1"/>
<line x1="248.00" y1="286.70" x2="348.30" y2="286.70" stroke="#111" stroke-width="1.1"/>
<path d="M246.40,181.70 L248.00,178.20 L249.60,181.70Z" fill="#111"/>
<path d="M347.30,285.10 L350.80,286.70 L347.30,288.30Z" fill="#111"/>
<text x="240.90" y="230.80" font-size="5.7" text-anchor="middle" fill="#333" transform="rotate(-90 240.9 230.8)">Ly6G AF647</text>
<text x="290.00" y="297.60" font-size="5.8" textLength="26.00" lengthAdjust="spacingAndGlyphs" fill="#333">CD11b PE</text>
<text x="260.15" y="182.30" font-size="5.8" textLength="38.50" lengthAdjust="spacingAndGlyphs" fill="#222">WT non-moLC</text>
<text x="313.75" y="182.30" font-size="5.8" textLength="26.50" lengthAdjust="spacingAndGlyphs" fill="#222">WT moLC</text>
<text x="260.75" y="235.80" font-size="5.8" textLength="37.30" lengthAdjust="spacingAndGlyphs" fill="#222">KO non-moLC</text>
<text x="318.35" y="235.80" font-size="5.8" textLength="23.90" lengthAdjust="spacingAndGlyphs" fill="#222">KO moLC</text>
<rect x="258.70" y="183.70" width="38.70" height="41.30" fill="none" stroke="#bbb" stroke-width="0.4"/>
<line x1="260.70" y1="225.00" x2="260.70" y2="226.20" stroke="#777" stroke-width="0.4"/>
<text x="260.70" y="227.80" font-size="2.5" text-anchor="middle" fill="#999">·</text>
<line x1="267.64" y1="225.00" x2="267.64" y2="226.20" stroke="#777" stroke-width="0.4"/>
<text x="267.64" y="227.80" font-size="2.5" text-anchor="middle" fill="#999">·</text>
<line x1="274.58" y1="225.00" x2="274.58" y2="226.20" stroke="#777" stroke-width="0.4"/>
<text x="274.58" y="227.80" font-size="2.5" text-anchor="middle" fill="#999">·</text>
<line x1="281.52" y1="225.00" x2="281.52" y2="226.20" stroke="#777" stroke-width="0.4"/>
<text x="281.52" y="227.80" font-size="2.5" text-anchor="middle" fill="#999">·</text>
<line x1="288.46" y1="225.00" x2="288.46" y2="226.20" stroke="#777" stroke-width="0.4"/>
<text x="288.46" y="227.80" font-size="2.5" text-anchor="middle" fill="#999">·</text>
<line x1="295.40" y1="225.00" x2="295.40" y2="226.20" stroke="#777" stroke-width="0.4"/>
<text x="295.40" y="227.80" font-size="2.5" text-anchor="middle" fill="#999">·</text>
<line x1="257.50" y1="186.70" x2="258.70" y2="186.70" stroke="#777" stroke-width="0.4"/>
<text x="256.30" y="187.30" font-size="2.5" text-anchor="middle" fill="#999">-</text>
<line x1="257.50" y1="195.52" x2="258.70" y2="195.52" stroke="#777" stroke-width="0.4"/>
<text x="256.30" y="196.12" font-size="2.5" text-anchor="middle" fill="#999">-</text>
<line x1="257.50" y1="204.35" x2="258.70" y2="204.35" stroke="#777" stroke-width="0.4"/>
<text x="256.30" y="204.95" font-size="2.5" text-anchor="middle" fill="#999">-</text>
<line x1="257.50" y1="213.18" x2="258.70" y2="213.18" stroke="#777" stroke-width="0.4"/>
<text x="256.30" y="213.78" font-size="2.5" text-anchor="middle" fill="#999">-</text>
<line x1="257.50" y1="222.00" x2="258.70" y2="222.00" stroke="#777" stroke-width="0.4"/>
<text x="256.30" y="222.60" font-size="2.5" text-anchor="middle" fill="#999">-</text>
<ellipse cx="277.20" cy="211.08" rx="14.40" ry="6.43" transform="rotate(-8.0 277.20 211.08)" fill="rgba(0,0,0,0.07)" stroke="none" stroke-width="0"/>
<ellipse cx="284.40" cy="200.43" rx="14.91" ry="4.80" transform="rotate(-51.7 284.40 200.43)" fill="rgba(0,0,0,0.11)" stroke="rgba(0,0,0,0.22)" stroke-width="0.6"/>
<ellipse cx="287.48" cy="196.53" rx="8.52" ry="2.40" transform="rotate(-51.7 287.48 196.53)" fill="rgba(0,0,0,0.19)" stroke="rgba(0,0,0,0.47)" stroke-width="0.8"/>
<ellipse cx="288.48" cy="195.53" rx="4.26" ry="0.90" transform="rotate(-51.7 288.48 195.53)" fill="rgba(255,255,255,0.5)" stroke="none" stroke-width="0"/>
<ellipse cx="276.20" cy="212.58" rx="12.60" ry="4.59" transform="rotate(-5.0 276.20 212.58)" fill="rgba(0,0,0,0.33)" stroke="rgba(0,0,0,0.55)" stroke-width="0.8"/>
<ellipse cx="275.30" cy="212.88" rx="9.00" ry="2.29" transform="rotate(-6.0 275.30 212.88)" fill="rgba(0,0,0,0.2)" stroke="rgba(0,0,0,0.8)" stroke-width="0.9"/>
<ellipse cx="268.70" cy="213.08" rx="2.10" ry="3.06" transform="rotate(0.0 268.70 213.08)" fill="rgba(0,0,0,0.55)" stroke="#111" stroke-width="0.9"/>
<rect x="262.10" y="203.40" width="30.00" height="15.30" fill="none" stroke="#555" stroke-width="0.6"/>
<rect x="276.40" y="183.80" width="21.00" height="19.60" fill="none" stroke="#111" stroke-width="1.2"/>
<rect x="263.60" y="219.50" width="7" height="0.8" fill="#aaa"/>
<text x="257.40" y="192.50" font-size="5.8" textLength="17.10" lengthAdjust="spacingAndGlyphs" font-weight="bold" fill="#222">17.7%</text>
<rect x="308.60" y="183.70" width="38.70" height="41.30" fill="none" stroke="#bbb" stroke-width="0.4"/>
<line x1="310.60" y1="225.00" x2="310.60" y2="226.20" stroke="#777" stroke-width="0.4"/>
<text x="310.60" y="227.80" font-size="2.5" text-anchor="middle" fill="#999">·</text>
<line x1="317.54" y1="225.00" x2="317.54" y2="226.20" stroke="#777" stroke-width="0.4"/>
<text x="317.54" y="227.80" font-size="2.5" text-anchor="middle" fill="#999">·</text>
<line x1="324.48" y1="225.00" x2="324.48" y2="226.20" stroke="#777" stroke-width="0.4"/>
<text x="324.48" y="227.80" font-size="2.5" text-anchor="middle" fill="#999">·</text>
<line x1="331.42" y1="225.00" x2="331.42" y2="226.20" stroke="#777" stroke-width="0.4"/>
<text x="331.42" y="227.80" font-size="2.5" text-anchor="middle" fill="#999">·</text>
<line x1="338.36" y1="225.00" x2="338.36" y2="226.20" stroke="#777" stroke-width="0.4"/>
<text x="338.36" y="227.80" font-size="2.5" text-anchor="middle" fill="#999">·</text>
<line x1="345.30" y1="225.00" x2="345.30" y2="226.20" stroke="#777" stroke-width="0.4"/>
<text x="345.30" y="227.80" font-size="2.5" text-anchor="middle" fill="#999">·</text>
<line x1="307.40" y1="186.70" x2="308.60" y2="186.70" stroke="#777" stroke-width="0.4"/>
<text x="306.20" y="187.30" font-size="2.5" text-anchor="middle" fill="#999">-</text>
<line x1="307.40" y1="195.52" x2="308.60" y2="195.52" stroke="#777" stroke-width="0.4"/>
<text x="306.20" y="196.12" font-size="2.5" text-anchor="middle" fill="#999">-</text>
<line x1="307.40" y1="204.35" x2="308.60" y2="204.35" stroke="#777" stroke-width="0.4"/>
<text x="306.20" y="204.95" font-size="2.5" text-anchor="middle" fill="#999">-</text>
<line x1="307.40" y1="213.18" x2="308.60" y2="213.18" stroke="#777" stroke-width="0.4"/>
<text x="306.20" y="213.78" font-size="2.5" text-anchor="middle" fill="#999">-</text>
<line x1="307.40" y1="222.00" x2="308.60" y2="222.00" stroke="#777" stroke-width="0.4"/>
<text x="306.20" y="222.60" font-size="2.5" text-anchor="middle" fill="#999">-</text>
<ellipse cx="329.56" cy="211.96" rx="14.16" ry="5.92" transform="rotate(-8.0 329.56 211.96)" fill="rgba(0,0,0,0.07)" stroke="none" stroke-width="0"/>
<ellipse cx="335.21" cy="202.65" rx="12.80" ry="4.80" transform="rotate(-53.6 335.21 202.65)" fill="rgba(0,0,0,0.11)" stroke="rgba(0,0,0,0.22)" stroke-width="0.6"/>
<ellipse cx="337.74" cy="199.21" rx="7.31" ry="2.40" transform="rotate(-53.6 337.74 199.21)" fill="rgba(0,0,0,0.19)" stroke="rgba(0,0,0,0.47)" stroke-width="0.8"/>
<ellipse cx="338.74" cy="198.21" rx="3.66" ry="0.90" transform="rotate(-53.6 338.74 198.21)" fill="rgba(255,255,255,0.5)" stroke="none" stroke-width="0"/>
<ellipse cx="328.56" cy="213.46" rx="12.39" ry="4.23" transform="rotate(-5.0 328.56 213.46)" fill="rgba(0,0,0,0.33)" stroke="rgba(0,0,0,0.55)" stroke-width="0.8"/>
<ellipse cx="327.68" cy="213.76" rx="8.85" ry="2.11" transform="rotate(-6.0 327.68 213.76)" fill="rgba(0,0,0,0.2)" stroke="rgba(0,0,0,0.8)" stroke-width="0.9"/>
<ellipse cx="321.19" cy="213.96" rx="2.07" ry="2.82" transform="rotate(0.0 321.19 213.96)" fill="rgba(0,0,0,0.55)" stroke="#111" stroke-width="0.9"/>
<rect x="314.70" y="205.00" width="29.50" height="14.10" fill="none" stroke="#555" stroke-width="0.6"/>
<rect x="322.20" y="188.10" width="25.30" height="16.90" fill="none" stroke="#111" stroke-width="1.2"/>
<rect x="316.20" y="219.90" width="7" height="0.8" fill="#aaa"/>
<text x="303.30" y="195.40" font-size="5.8" textLength="17.30" lengthAdjust="spacingAndGlyphs" font-weight="bold" fill="#222">18.4%</text>
<rect x="258.70" y="237.50" width="42.30" height="42.50" fill="none" stroke="#bbb" stroke-width="0.4"/>
<line x1="260.70" y1="280.00" x2="260.70" y2="281.20" stroke="#777" stroke-width="0.4"/>
<text x="260.70" y="282.80" font-size="2.5" text-anchor="middle" fill="#999">·</text>
<line x1="268.36" y1="280.00" x2="268.36" y2="281.20" stroke="#777" stroke-width="0.4"/>
<text x="268.36" y="282.80" font-size="2.5" text-anchor="middle" fill="#999">·</text>
<line x1="276.02" y1="280.00" x2="276.02" y2="281.20" stroke="#777" stroke-width="0.4"/>
<text x="276.02" y="282.80" font-size="2.5" text-anchor="middle" fill="#999">·</text>
<line x1="283.68" y1="280.00" x2="283.68" y2="281.20" stroke="#777" stroke-width="0.4"/>
<text x="283.68" y="282.80" font-size="2.5" text-anchor="middle" fill="#999">·</text>
<line x1="291.34" y1="280.00" x2="291.34" y2="281.20" stroke="#777" stroke-width="0.4"/>
<text x="291.34" y="282.80" font-size="2.5" text-anchor="middle" fill="#999">·</text>
<line x1="299.00" y1="280.00" x2="299.00" y2="281.20" stroke="#777" stroke-width="0.4"/>
<text x="299.00" y="282.80" font-size="2.5" text-anchor="middle" fill="#999">·</text>
<line x1="257.50" y1="240.50" x2="258.70" y2="240.50" stroke="#777" stroke-width="0.4"/>
<text x="256.30" y="241.10" font-size="2.5" text-anchor="middle" fill="#999">-</text>
<line x1="257.50" y1="249.62" x2="258.70" y2="249.62" stroke="#777" stroke-width="0.4"/>
<text x="256.30" y="250.22" font-size="2.5" text-anchor="middle" fill="#999">-</text>
<line x1="257.50" y1="258.75" x2="258.70" y2="258.75" stroke="#777" stroke-width="0.4"/>
<text x="256.30" y="259.35" font-size="2.5" text-anchor="middle" fill="#999">-</text>
<line x1="257.50" y1="267.88" x2="258.70" y2="267.88" stroke="#777" stroke-width="0.4"/>
<text x="256.30" y="268.48" font-size="2.5" text-anchor="middle" fill="#999">-</text>
<line x1="257.50" y1="277.00" x2="258.70" y2="277.00" stroke="#777" stroke-width="0.4"/>
<text x="256.30" y="277.60" font-size="2.5" text-anchor="middle" fill="#999">-</text>
<ellipse cx="278.68" cy="265.72" rx="13.97" ry="6.17" transform="rotate(-8.0 278.68 265.72)" fill="rgba(0,0,0,0.07)" stroke="none" stroke-width="0"/>
<ellipse cx="285.86" cy="255.43" rx="14.59" ry="4.80" transform="rotate(-50.9 285.86 255.43)" fill="rgba(0,0,0,0.09)" stroke="rgba(0,0,0,0.18)" stroke-width="0.6"/>
<ellipse cx="277.68" cy="267.22" rx="12.22" ry="4.41" transform="rotate(-5.0 277.68 267.22)" fill="rgba(0,0,0,0.33)" stroke="rgba(0,0,0,0.55)" stroke-width="0.8"/>
<ellipse cx="276.80" cy="267.52" rx="8.73" ry="2.21" transform="rotate(-6.0 276.80 267.52)" fill="rgba(0,0,0,0.2)" stroke="rgba(0,0,0,0.8)" stroke-width="0.9"/>
<ellipse cx="270.40" cy="267.72" rx="2.04" ry="2.94" transform="rotate(0.0 270.40 267.72)" fill="rgba(0,0,0,0.55)" stroke="#111" stroke-width="0.9"/>
<rect x="264.00" y="258.40" width="29.10" height="14.70" fill="none" stroke="#555" stroke-width="0.6"/>
<rect x="275.50" y="239.30" width="23.90" height="19.10" fill="none" stroke="#111" stroke-width="1.2"/>
<rect x="265.50" y="273.90" width="7" height="0.8" fill="#aaa"/>
<text x="256.20" y="247.60" font-size="5.8" textLength="17.30" lengthAdjust="spacingAndGlyphs" font-weight="bold" fill="#222">8.27%</text>
<rect x="311.00" y="237.50" width="39.00" height="43.50" fill="none" stroke="#bbb" stroke-width="0.4"/>
<line x1="313.00" y1="281.00" x2="313.00" y2="282.20" stroke="#777" stroke-width="0.4"/>
<text x="313.00" y="283.80" font-size="2.5" text-anchor="middle" fill="#999">·</text>
<line x1="320.00" y1="281.00" x2="320.00" y2="282.20" stroke="#777" stroke-width="0.4"/>
<text x="320.00" y="283.80" font-size="2.5" text-anchor="middle" fill="#999">·</text>
<line x1="327.00" y1="281.00" x2="327.00" y2="282.20" stroke="#777" stroke-width="0.4"/>
<text x="327.00" y="283.80" font-size="2.5" text-anchor="middle" fill="#999">·</text>
<line x1="334.00" y1="281.00" x2="334.00" y2="282.20" stroke="#777" stroke-width="0.4"/>
<text x="334.00" y="283.80" font-size="2.5" text-anchor="middle" fill="#999">·</text>
<line x1="341.00" y1="281.00" x2="341.00" y2="282.20" stroke="#777" stroke-width="0.4"/>
<text x="341.00" y="283.80" font-size="2.5" text-anchor="middle" fill="#999">·</text>
<line x1="348.00" y1="281.00" x2="348.00" y2="282.20" stroke="#777" stroke-width="0.4"/>
<text x="348.00" y="283.80" font-size="2.5" text-anchor="middle" fill="#999">·</text>
<line x1="309.80" y1="240.50" x2="311.00" y2="240.50" stroke="#777" stroke-width="0.4"/>
<text x="308.60" y="241.10" font-size="2.5" text-anchor="middle" fill="#999">-</text>
<line x1="309.80" y1="249.88" x2="311.00" y2="249.88" stroke="#777" stroke-width="0.4"/>
<text x="308.60" y="250.47" font-size="2.5" text-anchor="middle" fill="#999">-</text>
<line x1="309.80" y1="259.25" x2="311.00" y2="259.25" stroke="#777" stroke-width="0.4"/>
<text x="308.60" y="259.85" font-size="2.5" text-anchor="middle" fill="#999">-</text>
<line x1="309.80" y1="268.62" x2="311.00" y2="268.62" stroke="#777" stroke-width="0.4"/>
<text x="308.60" y="269.23" font-size="2.5" text-anchor="middle" fill="#999">-</text>
<line x1="309.80" y1="278.00" x2="311.00" y2="278.00" stroke="#777" stroke-width="0.4"/>
<text x="308.60" y="278.60" font-size="2.5" text-anchor="middle" fill="#999">-</text>
<ellipse cx="330.67" cy="267.36" rx="14.88" ry="5.92" transform="rotate(-8.0 330.67 267.36)" fill="rgba(0,0,0,0.07)" stroke="none" stroke-width="0"/>
<ellipse cx="336.19" cy="257.18" rx="13.48" ry="4.80" transform="rotate(-56.2 336.19 257.18)" fill="rgba(0,0,0,0.16)" stroke="rgba(0,0,0,0.36)" stroke-width="0.6"/>
<ellipse cx="338.68" cy="253.44" rx="7.71" ry="2.40" transform="rotate(-56.2 338.68 253.44)" fill="rgba(0,0,0,0.28)" stroke="rgba(0,0,0,0.65)" stroke-width="0.8"/>
<ellipse cx="339.68" cy="252.44" rx="3.85" ry="0.90" transform="rotate(-56.2 339.68 252.44)" fill="rgba(255,255,255,0.5)" stroke="none" stroke-width="0"/>
<ellipse cx="329.67" cy="268.86" rx="13.02" ry="4.23" transform="rotate(-5.0 329.67 268.86)" fill="rgba(0,0,0,0.33)" stroke="rgba(0,0,0,0.55)" stroke-width="0.8"/>
<ellipse cx="328.74" cy="269.16" rx="9.30" ry="2.12" transform="rotate(-6.0 328.74 269.16)" fill="rgba(0,0,0,0.2)" stroke="rgba(0,0,0,0.8)" stroke-width="0.9"/>
<ellipse cx="321.92" cy="269.36" rx="2.17" ry="2.82" transform="rotate(0.0 321.92 269.36)" fill="rgba(0,0,0,0.55)" stroke="#111" stroke-width="0.9"/>
<rect x="315.10" y="260.40" width="31.00" height="14.10" fill="none" stroke="#555" stroke-width="0.6"/>
<rect x="322.60" y="241.10" width="25.90" height="19.30" fill="none" stroke="#111" stroke-width="1.2"/>
<rect x="316.60" y="275.30" width="7" height="0.8" fill="#aaa"/>
<text x="304.30" y="249.00" font-size="5.8" textLength="16.30" lengthAdjust="spacingAndGlyphs" font-weight="bold" fill="#222">35.7%</text>
<text x="24.20" y="463.80" font-size="8.2" textLength="37.70" lengthAdjust="spacingAndGlyphs" font-weight="bold" fill="#000">Vγ4 T cells</text>
<line x1="17.10" y1="480.90" x2="17.10" y2="588.00" stroke="#111" stroke-width="1.1"/>
<line x1="17.10" y1="588.00" x2="113.50" y2="588.00" stroke="#111" stroke-width="1.1"/>
<path d="M15.50,481.90 L17.10,478.40 L18.70,481.90Z" fill="#111"/>
<path d="M112.50,586.40 L116.00,588.00 L112.50,589.60Z" fill="#111"/>
<text x="11.80" y="530.80" font-size="6.05" text-anchor="middle" fill="#333" transform="rotate(-90 11.8 530.8)">IL-17A eFluor 506</text>
<text x="40.20" y="600.20" font-size="5.9" textLength="62.80" lengthAdjust="spacingAndGlyphs" fill="#333">IL-22 PerCP-eFluor710</text>
<text x="29.00" y="476.60" font-size="5.8" textLength="34.60" lengthAdjust="spacingAndGlyphs" fill="#222">HTR2A<tspan font-size="3.8" dy="-2">fl/fl</tspan><tspan dy="2"> Vas</tspan></text>
<text x="69.65" y="476.60" font-size="5.8" textLength="38.70" lengthAdjust="spacingAndGlyphs" fill="#222">HTR2A<tspan font-size="3.8" dy="-2">fl/fl</tspan><tspan dy="2"> IMQ</tspan></text>
<text x="28.05" y="535.20" font-size="5.8" textLength="40.90" lengthAdjust="spacingAndGlyphs" fill="#222">HTR2A<tspan font-size="3.8" dy="-2">Ms4a3</tspan><tspan dy="2"> Vas</tspan></text>
<text x="73.30" y="535.20" font-size="5.8" textLength="43.80" lengthAdjust="spacingAndGlyphs" fill="#222">HTR2A<tspan font-size="3.8" dy="-2">Ms4a3</tspan><tspan dy="2"> IMQ</tspan></text>
<rect x="22.60" y="478.90" width="43.90" height="43.90" fill="none" stroke="#bbb" stroke-width="0.4"/>
<line x1="24.60" y1="522.80" x2="24.60" y2="524.00" stroke="#777" stroke-width="0.4"/>
<text x="24.60" y="525.60" font-size="2.5" text-anchor="middle" fill="#999">·</text>
<line x1="32.58" y1="522.80" x2="32.58" y2="524.00" stroke="#777" stroke-width="0.4"/>
<text x="32.58" y="525.60" font-size="2.5" text-anchor="middle" fill="#999">·</text>
<line x1="40.56" y1="522.80" x2="40.56" y2="524.00" stroke="#777" stroke-width="0.4"/>
<text x="40.56" y="525.60" font-size="2.5" text-anchor="middle" fill="#999">·</text>
<line x1="48.54" y1="522.80" x2="48.54" y2="524.00" stroke="#777" stroke-width="0.4"/>
<text x="48.54" y="525.60" font-size="2.5" text-anchor="middle" fill="#999">·</text>
<line x1="56.52" y1="522.80" x2="56.52" y2="524.00" stroke="#777" stroke-width="0.4"/>
<text x="56.52" y="525.60" font-size="2.5" text-anchor="middle" fill="#999">·</text>
<line x1="64.50" y1="522.80" x2="64.50" y2="524.00" stroke="#777" stroke-width="0.4"/>
<text x="64.50" y="525.60" font-size="2.5" text-anchor="middle" fill="#999">·</text>
<line x1="21.40" y1="481.90" x2="22.60" y2="481.90" stroke="#777" stroke-width="0.4"/>
<text x="20.20" y="482.50" font-size="2.5" text-anchor="middle" fill="#999">-</text>
<line x1="21.40" y1="491.38" x2="22.60" y2="491.38" stroke="#777" stroke-width="0.4"/>
<text x="20.20" y="491.98" font-size="2.5" text-anchor="middle" fill="#999">-</text>
<line x1="21.40" y1="500.85" x2="22.60" y2="500.85" stroke="#777" stroke-width="0.4"/>
<text x="20.20" y="501.45" font-size="2.5" text-anchor="middle" fill="#999">-</text>
<line x1="21.40" y1="510.32" x2="22.60" y2="510.32" stroke="#777" stroke-width="0.4"/>
<text x="20.20" y="510.92" font-size="2.5" text-anchor="middle" fill="#999">-</text>
<line x1="21.40" y1="519.80" x2="22.60" y2="519.80" stroke="#777" stroke-width="0.4"/>
<text x="20.20" y="520.40" font-size="2.5" text-anchor="middle" fill="#999">-</text>
<line x1="22.60" y1="493.90" x2="66.50" y2="493.90" stroke="#888" stroke-width="0.5"/>
<line x1="40.80" y1="478.90" x2="40.80" y2="522.80" stroke="#888" stroke-width="0.5"/>
<ellipse cx="35.70" cy="506.50" rx="7.00" ry="3.60" transform="rotate(-75 35.70 506.50)" fill="rgba(0,0,0,0.26)" stroke="rgba(0,0,0,0.66)" stroke-width="0.9"/>
<ellipse cx="35.70" cy="506.50" rx="4.90" ry="2.23" transform="rotate(-75 35.70 506.50)" fill="rgba(0,0,0,0.30)" stroke="rgba(0,0,0,0.96)" stroke-width="1.0"/>
<ellipse cx="35.70" cy="506.50" rx="2.66" ry="1.08" transform="rotate(-75 35.70 506.50)" fill="rgba(255,255,255,0.2)" stroke="rgba(0,0,0,1.02)" stroke-width="0.8"/>
<ellipse cx="41.50" cy="492.00" rx="6.20" ry="3.50" transform="rotate(-50 41.50 492.00)" fill="rgba(0,0,0,0.26)" stroke="rgba(0,0,0,0.66)" stroke-width="0.9"/>
<ellipse cx="41.50" cy="492.00" rx="4.34" ry="2.17" transform="rotate(-50 41.50 492.00)" fill="rgba(0,0,0,0.30)" stroke="rgba(0,0,0,0.96)" stroke-width="1.0"/>
<ellipse cx="41.50" cy="492.00" rx="2.36" ry="1.05" transform="rotate(-50 41.50 492.00)" fill="rgba(255,255,255,0.2)" stroke="rgba(0,0,0,1.02)" stroke-width="0.8"/>
<rect x="40.80" y="479.40" width="24.90" height="14.50" fill="none" stroke="#111" stroke-width="1.2"/>
<text x="47.70" y="506.50" font-size="6.2" textLength="17.60" lengthAdjust="spacingAndGlyphs" font-weight="bold" fill="#222">17.1%</text>
<rect x="24.10" y="481.90" width="2.2" height="1.6" fill="#ccc"/>
<rect x="62.50" y="481.90" width="2.2" height="1.6" fill="#ccc"/>
<rect x="24.10" y="519.80" width="2.2" height="1.6" fill="#ccc"/>
<rect x="62.50" y="519.80" width="2.2" height="1.6" fill="#ccc"/>
<rect x="71.60" y="478.90" width="41.40" height="43.90" fill="none" stroke="#bbb" stroke-width="0.4"/>
<line x1="73.60" y1="522.80" x2="73.60" y2="524.00" stroke="#777" stroke-width="0.4"/>
<text x="73.60" y="525.60" font-size="2.5" text-anchor="middle" fill="#999">·</text>
<line x1="81.08" y1="522.80" x2="81.08" y2="524.00" stroke="#777" stroke-width="0.4"/>
<text x="81.08" y="525.60" font-size="2.5" text-anchor="middle" fill="#999">·</text>
<line x1="88.56" y1="522.80" x2="88.56" y2="524.00" stroke="#777" stroke-width="0.4"/>
<text x="88.56" y="525.60" font-size="2.5" text-anchor="middle" fill="#999">·</text>
<line x1="96.04" y1="522.80" x2="96.04" y2="524.00" stroke="#777" stroke-width="0.4"/>
<text x="96.04" y="525.60" font-size="2.5" text-anchor="middle" fill="#999">·</text>
<line x1="103.52" y1="522.80" x2="103.52" y2="524.00" stroke="#777" stroke-width="0.4"/>
<text x="103.52" y="525.60" font-size="2.5" text-anchor="middle" fill="#999">·</text>
<line x1="111.00" y1="522.80" x2="111.00" y2="524.00" stroke="#777" stroke-width="0.4"/>
<text x="111.00" y="525.60" font-size="2.5" text-anchor="middle" fill="#999">·</text>
<line x1="70.40" y1="481.90" x2="71.60" y2="481.90" stroke="#777" stroke-width="0.4"/>
<text x="69.20" y="482.50" font-size="2.5" text-anchor="middle" fill="#999">-</text>
<line x1="70.40" y1="491.38" x2="71.60" y2="491.38" stroke="#777" stroke-width="0.4"/>
<text x="69.20" y="491.98" font-size="2.5" text-anchor="middle" fill="#999">-</text>
<line x1="70.40" y1="500.85" x2="71.60" y2="500.85" stroke="#777" stroke-width="0.4"/>
<text x="69.20" y="501.45" font-size="2.5" text-anchor="middle" fill="#999">-</text>
<line x1="70.40" y1="510.32" x2="71.60" y2="510.32" stroke="#777" stroke-width="0.4"/>
<text x="69.20" y="510.92" font-size="2.5" text-anchor="middle" fill="#999">-</text>
<line x1="70.40" y1="519.80" x2="71.60" y2="519.80" stroke="#777" stroke-width="0.4"/>
<text x="69.20" y="520.40" font-size="2.5" text-anchor="middle" fill="#999">-</text>
<line x1="71.60" y1="493.90" x2="113.00" y2="493.90" stroke="#888" stroke-width="0.5"/>
<line x1="87.70" y1="478.90" x2="87.70" y2="522.80" stroke="#888" stroke-width="0.5"/>
<ellipse cx="83.00" cy="501.50" rx="4.50" ry="2.20" transform="rotate(-75 83.00 501.50)" fill="rgba(0,0,0,0.12)" stroke="rgba(0,0,0,0.30)" stroke-width="0.9"/>
<ellipse cx="83.00" cy="501.50" rx="3.15" ry="1.36" transform="rotate(-75 83.00 501.50)" fill="rgba(0,0,0,0.14)" stroke="rgba(0,0,0,0.44)" stroke-width="1.0"/>
<ellipse cx="92.60" cy="487.00" rx="4.50" ry="3.20" transform="rotate(-70 92.60 487.00)" fill="rgba(0,0,0,0.26)" stroke="rgba(0,0,0,0.66)" stroke-width="0.9"/>
<ellipse cx="92.60" cy="487.00" rx="3.15" ry="1.98" transform="rotate(-70 92.60 487.00)" fill="rgba(0,0,0,0.30)" stroke="rgba(0,0,0,0.96)" stroke-width="1.0"/>
<ellipse cx="92.60" cy="487.00" rx="1.71" ry="0.96" transform="rotate(-70 92.60 487.00)" fill="rgba(255,255,255,0.2)" stroke="rgba(0,0,0,1.02)" stroke-width="0.8"/>
<ellipse cx="88.00" cy="493.50" rx="7.00" ry="4.00" transform="rotate(-15 88.00 493.50)" fill="rgba(0,0,0,0.26)" stroke="rgba(0,0,0,0.66)" stroke-width="0.9"/>
<ellipse cx="88.00" cy="493.50" rx="4.90" ry="2.48" transform="rotate(-15 88.00 493.50)" fill="rgba(0,0,0,0.30)" stroke="rgba(0,0,0,0.96)" stroke-width="1.0"/>
<ellipse cx="88.00" cy="493.50" rx="2.66" ry="1.20" transform="rotate(-15 88.00 493.50)" fill="rgba(255,255,255,0.2)" stroke="rgba(0,0,0,1.02)" stroke-width="0.8"/>
<rect x="87.70" y="479.60" width="24.80" height="14.30" fill="none" stroke="#111" stroke-width="1.2"/>
<text x="94.20" y="506.50" font-size="6.2" textLength="16.30" lengthAdjust="spacingAndGlyphs" font-weight="bold" fill="#222">37.6%</text>
<rect x="73.10" y="481.90" width="2.2" height="1.6" fill="#ccc"/>
<rect x="109.00" y="481.90" width="2.2" height="1.6" fill="#ccc"/>
<rect x="73.10" y="519.80" width="2.2" height="1.6" fill="#ccc"/>
<rect x="109.00" y="519.80" width="2.2" height="1.6" fill="#ccc"/>
<rect x="22.60" y="537.90" width="43.90" height="42.60" fill="none" stroke="#bbb" stroke-width="0.4"/>
<line x1="24.60" y1="580.50" x2="24.60" y2="581.70" stroke="#777" stroke-width="0.4"/>
<text x="24.60" y="583.30" font-size="2.5" text-anchor="middle" fill="#999">·</text>
<line x1="32.58" y1="580.50" x2="32.58" y2="581.70" stroke="#777" stroke-width="0.4"/>
<text x="32.58" y="583.30" font-size="2.5" text-anchor="middle" fill="#999">·</text>
<line x1="40.56" y1="580.50" x2="40.56" y2="581.70" stroke="#777" stroke-width="0.4"/>
<text x="40.56" y="583.30" font-size="2.5" text-anchor="middle" fill="#999">·</text>
<line x1="48.54" y1="580.50" x2="48.54" y2="581.70" stroke="#777" stroke-width="0.4"/>
<text x="48.54" y="583.30" font-size="2.5" text-anchor="middle" fill="#999">·</text>
<line x1="56.52" y1="580.50" x2="56.52" y2="581.70" stroke="#777" stroke-width="0.4"/>
<text x="56.52" y="583.30" font-size="2.5" text-anchor="middle" fill="#999">·</text>
<line x1="64.50" y1="580.50" x2="64.50" y2="581.70" stroke="#777" stroke-width="0.4"/>
<text x="64.50" y="583.30" font-size="2.5" text-anchor="middle" fill="#999">·</text>
<line x1="21.40" y1="540.90" x2="22.60" y2="540.90" stroke="#777" stroke-width="0.4"/>
<text x="20.20" y="541.50" font-size="2.5" text-anchor="middle" fill="#999">-</text>
<line x1="21.40" y1="550.05" x2="22.60" y2="550.05" stroke="#777" stroke-width="0.4"/>
<text x="20.20" y="550.65" font-size="2.5" text-anchor="middle" fill="#999">-</text>
<line x1="21.40" y1="559.20" x2="22.60" y2="559.20" stroke="#777" stroke-width="0.4"/>
<text x="20.20" y="559.80" font-size="2.5" text-anchor="middle" fill="#999">-</text>
<line x1="21.40" y1="568.35" x2="22.60" y2="568.35" stroke="#777" stroke-width="0.4"/>
<text x="20.20" y="568.95" font-size="2.5" text-anchor="middle" fill="#999">-</text>
<line x1="21.40" y1="577.50" x2="22.60" y2="577.50" stroke="#777" stroke-width="0.4"/>
<text x="20.20" y="578.10" font-size="2.5" text-anchor="middle" fill="#999">-</text>
<line x1="22.60" y1="551.30" x2="66.50" y2="551.30" stroke="#888" stroke-width="0.5"/>
<line x1="42.20" y1="537.90" x2="42.20" y2="580.50" stroke="#888" stroke-width="0.5"/>
<ellipse cx="37.50" cy="558.50" rx="8.50" ry="4.00" transform="rotate(-68 37.50 558.50)" fill="rgba(0,0,0,0.26)" stroke="rgba(0,0,0,0.66)" stroke-width="0.9"/>
<ellipse cx="37.50" cy="558.50" rx="5.95" ry="2.48" transform="rotate(-68 37.50 558.50)" fill="rgba(0,0,0,0.30)" stroke="rgba(0,0,0,0.96)" stroke-width="1.0"/>
<ellipse cx="37.50" cy="558.50" rx="3.23" ry="1.20" transform="rotate(-68 37.50 558.50)" fill="rgba(255,255,255,0.2)" stroke="rgba(0,0,0,1.02)" stroke-width="0.8"/>
<ellipse cx="46.00" cy="546.00" rx="6.50" ry="3.40" transform="rotate(-40 46.00 546.00)" fill="rgba(0,0,0,0.26)" stroke="rgba(0,0,0,0.66)" stroke-width="0.9"/>
<ellipse cx="46.00" cy="546.00" rx="4.55" ry="2.11" transform="rotate(-40 46.00 546.00)" fill="rgba(0,0,0,0.30)" stroke="rgba(0,0,0,0.96)" stroke-width="1.0"/>
<ellipse cx="46.00" cy="546.00" rx="2.47" ry="1.02" transform="rotate(-40 46.00 546.00)" fill="rgba(255,255,255,0.2)" stroke="rgba(0,0,0,1.02)" stroke-width="0.8"/>
<ellipse cx="51.30" cy="553.00" rx="1.80" ry="1.50" transform="rotate(0 51.30 553.00)" fill="rgba(0,0,0,0.15)" stroke="rgba(0,0,0,0.39)" stroke-width="0.9"/>
<rect x="42.20" y="541.50" width="23.50" height="9.80" fill="none" stroke="#111" stroke-width="1.2"/>
<text x="47.70" y="561.70" font-size="6.2" textLength="17.10" lengthAdjust="spacingAndGlyphs" font-weight="bold" fill="#222">18.3%</text>
<rect x="24.10" y="540.90" width="2.2" height="1.6" fill="#ccc"/>
<rect x="62.50" y="540.90" width="2.2" height="1.6" fill="#ccc"/>
<rect x="24.10" y="577.50" width="2.2" height="1.6" fill="#ccc"/>
<rect x="62.50" y="577.50" width="2.2" height="1.6" fill="#ccc"/>
<rect x="71.60" y="537.90" width="41.40" height="42.60" fill="none" stroke="#bbb" stroke-width="0.4"/>
<line x1="73.60" y1="580.50" x2="73.60" y2="581.70" stroke="#777" stroke-width="0.4"/>
<text x="73.60" y="583.30" font-size="2.5" text-anchor="middle" fill="#999">·</text>
<line x1="81.08" y1="580.50" x2="81.08" y2="581.70" stroke="#777" stroke-width="0.4"/>
<text x="81.08" y="583.30" font-size="2.5" text-anchor="middle" fill="#999">·</text>
<line x1="88.56" y1="580.50" x2="88.56" y2="581.70" stroke="#777" stroke-width="0.4"/>
<text x="88.56" y="583.30" font-size="2.5" text-anchor="middle" fill="#999">·</text>
<line x1="96.04" y1="580.50" x2="96.04" y2="581.70" stroke="#777" stroke-width="0.4"/>
<text x="96.04" y="583.30" font-size="2.5" text-anchor="middle" fill="#999">·</text>
<line x1="103.52" y1="580.50" x2="103.52" y2="581.70" stroke="#777" stroke-width="0.4"/>
<text x="103.52" y="583.30" font-size="2.5" text-anchor="middle" fill="#999">·</text>
<line x1="111.00" y1="580.50" x2="111.00" y2="581.70" stroke="#777" stroke-width="0.4"/>
<text x="111.00" y="583.30" font-size="2.5" text-anchor="middle" fill="#999">·</text>
<line x1="70.40" y1="540.90" x2="71.60" y2="540.90" stroke="#777" stroke-width="0.4"/>
<text x="69.20" y="541.50" font-size="2.5" text-anchor="middle" fill="#999">-</text>
<line x1="70.40" y1="550.05" x2="71.60" y2="550.05" stroke="#777" stroke-width="0.4"/>
<text x="69.20" y="550.65" font-size="2.5" text-anchor="middle" fill="#999">-</text>
<line x1="70.40" y1="559.20" x2="71.60" y2="559.20" stroke="#777" stroke-width="0.4"/>
<text x="69.20" y="559.80" font-size="2.5" text-anchor="middle" fill="#999">-</text>
<line x1="70.40" y1="568.35" x2="71.60" y2="568.35" stroke="#777" stroke-width="0.4"/>
<text x="69.20" y="568.95" font-size="2.5" text-anchor="middle" fill="#999">-</text>
<line x1="70.40" y1="577.50" x2="71.60" y2="577.50" stroke="#777" stroke-width="0.4"/>
<text x="69.20" y="578.10" font-size="2.5" text-anchor="middle" fill="#999">-</text>
<line x1="71.60" y1="551.30" x2="113.00" y2="551.30" stroke="#888" stroke-width="0.5"/>
<line x1="88.60" y1="537.90" x2="88.60" y2="580.50" stroke="#888" stroke-width="0.5"/>
<ellipse cx="88.00" cy="548.00" rx="8.00" ry="4.20" transform="rotate(-48 88.00 548.00)" fill="rgba(0,0,0,0.26)" stroke="rgba(0,0,0,0.66)" stroke-width="0.9"/>
<ellipse cx="88.00" cy="548.00" rx="5.60" ry="2.60" transform="rotate(-48 88.00 548.00)" fill="rgba(0,0,0,0.30)" stroke="rgba(0,0,0,0.96)" stroke-width="1.0"/>
<ellipse cx="88.00" cy="548.00" rx="3.04" ry="1.26" transform="rotate(-48 88.00 548.00)" fill="rgba(255,255,255,0.2)" stroke="rgba(0,0,0,1.02)" stroke-width="0.8"/>
<rect x="88.60" y="537.20" width="23.90" height="14.10" fill="none" stroke="#111" stroke-width="1.2"/>
<text x="94.20" y="561.70" font-size="6.2" textLength="16.30" lengthAdjust="spacingAndGlyphs" font-weight="bold" fill="#222">54.2%</text>
<rect x="73.10" y="540.90" width="2.2" height="1.6" fill="#ccc"/>
<rect x="109.00" y="540.90" width="2.2" height="1.6" fill="#ccc"/>
<rect x="73.10" y="577.50" width="2.2" height="1.6" fill="#ccc"/>
<rect x="109.00" y="577.50" width="2.2" height="1.6" fill="#ccc"/>
<text x="240.70" y="463.80" font-size="7.6" textLength="42.50" lengthAdjust="spacingAndGlyphs" font-weight="bold" fill="#000">Neutrophils</text>
<line x1="239.20" y1="481.30" x2="239.20" y2="589.70" stroke="#111" stroke-width="1.1"/>
<line x1="239.20" y1="589.70" x2="340.90" y2="589.70" stroke="#111" stroke-width="1.1"/>
<path d="M237.60,482.30 L239.20,478.80 L240.80,482.30Z" fill="#111"/>
<path d="M339.90,588.10 L343.40,589.70 L339.90,591.30Z" fill="#111"/>
<text x="231.20" y="541.80" font-size="5.2" text-anchor="middle" fill="#333" transform="rotate(-90 231.2 541.8)">Ly6G AF647</text>
<text x="281.00" y="600.30" font-size="5.8" textLength="26.00" lengthAdjust="spacingAndGlyphs" fill="#333">CD11b PE</text>
<text x="249.40" y="476.50" font-size="5.8" textLength="34.60" lengthAdjust="spacingAndGlyphs" fill="#222">HTR2A<tspan font-size="3.8" dy="-2">fl/fl</tspan><tspan dy="2"> Vas</tspan></text>
<text x="298.00" y="476.80" font-size="5.8" textLength="38.80" lengthAdjust="spacingAndGlyphs" fill="#222">HTR2A<tspan font-size="3.8" dy="-2">fl/fl</tspan><tspan dy="2"> IMQ</tspan></text>
<text x="250.55" y="537.30" font-size="5.8" textLength="41.30" lengthAdjust="spacingAndGlyphs" fill="#222">HTR2A<tspan font-size="3.8" dy="-2">Ms4a3</tspan><tspan dy="2"> Vas</tspan></text>
<text x="296.65" y="537.30" font-size="5.8" textLength="43.70" lengthAdjust="spacingAndGlyphs" fill="#222">HTR2A<tspan font-size="3.8" dy="-2">Ms4a3</tspan><tspan dy="2"> IMQ</tspan></text>
<rect x="249.00" y="479.30" width="41.20" height="44.90" fill="none" stroke="#bbb" stroke-width="0.4"/>
<line x1="251.00" y1="524.20" x2="251.00" y2="525.40" stroke="#777" stroke-width="0.4"/>
<text x="251.00" y="527.00" font-size="2.5" text-anchor="middle" fill="#999">·</text>
<line x1="258.44" y1="524.20" x2="258.44" y2="525.40" stroke="#777" stroke-width="0.4"/>
<text x="258.44" y="527.00" font-size="2.5" text-anchor="middle" fill="#999">·</text>
<line x1="265.88" y1="524.20" x2="265.88" y2="525.40" stroke="#777" stroke-width="0.4"/>
<text x="265.88" y="527.00" font-size="2.5" text-anchor="middle" fill="#999">·</text>
<line x1="273.32" y1="524.20" x2="273.32" y2="525.40" stroke="#777" stroke-width="0.4"/>
<text x="273.32" y="527.00" font-size="2.5" text-anchor="middle" fill="#999">·</text>
<line x1="280.76" y1="524.20" x2="280.76" y2="525.40" stroke="#777" stroke-width="0.4"/>
<text x="280.76" y="527.00" font-size="2.5" text-anchor="middle" fill="#999">·</text>
<line x1="288.20" y1="524.20" x2="288.20" y2="525.40" stroke="#777" stroke-width="0.4"/>
<text x="288.20" y="527.00" font-size="2.5" text-anchor="middle" fill="#999">·</text>
<line x1="247.80" y1="482.30" x2="249.00" y2="482.30" stroke="#777" stroke-width="0.4"/>
<text x="246.60" y="482.90" font-size="2.5" text-anchor="middle" fill="#999">-</text>
<line x1="247.80" y1="492.03" x2="249.00" y2="492.03" stroke="#777" stroke-width="0.4"/>
<text x="246.60" y="492.63" font-size="2.5" text-anchor="middle" fill="#999">-</text>
<line x1="247.80" y1="501.75" x2="249.00" y2="501.75" stroke="#777" stroke-width="0.4"/>
<text x="246.60" y="502.35" font-size="2.5" text-anchor="middle" fill="#999">-</text>
<line x1="247.80" y1="511.48" x2="249.00" y2="511.48" stroke="#777" stroke-width="0.4"/>
<text x="246.60" y="512.08" font-size="2.5" text-anchor="middle" fill="#999">-</text>
<line x1="247.80" y1="521.20" x2="249.00" y2="521.20" stroke="#777" stroke-width="0.4"/>
<text x="246.60" y="521.80" font-size="2.5" text-anchor="middle" fill="#999">-</text>
<ellipse cx="271.28" cy="509.20" rx="16.32" ry="5.88" transform="rotate(-8.0 271.28 509.20)" fill="rgba(0,0,0,0.07)" stroke="none" stroke-width="0"/>
<ellipse cx="277.12" cy="497.72" rx="14.85" ry="4.80" transform="rotate(-57.9 277.12 497.72)" fill="rgba(0,0,0,0.07)" stroke="rgba(0,0,0,0.12)" stroke-width="0.6"/>
<ellipse cx="270.28" cy="510.70" rx="14.28" ry="4.20" transform="rotate(-5.0 270.28 510.70)" fill="rgba(0,0,0,0.33)" stroke="rgba(0,0,0,0.55)" stroke-width="0.8"/>
<ellipse cx="269.26" cy="511.00" rx="10.20" ry="2.10" transform="rotate(-6.0 269.26 511.00)" fill="rgba(0,0,0,0.2)" stroke="rgba(0,0,0,0.8)" stroke-width="0.9"/>
<ellipse cx="261.78" cy="511.20" rx="2.38" ry="2.80" transform="rotate(0.0 261.78 511.20)" fill="rgba(0,0,0,0.55)" stroke="#111" stroke-width="0.9"/>
<rect x="254.30" y="502.30" width="34.00" height="14.00" fill="none" stroke="#555" stroke-width="0.6"/>
<rect x="265.20" y="479.30" width="24.30" height="23.00" fill="none" stroke="#111" stroke-width="1.2"/>
<rect x="255.80" y="517.10" width="7" height="0.8" fill="#aaa"/>
<text x="244.20" y="490.50" font-size="5.8" textLength="17.80" lengthAdjust="spacingAndGlyphs" font-weight="bold" fill="#222">1.67%</text>
<rect x="300.00" y="479.30" width="40.00" height="44.90" fill="none" stroke="#bbb" stroke-width="0.4"/>
<line x1="302.00" y1="524.20" x2="302.00" y2="525.40" stroke="#777" stroke-width="0.4"/>
<text x="302.00" y="527.00" font-size="2.5" text-anchor="middle" fill="#999">·</text>
<line x1="309.20" y1="524.20" x2="309.20" y2="525.40" stroke="#777" stroke-width="0.4"/>
<text x="309.20" y="527.00" font-size="2.5" text-anchor="middle" fill="#999">·</text>
<line x1="316.40" y1="524.20" x2="316.40" y2="525.40" stroke="#777" stroke-width="0.4"/>
<text x="316.40" y="527.00" font-size="2.5" text-anchor="middle" fill="#999">·</text>
<line x1="323.60" y1="524.20" x2="323.60" y2="525.40" stroke="#777" stroke-width="0.4"/>
<text x="323.60" y="527.00" font-size="2.5" text-anchor="middle" fill="#999">·</text>
<line x1="330.80" y1="524.20" x2="330.80" y2="525.40" stroke="#777" stroke-width="0.4"/>
<text x="330.80" y="527.00" font-size="2.5" text-anchor="middle" fill="#999">·</text>
<line x1="338.00" y1="524.20" x2="338.00" y2="525.40" stroke="#777" stroke-width="0.4"/>
<text x="338.00" y="527.00" font-size="2.5" text-anchor="middle" fill="#999">·</text>
<line x1="298.80" y1="482.30" x2="300.00" y2="482.30" stroke="#777" stroke-width="0.4"/>
<text x="297.60" y="482.90" font-size="2.5" text-anchor="middle" fill="#999">-</text>
<line x1="298.80" y1="492.03" x2="300.00" y2="492.03" stroke="#777" stroke-width="0.4"/>
<text x="297.60" y="492.63" font-size="2.5" text-anchor="middle" fill="#999">-</text>
<line x1="298.80" y1="501.75" x2="300.00" y2="501.75" stroke="#777" stroke-width="0.4"/>
<text x="297.60" y="502.35" font-size="2.5" text-anchor="middle" fill="#999">-</text>
<line x1="298.80" y1="511.48" x2="300.00" y2="511.48" stroke="#777" stroke-width="0.4"/>
<text x="297.60" y="512.08" font-size="2.5" text-anchor="middle" fill="#999">-</text>
<line x1="298.80" y1="521.20" x2="300.00" y2="521.20" stroke="#777" stroke-width="0.4"/>
<text x="297.60" y="521.80" font-size="2.5" text-anchor="middle" fill="#999">-</text>
<ellipse cx="320.42" cy="509.20" rx="15.74" ry="5.88" transform="rotate(-8.0 320.42 509.20)" fill="rgba(0,0,0,0.07)" stroke="none" stroke-width="0"/>
<ellipse cx="325.95" cy="497.72" rx="14.67" ry="4.80" transform="rotate(-59.0 325.95 497.72)" fill="rgba(0,0,0,0.12)" stroke="rgba(0,0,0,0.26)" stroke-width="0.6"/>
<ellipse cx="328.47" cy="493.53" rx="8.38" ry="2.40" transform="rotate(-59.0 328.47 493.53)" fill="rgba(0,0,0,0.21)" stroke="rgba(0,0,0,0.53)" stroke-width="0.8"/>
<ellipse cx="329.47" cy="492.53" rx="4.19" ry="0.90" transform="rotate(-59.0 329.47 492.53)" fill="rgba(255,255,255,0.5)" stroke="none" stroke-width="0"/>
<ellipse cx="319.42" cy="510.70" rx="13.78" ry="4.20" transform="rotate(-5.0 319.42 510.70)" fill="rgba(0,0,0,0.33)" stroke="rgba(0,0,0,0.55)" stroke-width="0.8"/>
<ellipse cx="318.43" cy="511.00" rx="9.84" ry="2.10" transform="rotate(-6.0 318.43 511.00)" fill="rgba(0,0,0,0.2)" stroke="rgba(0,0,0,0.8)" stroke-width="0.9"/>
<ellipse cx="311.22" cy="511.20" rx="2.30" ry="2.80" transform="rotate(0.0 311.22 511.20)" fill="rgba(0,0,0,0.55)" stroke="#111" stroke-width="0.9"/>
<rect x="304.00" y="502.30" width="32.80" height="14.00" fill="none" stroke="#555" stroke-width="0.6"/>
<rect x="313.70" y="479.30" width="24.30" height="23.00" fill="none" stroke="#111" stroke-width="1.2"/>
<rect x="305.50" y="517.10" width="7" height="0.8" fill="#aaa"/>
<text x="294.60" y="490.50" font-size="5.8" textLength="16.90" lengthAdjust="spacingAndGlyphs" font-weight="bold" fill="#222">13.4%</text>
<rect x="250.00" y="537.00" width="42.00" height="43.00" fill="none" stroke="#bbb" stroke-width="0.4"/>
<line x1="252.00" y1="580.00" x2="252.00" y2="581.20" stroke="#777" stroke-width="0.4"/>
<text x="252.00" y="582.80" font-size="2.5" text-anchor="middle" fill="#999">·</text>
<line x1="259.60" y1="580.00" x2="259.60" y2="581.20" stroke="#777" stroke-width="0.4"/>
<text x="259.60" y="582.80" font-size="2.5" text-anchor="middle" fill="#999">·</text>
<line x1="267.20" y1="580.00" x2="267.20" y2="581.20" stroke="#777" stroke-width="0.4"/>
<text x="267.20" y="582.80" font-size="2.5" text-anchor="middle" fill="#999">·</text>
<line x1="274.80" y1="580.00" x2="274.80" y2="581.20" stroke="#777" stroke-width="0.4"/>
<text x="274.80" y="582.80" font-size="2.5" text-anchor="middle" fill="#999">·</text>
<line x1="282.40" y1="580.00" x2="282.40" y2="581.20" stroke="#777" stroke-width="0.4"/>
<text x="282.40" y="582.80" font-size="2.5" text-anchor="middle" fill="#999">·</text>
<line x1="290.00" y1="580.00" x2="290.00" y2="581.20" stroke="#777" stroke-width="0.4"/>
<text x="290.00" y="582.80" font-size="2.5" text-anchor="middle" fill="#999">·</text>
<line x1="248.80" y1="540.00" x2="250.00" y2="540.00" stroke="#777" stroke-width="0.4"/>
<text x="247.60" y="540.60" font-size="2.5" text-anchor="middle" fill="#999">-</text>
<line x1="248.80" y1="549.25" x2="250.00" y2="549.25" stroke="#777" stroke-width="0.4"/>
<text x="247.60" y="549.85" font-size="2.5" text-anchor="middle" fill="#999">-</text>
<line x1="248.80" y1="558.50" x2="250.00" y2="558.50" stroke="#777" stroke-width="0.4"/>
<text x="247.60" y="559.10" font-size="2.5" text-anchor="middle" fill="#999">-</text>
<line x1="248.80" y1="567.75" x2="250.00" y2="567.75" stroke="#777" stroke-width="0.4"/>
<text x="247.60" y="568.35" font-size="2.5" text-anchor="middle" fill="#999">-</text>
<line x1="248.80" y1="577.00" x2="250.00" y2="577.00" stroke="#777" stroke-width="0.4"/>
<text x="247.60" y="577.60" font-size="2.5" text-anchor="middle" fill="#999">-</text>
<ellipse cx="272.48" cy="567.44" rx="16.32" ry="5.84" transform="rotate(-8.0 272.48 567.44)" fill="rgba(0,0,0,0.07)" stroke="none" stroke-width="0"/>
<ellipse cx="278.12" cy="556.39" rx="14.36" ry="4.80" transform="rotate(-57.6 278.12 556.39)" fill="rgba(0,0,0,0.07)" stroke="rgba(0,0,0,0.12)" stroke-width="0.6"/>
<ellipse cx="271.48" cy="568.94" rx="14.28" ry="4.17" transform="rotate(-5.0 271.48 568.94)" fill="rgba(0,0,0,0.33)" stroke="rgba(0,0,0,0.55)" stroke-width="0.8"/>
<ellipse cx="270.46" cy="569.24" rx="10.20" ry="2.08" transform="rotate(-6.0 270.46 569.24)" fill="rgba(0,0,0,0.2)" stroke="rgba(0,0,0,0.8)" stroke-width="0.9"/>
<ellipse cx="262.98" cy="569.44" rx="2.38" ry="2.78" transform="rotate(0.0 262.98 569.44)" fill="rgba(0,0,0,0.55)" stroke="#111" stroke-width="0.9"/>
<rect x="255.50" y="560.60" width="34.00" height="13.90" fill="none" stroke="#555" stroke-width="0.6"/>
<rect x="266.40" y="538.70" width="23.80" height="21.90" fill="none" stroke="#111" stroke-width="1.2"/>
<rect x="257.00" y="575.30" width="7" height="0.8" fill="#aaa"/>
<text x="246.60" y="549.50" font-size="5.8" textLength="16.30" lengthAdjust="spacingAndGlyphs" font-weight="bold" fill="#222">1.94%</text>
<rect x="302.00" y="537.00" width="40.00" height="43.00" fill="none" stroke="#bbb" stroke-width="0.4"/>
<line x1="304.00" y1="580.00" x2="304.00" y2="581.20" stroke="#777" stroke-width="0.4"/>
<text x="304.00" y="582.80" font-size="2.5" text-anchor="middle" fill="#999">·</text>
<line x1="311.20" y1="580.00" x2="311.20" y2="581.20" stroke="#777" stroke-width="0.4"/>
<text x="311.20" y="582.80" font-size="2.5" text-anchor="middle" fill="#999">·</text>
<line x1="318.40" y1="580.00" x2="318.40" y2="581.20" stroke="#777" stroke-width="0.4"/>
<text x="318.40" y="582.80" font-size="2.5" text-anchor="middle" fill="#999">·</text>
<line x1="325.60" y1="580.00" x2="325.60" y2="581.20" stroke="#777" stroke-width="0.4"/>
<text x="325.60" y="582.80" font-size="2.5" text-anchor="middle" fill="#999">·</text>
<line x1="332.80" y1="580.00" x2="332.80" y2="581.20" stroke="#777" stroke-width="0.4"/>
<text x="332.80" y="582.80" font-size="2.5" text-anchor="middle" fill="#999">·</text>
<line x1="340.00" y1="580.00" x2="340.00" y2="581.20" stroke="#777" stroke-width="0.4"/>
<text x="340.00" y="582.80" font-size="2.5" text-anchor="middle" fill="#999">·</text>
<line x1="300.80" y1="540.00" x2="302.00" y2="540.00" stroke="#777" stroke-width="0.4"/>
<text x="299.60" y="540.60" font-size="2.5" text-anchor="middle" fill="#999">-</text>
<line x1="300.80" y1="549.25" x2="302.00" y2="549.25" stroke="#777" stroke-width="0.4"/>
<text x="299.60" y="549.85" font-size="2.5" text-anchor="middle" fill="#999">-</text>
<line x1="300.80" y1="558.50" x2="302.00" y2="558.50" stroke="#777" stroke-width="0.4"/>
<text x="299.60" y="559.10" font-size="2.5" text-anchor="middle" fill="#999">-</text>
<line x1="300.80" y1="567.75" x2="302.00" y2="567.75" stroke="#777" stroke-width="0.4"/>
<text x="299.60" y="568.35" font-size="2.5" text-anchor="middle" fill="#999">-</text>
<line x1="300.80" y1="577.00" x2="302.00" y2="577.00" stroke="#777" stroke-width="0.4"/>
<text x="299.60" y="577.60" font-size="2.5" text-anchor="middle" fill="#999">-</text>
<ellipse cx="322.18" cy="567.86" rx="16.32" ry="6.13" transform="rotate(-8.0 322.18 567.86)" fill="rgba(0,0,0,0.07)" stroke="none" stroke-width="0"/>
<ellipse cx="327.91" cy="556.60" rx="14.60" ry="4.80" transform="rotate(-57.8 327.91 556.60)" fill="rgba(0,0,0,0.12)" stroke="rgba(0,0,0,0.26)" stroke-width="0.6"/>
<ellipse cx="330.50" cy="552.48" rx="8.34" ry="2.40" transform="rotate(-57.8 330.50 552.48)" fill="rgba(0,0,0,0.21)" stroke="rgba(0,0,0,0.53)" stroke-width="0.8"/>
<ellipse cx="331.50" cy="551.48" rx="4.17" ry="0.90" transform="rotate(-57.8 331.50 551.48)" fill="rgba(255,255,255,0.5)" stroke="none" stroke-width="0"/>
<ellipse cx="321.18" cy="569.36" rx="14.28" ry="4.38" transform="rotate(-5.0 321.18 569.36)" fill="rgba(0,0,0,0.33)" stroke="rgba(0,0,0,0.55)" stroke-width="0.8"/>
<ellipse cx="320.16" cy="569.66" rx="10.20" ry="2.19" transform="rotate(-6.0 320.16 569.66)" fill="rgba(0,0,0,0.2)" stroke="rgba(0,0,0,0.8)" stroke-width="0.9"/>
<ellipse cx="312.68" cy="569.86" rx="2.38" ry="2.92" transform="rotate(0.0 312.68 569.86)" fill="rgba(0,0,0,0.55)" stroke="#111" stroke-width="0.9"/>
<rect x="305.20" y="560.60" width="34.00" height="14.60" fill="none" stroke="#555" stroke-width="0.6"/>
<rect x="315.00" y="538.70" width="25.40" height="21.90" fill="none" stroke="#111" stroke-width="1.2"/>
<rect x="306.70" y="576.00" width="7" height="0.8" fill="#aaa"/>
<text x="295.90" y="549.50" font-size="5.8" textLength="16.70" lengthAdjust="spacingAndGlyphs" font-weight="bold" fill="#222">13.6%</text>
<g clip-path="url(#cp1)"><g filter="url(#b04)"><rect x="331.80" y="31.80" width="52.20" height="54.20" fill="#1c1816"/>
<polygon points="329.26,29.02 341.27,29.02 339.42,40.58 329.26,42.51" fill="#e8a4c2" filter="url(#b05)"/>
<polygon points="370.84,29.02 386.54,29.02 386.54,44.44 375.46,42.03" fill="#e8a4c2" filter="url(#b05)"/>
<line x1="374.75" y1="39.75" x2="375.65" y2="36.52" stroke="#2a2220" stroke-width="0.6" opacity="0.45"/>
<line x1="376.71" y1="43.38" x2="372.76" y2="39.50" stroke="#2a2220" stroke-width="0.6" opacity="0.45"/>
<line x1="372.11" y1="44.53" x2="369.69" y2="42.06" stroke="#2a2220" stroke-width="0.6" opacity="0.45"/>
<line x1="375.68" y1="51.16" x2="373.10" y2="47.95" stroke="#2a2220" stroke-width="0.6" opacity="0.45"/>
<line x1="377.56" y1="53.20" x2="378.25" y2="48.26" stroke="#2a2220" stroke-width="0.6" opacity="0.45"/>
<line x1="380.78" y1="38.00" x2="383.46" y2="34.44" stroke="#2a2220" stroke-width="0.6" opacity="0.45"/>
<line x1="373.09" y1="39.20" x2="370.70" y2="32.53" stroke="#2a2220" stroke-width="0.6" opacity="0.45"/>
<line x1="373.43" y1="47.02" x2="374.63" y2="42.31" stroke="#2a2220" stroke-width="0.6" opacity="0.45"/>
<line x1="376.82" y1="38.27" x2="373.95" y2="35.44" stroke="#2a2220" stroke-width="0.6" opacity="0.45"/>
<line x1="378.05" y1="44.42" x2="376.10" y2="38.82" stroke="#2a2220" stroke-width="0.6" opacity="0.45"/>
<line x1="375.95" y1="42.27" x2="379.23" y2="36.66" stroke="#2a2220" stroke-width="0.6" opacity="0.45"/>
<line x1="374.02" y1="46.90" x2="374.35" y2="39.53" stroke="#2a2220" stroke-width="0.6" opacity="0.45"/>
<path d="M344.04,88.78 C338.42,85.41 340.81,74.73 340.34,68.54 C339.88,62.35 340.27,56.49 341.27,51.67 C342.27,46.85 343.96,42.27 346.35,39.62 C348.74,36.97 352.51,36.17 355.59,35.76 C358.67,35.36 361.98,35.36 364.83,37.21 C367.68,39.06 370.76,42.83 372.68,46.85 C374.61,50.87 375.76,56.49 376.38,61.31 C377.00,66.13 376.76,71.19 376.38,75.77 C376.00,80.35 379.46,86.62 374.07,88.78 C368.68,90.95 349.66,92.16 344.04,88.78Z" fill="#ab9d8f" filter="url(#b05)"/>
<path d="M348.66,44.44 C349.51,42.03 352.90,40.26 355.59,39.62 C358.29,38.98 362.14,38.58 364.83,40.58 C367.53,42.59 370.76,48.22 371.76,51.67 C372.76,55.12 373.15,60.11 370.84,61.31 C368.53,62.52 361.29,60.10 357.90,58.90 C354.51,57.70 352.05,56.49 350.51,54.08 C348.97,51.67 347.81,46.85 348.66,44.44Z" fill="#b9a398" filter="url(#b1)"/>
<ellipse cx="352.36" cy="55.04" rx="3.23" ry="5.30" transform="rotate(0 352.36 55.04)" fill="#cfc9c5" filter="url(#b1)"/>
<path d="M353.28,64.20 C353.51,63.00 357.28,60.11 360.21,59.86 C363.14,59.62 369.22,61.31 370.84,62.76 C372.45,64.20 371.91,67.82 369.91,68.54 C367.91,69.26 361.60,67.82 358.82,67.09 C356.05,66.37 353.05,65.41 353.28,64.20Z" fill="#87585f" filter="url(#b05)"/>
<path d="M348.66,70.47 C350.97,67.09 356.21,68.54 360.21,68.54 C364.21,68.54 370.30,67.09 372.68,70.47 C375.07,73.84 378.92,85.73 374.53,88.78 C370.14,91.84 350.66,91.84 346.35,88.78 C342.04,85.73 346.35,73.84 348.66,70.47Z" fill="#b1989a" filter="url(#b1)"/>
<path d="M355.13,77.22 C353.74,75.93 348.74,72.96 346.81,69.50 C344.89,66.05 343.81,60.67 343.58,56.49 C343.35,52.31 344.19,47.49 345.43,44.44 C346.66,41.39 348.89,39.54 350.97,38.17 C353.05,36.81 356.75,36.57 357.90,36.25" fill="none" stroke="#c9bc98" stroke-width="3.2" stroke-linecap="round" filter="url(#b1)"/>
<path d="M357.90,36.25 C359.44,36.65 364.52,36.49 367.14,38.66 C369.76,40.83 372.07,45.08 373.61,49.26 C375.15,53.44 375.92,58.74 376.38,63.72 C376.84,68.70 376.38,76.57 376.38,79.14" fill="none" stroke="#bdb090" stroke-width="2.0" stroke-linecap="round" filter="url(#b1)"/>
<circle cx="358.15" cy="49.99" r="0.89" fill="#e4dcd0" opacity="0.8"/>
<circle cx="348.26" cy="52.50" r="0.75" fill="#e4dcd0" opacity="0.8"/>
<circle cx="348.81" cy="53.87" r="0.32" fill="#e4dcd0" opacity="0.8"/>
<circle cx="357.16" cy="59.18" r="0.64" fill="#e4dcd0" opacity="0.8"/>
<circle cx="360.51" cy="50.49" r="0.72" fill="#e4dcd0" opacity="0.8"/>
<circle cx="355.96" cy="55.62" r="0.57" fill="#e4dcd0" opacity="0.8"/>
<circle cx="359.93" cy="62.65" r="0.58" fill="#e4dcd0" opacity="0.8"/>
<circle cx="357.09" cy="45.61" r="0.72" fill="#e4dcd0" opacity="0.8"/>
<circle cx="356.81" cy="63.59" r="0.79" fill="#e4dcd0" opacity="0.8"/>
<circle cx="350.95" cy="51.88" r="0.70" fill="#e4dcd0" opacity="0.8"/>
</g>
<rect x="334.80" y="34.80" width="46.20" height="48.20" filter="url(#grain)" opacity="0.35"/>
</g>
<g clip-path="url(#cp2)"><g filter="url(#b04)"><rect x="383.00" y="31.80" width="51.80" height="54.20" fill="#65208a"/>
<polygon points="380.50,55.04 396.08,57.94 399.74,70.95 380.50,72.40" fill="#2e2828" filter="url(#b1)"/>
<polygon points="425.39,54.08 437.30,52.15 437.30,88.78 423.56,88.78" fill="#302a2a" filter="url(#b1)"/>
<line x1="425.09" y1="55.94" x2="423.07" y2="52.97" stroke="#222" stroke-width="0.6" opacity="0.45"/>
<line x1="425.34" y1="60.37" x2="422.71" y2="57.04" stroke="#222" stroke-width="0.6" opacity="0.45"/>
<line x1="427.62" y1="61.86" x2="424.02" y2="58.04" stroke="#222" stroke-width="0.6" opacity="0.45"/>
<line x1="428.70" y1="62.03" x2="432.68" y2="55.89" stroke="#222" stroke-width="0.6" opacity="0.45"/>
<line x1="426.84" y1="55.27" x2="424.98" y2="48.08" stroke="#222" stroke-width="0.6" opacity="0.45"/>
<line x1="431.51" y1="51.44" x2="429.22" y2="47.97" stroke="#222" stroke-width="0.6" opacity="0.45"/>
<line x1="426.53" y1="56.27" x2="427.22" y2="52.01" stroke="#222" stroke-width="0.6" opacity="0.45"/>
<line x1="424.96" y1="55.32" x2="423.60" y2="49.65" stroke="#222" stroke-width="0.6" opacity="0.45"/>
<line x1="431.48" y1="59.24" x2="431.65" y2="53.16" stroke="#222" stroke-width="0.6" opacity="0.45"/>
<line x1="429.58" y1="50.04" x2="434.12" y2="44.85" stroke="#222" stroke-width="0.6" opacity="0.45"/>
<path d="M380.50,69.50 C384.09,66.53 396.92,67.74 402.03,70.95 C407.14,74.16 414.78,85.81 411.19,88.78 C407.60,91.76 385.62,92.00 380.50,88.78 C375.39,85.57 376.92,72.48 380.50,69.50Z" fill="#d6c6ca" filter="url(#b1)"/>
<polygon points="380.50,68.54 390.58,69.50 391.50,88.78 380.50,88.78" fill="#5a4e4c" filter="url(#b1)"/>
<polygon points="404.32,78.18 424.93,78.18 424.93,88.78 404.32,88.78" fill="#cfb4ac" filter="url(#b1)"/>
<ellipse cx="408.90" cy="59.86" rx="15.11" ry="26.99" transform="rotate(-28 408.90 59.86)" fill="#cdbfa8" filter="url(#b05)"/>
<ellipse cx="415.31" cy="70.47" rx="10.08" ry="10.60" transform="rotate(-20 415.31 70.47)" fill="#d3a99a" filter="url(#b1)"/>
<ellipse cx="417.14" cy="73.36" rx="4.58" ry="2.89" transform="rotate(-10 417.14 73.36)" fill="#b07a80" filter="url(#b1)"/>
<path d="M396.08,68.54 C395.47,66.53 392.56,60.51 392.41,56.49 C392.26,52.47 393.56,47.41 395.16,44.44 C396.76,41.47 399.74,39.46 402.03,38.66 C404.32,37.85 407.75,39.46 408.90,39.62" fill="none" stroke="#d8ccac" stroke-width="2.5" stroke-linecap="round" filter="url(#b1)"/>
<polygon points="426.30,70.95 437.30,69.50 437.30,88.78 424.93,88.78" fill="#3a3030" filter="url(#b1)"/>
<circle cx="407.18" cy="59.34" r="0.54" fill="#eee6d8" opacity="0.8"/>
<circle cx="400.64" cy="44.28" r="0.68" fill="#eee6d8" opacity="0.8"/>
<circle cx="396.02" cy="43.49" r="0.43" fill="#eee6d8" opacity="0.8"/>
<circle cx="397.39" cy="49.41" r="0.33" fill="#eee6d8" opacity="0.8"/>
<circle cx="395.16" cy="45.31" r="0.36" fill="#eee6d8" opacity="0.8"/>
<circle cx="400.16" cy="42.58" r="0.82" fill="#eee6d8" opacity="0.8"/>
<circle cx="403.60" cy="45.25" r="0.45" fill="#eee6d8" opacity="0.8"/>
<circle cx="399.93" cy="49.93" r="0.37" fill="#eee6d8" opacity="0.8"/>
<circle cx="406.82" cy="63.57" r="0.58" fill="#eee6d8" opacity="0.8"/>
<circle cx="401.81" cy="43.89" r="0.36" fill="#eee6d8" opacity="0.8"/>
</g>
<rect x="386.00" y="34.80" width="45.80" height="48.20" filter="url(#grain)" opacity="0.35"/>
</g>
<g clip-path="url(#cp3)"><g filter="url(#b04)"><rect x="331.80" y="91.00" width="53.20" height="53.40" fill="#1c1816"/>
<polygon points="329.14,88.31 387.66,88.31 387.66,115.33 370.20,108.22 348.96,105.85 329.14,107.27" fill="#e8a4c2" filter="url(#b05)"/>
<line x1="372.69" y1="103.13" x2="374.82" y2="99.97" stroke="#1c1616" stroke-width="0.6" opacity="0.45"/>
<line x1="368.17" y1="114.52" x2="368.36" y2="110.79" stroke="#1c1616" stroke-width="0.6" opacity="0.45"/>
<line x1="375.53" y1="99.19" x2="375.93" y2="91.31" stroke="#1c1616" stroke-width="0.6" opacity="0.45"/>
<line x1="380.06" y1="110.29" x2="378.05" y2="105.90" stroke="#1c1616" stroke-width="0.6" opacity="0.45"/>
<line x1="370.21" y1="111.55" x2="370.61" y2="104.66" stroke="#1c1616" stroke-width="0.6" opacity="0.45"/>
<line x1="372.51" y1="102.44" x2="376.72" y2="95.73" stroke="#1c1616" stroke-width="0.6" opacity="0.45"/>
<line x1="379.91" y1="112.11" x2="383.55" y2="106.48" stroke="#1c1616" stroke-width="0.6" opacity="0.45"/>
<line x1="371.05" y1="107.33" x2="370.24" y2="104.29" stroke="#1c1616" stroke-width="0.6" opacity="0.45"/>
<line x1="368.24" y1="103.38" x2="365.52" y2="97.51" stroke="#1c1616" stroke-width="0.6" opacity="0.45"/>
<line x1="381.38" y1="106.16" x2="387.01" y2="100.55" stroke="#1c1616" stroke-width="0.6" opacity="0.45"/>
<line x1="381.36" y1="104.79" x2="379.37" y2="101.17" stroke="#1c1616" stroke-width="0.6" opacity="0.45"/>
<line x1="370.63" y1="102.13" x2="372.29" y2="94.82" stroke="#1c1616" stroke-width="0.6" opacity="0.45"/>
<line x1="379.74" y1="106.69" x2="381.64" y2="99.96" stroke="#1c1616" stroke-width="0.6" opacity="0.45"/>
<line x1="369.04" y1="109.70" x2="373.69" y2="104.58" stroke="#1c1616" stroke-width="0.6" opacity="0.45"/>
<line x1="378.46" y1="106.67" x2="374.66" y2="100.86" stroke="#1c1616" stroke-width="0.6" opacity="0.45"/>
<line x1="372.55" y1="112.03" x2="376.29" y2="108.74" stroke="#1c1616" stroke-width="0.6" opacity="0.45"/>
<path d="M329.14,120.07 C332.44,115.57 344.08,117.70 348.96,120.07 C353.84,122.44 357.22,129.79 358.40,134.29 C359.58,138.79 360.92,144.95 356.04,147.09 C351.16,149.22 333.62,151.59 329.14,147.09 C324.65,142.58 325.83,124.57 329.14,120.07Z" fill="#9e8e8c" filter="url(#b1)"/>
<path d="M343.30,94.95 C345.66,91.63 352.11,87.52 356.04,88.31 C359.97,89.10 364.14,95.58 366.90,99.69 C369.65,103.80 371.22,107.98 372.56,112.96 C373.90,117.94 375.08,124.97 374.92,129.55 C374.76,134.13 374.37,138.87 371.62,140.45 C368.86,142.03 362.18,141.24 358.40,139.03 C354.62,136.82 351.71,132.31 348.96,127.18 C346.21,122.05 342.82,113.59 341.88,108.22 C340.94,102.85 340.94,98.27 343.30,94.95Z" fill="#a99b8a" filter="url(#b05)"/>
<path d="M356.04,118.65 C356.67,117.23 360.76,115.96 363.12,116.75 C365.48,117.54 369.41,121.33 370.20,123.39 C370.99,125.44 369.65,128.76 367.84,129.08 C366.03,129.39 361.31,127.02 359.34,125.28 C357.38,123.55 355.41,120.07 356.04,118.65Z" fill="#93676f" filter="url(#b05)"/>
<path d="M351.32,129.55 C352.50,126.63 359.97,127.97 363.12,129.55 C366.27,131.13 371.38,136.11 370.20,139.03 C369.02,141.95 359.19,148.67 356.04,147.09 C352.89,145.51 350.14,132.47 351.32,129.55Z" fill="#b09c9c" filter="url(#b1)"/>
<path d="M344.24,97.79 C344.63,99.92 345.03,106.48 346.60,110.59 C348.17,114.70 351.08,118.49 353.68,122.44 C356.28,126.39 359.97,131.29 362.18,134.29 C364.38,137.29 366.11,139.43 366.90,140.45" fill="none" stroke="#c2b59c" stroke-width="2.4" stroke-linecap="round" filter="url(#b1)"/>
<polygon points="373.50,131.92 387.66,129.55 387.66,147.09 372.56,147.09" fill="#252020" filter="url(#b1)"/>
<circle cx="356.54" cy="116.69" r="0.73" fill="#dcd4c8" opacity="0.8"/>
<circle cx="352.17" cy="101.15" r="0.39" fill="#dcd4c8" opacity="0.8"/>
<circle cx="366.04" cy="114.03" r="0.39" fill="#dcd4c8" opacity="0.8"/>
<circle cx="364.56" cy="117.33" r="0.69" fill="#dcd4c8" opacity="0.8"/>
<circle cx="355.58" cy="109.14" r="0.38" fill="#dcd4c8" opacity="0.8"/>
<circle cx="349.23" cy="117.15" r="0.69" fill="#dcd4c8" opacity="0.8"/>
<circle cx="358.90" cy="116.44" r="0.56" fill="#dcd4c8" opacity="0.8"/>
<circle cx="365.42" cy="114.40" r="0.43" fill="#dcd4c8" opacity="0.8"/>
</g>
<rect x="334.80" y="94.00" width="47.20" height="47.40" filter="url(#grain)" opacity="0.35"/>
</g>
<g clip-path="url(#cp4)"><g filter="url(#b04)"><rect x="383.00" y="90.60" width="51.80" height="53.80" fill="#2e2626"/>
<polygon points="380.50,87.86 437.30,87.86 437.30,95.99 395.16,95.99 390.58,107.94 380.50,107.94" fill="#65208a" filter="url(#b05)"/>
<path d="M391.50,97.42 C394.55,92.88 401.42,94.87 406.61,95.03 C411.80,95.19 419.20,95.43 422.64,98.38 C426.07,101.33 426.30,107.54 427.22,112.72 C428.14,117.90 428.52,123.71 428.14,129.45 C427.75,135.19 431.19,144.19 424.93,147.14 C418.67,150.08 396.69,151.28 390.58,147.14 C384.47,142.99 388.14,130.57 388.29,122.28 C388.44,113.99 388.44,101.96 391.50,97.42Z" fill="#cdc2ba" filter="url(#b05)"/>
<path d="M404.32,122.28 C405.08,120.69 408.29,119.49 411.19,119.89 C414.09,120.29 419.97,121.88 421.72,124.67 C423.48,127.46 423.10,134.47 421.72,136.62 C420.35,138.77 416.00,138.77 413.48,137.58 C410.96,136.38 408.14,132.00 406.61,129.45 C405.08,126.90 403.56,123.87 404.32,122.28Z" fill="#a5808a" filter="url(#b1)"/>
<ellipse cx="397.45" cy="110.33" rx="6.87" ry="11.95" transform="rotate(0 397.45 110.33)" fill="#d8cfb8" filter="url(#b1)"/>
<polygon points="426.30,100.77 437.30,100.77 437.30,122.28 427.22,119.89" fill="#2a2424" filter="url(#b1)"/>
<circle cx="397.50" cy="106.49" r="0.44" fill="#efe6c8" opacity="0.8"/>
<circle cx="406.70" cy="105.29" r="0.55" fill="#efe6c8" opacity="0.8"/>
<circle cx="394.18" cy="128.61" r="0.51" fill="#efe6c8" opacity="0.8"/>
<circle cx="403.17" cy="116.90" r="0.84" fill="#efe6c8" opacity="0.8"/>
<circle cx="402.14" cy="128.89" r="0.60" fill="#efe6c8" opacity="0.8"/>
<circle cx="405.19" cy="114.76" r="0.31" fill="#efe6c8" opacity="0.8"/>
<circle cx="402.67" cy="102.55" r="0.30" fill="#efe6c8" opacity="0.8"/>
<circle cx="412.54" cy="102.17" r="0.58" fill="#efe6c8" opacity="0.8"/>
<circle cx="410.51" cy="115.94" r="0.50" fill="#efe6c8" opacity="0.8"/>
<circle cx="404.82" cy="115.90" r="0.77" fill="#efe6c8" opacity="0.8"/>
<circle cx="393.50" cy="116.08" r="0.45" fill="#efe6c8" opacity="0.8"/>
<circle cx="398.19" cy="123.68" r="0.60" fill="#efe6c8" opacity="0.8"/>
<circle cx="406.02" cy="123.24" r="0.85" fill="#efe6c8" opacity="0.8"/>
<circle cx="402.76" cy="117.95" r="0.60" fill="#efe6c8" opacity="0.8"/>
<circle cx="404.65" cy="120.82" r="0.57" fill="#efe6c8" opacity="0.8"/>
<circle cx="405.23" cy="113.13" r="0.86" fill="#efe6c8" opacity="0.8"/>
<circle cx="409.79" cy="127.41" r="0.87" fill="#efe6c8" opacity="0.8"/>
<circle cx="397.71" cy="116.05" r="0.87" fill="#efe6c8" opacity="0.8"/>
<circle cx="413.66" cy="100.91" r="0.37" fill="#efe6c8" opacity="0.8"/>
<circle cx="402.73" cy="98.59" r="0.44" fill="#efe6c8" opacity="0.8"/>
<circle cx="392.59" cy="119.99" r="0.77" fill="#efe6c8" opacity="0.8"/>
<circle cx="415.23" cy="101.53" r="0.73" fill="#efe6c8" opacity="0.8"/>
<circle cx="408.72" cy="101.12" r="0.83" fill="#efe6c8" opacity="0.8"/>
<circle cx="417.17" cy="103.86" r="0.87" fill="#efe6c8" opacity="0.8"/>
<circle cx="401.52" cy="113.46" r="0.89" fill="#efe6c8" opacity="0.8"/>
<circle cx="413.46" cy="101.78" r="0.56" fill="#efe6c8" opacity="0.8"/>
<circle cx="404.75" cy="108.15" r="0.42" fill="#efe6c8" opacity="0.8"/>
<circle cx="399.33" cy="121.88" r="0.31" fill="#efe6c8" opacity="0.8"/>
<circle cx="405.81" cy="111.78" r="0.31" fill="#efe6c8" opacity="0.8"/>
<circle cx="399.69" cy="118.36" r="0.61" fill="#efe6c8" opacity="0.8"/>
<circle cx="392.35" cy="131.31" r="0.77" fill="#efe6c8" opacity="0.8"/>
<circle cx="417.28" cy="99.75" r="0.46" fill="#efe6c8" opacity="0.8"/>
<circle cx="391.67" cy="123.92" r="0.46" fill="#efe6c8" opacity="0.8"/>
<circle cx="394.14" cy="111.13" r="0.85" fill="#efe6c8" opacity="0.8"/>
<circle cx="413.09" cy="105.26" r="0.39" fill="#efe6c8" opacity="0.8"/>
<circle cx="415.84" cy="116.45" r="0.72" fill="#efe6c8" opacity="0.8"/>
<circle cx="393.04" cy="98.05" r="0.71" fill="#efe6c8" opacity="0.8"/>
<circle cx="402.27" cy="98.59" r="0.86" fill="#efe6c8" opacity="0.8"/>
<circle cx="408.01" cy="124.73" r="0.35" fill="#efe6c8" opacity="0.8"/>
<circle cx="414.11" cy="98.38" r="0.82" fill="#efe6c8" opacity="0.8"/>
</g>
<rect x="386.00" y="93.60" width="45.80" height="47.80" filter="url(#grain)" opacity="0.35"/>
</g>
<g clip-path="url(#cp5)"><g filter="url(#b04)"><rect x="316.10" y="329.50" width="50.90" height="54.10" fill="#1c1816"/>
<polygon points="313.71,326.73 369.39,326.73 369.39,355.59 355.02,351.74 332.57,343.08 313.71,342.12" fill="#e8a4c2" filter="url(#b05)"/>
<line x1="324.80" y1="344.61" x2="325.53" y2="337.01" stroke="#1a1414" stroke-width="0.6" opacity="0.45"/>
<line x1="322.47" y1="341.58" x2="322.67" y2="337.39" stroke="#1a1414" stroke-width="0.6" opacity="0.45"/>
<line x1="320.48" y1="342.04" x2="317.57" y2="339.28" stroke="#1a1414" stroke-width="0.6" opacity="0.45"/>
<line x1="323.02" y1="344.12" x2="325.03" y2="340.14" stroke="#1a1414" stroke-width="0.6" opacity="0.45"/>
<line x1="325.39" y1="342.28" x2="324.55" y2="339.31" stroke="#1a1414" stroke-width="0.6" opacity="0.45"/>
<line x1="322.25" y1="339.94" x2="324.59" y2="334.68" stroke="#1a1414" stroke-width="0.6" opacity="0.45"/>
<line x1="321.48" y1="346.57" x2="323.97" y2="344.06" stroke="#1a1414" stroke-width="0.6" opacity="0.45"/>
<line x1="329.40" y1="345.95" x2="329.33" y2="338.78" stroke="#1a1414" stroke-width="0.6" opacity="0.45"/>
<line x1="324.04" y1="347.03" x2="326.67" y2="339.56" stroke="#1a1414" stroke-width="0.6" opacity="0.45"/>
<line x1="323.41" y1="351.72" x2="325.66" y2="345.97" stroke="#1a1414" stroke-width="0.6" opacity="0.45"/>
<line x1="324.19" y1="344.73" x2="321.56" y2="342.19" stroke="#1a1414" stroke-width="0.6" opacity="0.45"/>
<line x1="319.99" y1="350.41" x2="318.36" y2="346.95" stroke="#1a1414" stroke-width="0.6" opacity="0.45"/>
<line x1="320.16" y1="351.85" x2="324.09" y2="346.86" stroke="#1a1414" stroke-width="0.6" opacity="0.45"/>
<line x1="322.64" y1="343.21" x2="320.72" y2="338.28" stroke="#1a1414" stroke-width="0.6" opacity="0.45"/>
<path d="M313.71,356.55 C316.71,351.42 328.15,350.62 331.67,355.59 C335.19,360.56 337.81,381.24 334.81,386.37 C331.82,391.50 317.23,391.34 313.71,386.37 C310.19,381.40 310.72,361.68 313.71,356.55Z" fill="#958a7e" filter="url(#b1)"/>
<ellipse cx="344.24" cy="356.55" rx="13.47" ry="23.57" transform="rotate(-3 344.24 356.55)" fill="#a4988a" filter="url(#b05)"/>
<path d="M336.16,367.13 C336.76,363.44 339.45,364.41 341.55,364.25 C343.65,364.09 347.39,362.48 348.73,366.17 C350.08,369.86 351.43,383.00 349.63,386.37 C347.84,389.74 340.20,389.58 337.96,386.37 C335.71,383.17 335.56,370.82 336.16,367.13Z" fill="#88707a" filter="url(#b1)"/>
<path d="M333.92,378.19 C333.54,375.39 331.90,366.97 331.67,361.36 C331.45,355.75 331.52,348.77 332.57,344.52 C333.62,340.28 337.06,337.31 337.96,335.87" fill="none" stroke="#b8aa92" stroke-width="2.6" stroke-linecap="round" filter="url(#b1)"/>
<ellipse cx="351.43" cy="362.32" rx="0.67" ry="0.72" transform="rotate(0 351.43 362.32)" fill="#222" filter="url(#b05)"/>
<polygon points="357.27,356.55 369.39,355.59 369.39,386.37 355.02,386.37" fill="#1e1818" filter="url(#b1)"/>
</g>
<rect x="319.10" y="332.50" width="44.90" height="48.10" filter="url(#grain)" opacity="0.35"/>
</g>
<g clip-path="url(#cp6)"><g filter="url(#b04)"><rect x="366.80" y="329.50" width="51.00" height="54.10" fill="#1c1816"/>
<polygon points="364.40,326.73 420.20,326.73 420.20,338.27 378.80,337.31 364.40,343.08" fill="#e8a4c2" filter="url(#b05)"/>
<line x1="405.32" y1="345.89" x2="402.09" y2="338.78" stroke="#1a1414" stroke-width="0.6" opacity="0.45"/>
<line x1="414.49" y1="347.84" x2="411.02" y2="340.82" stroke="#1a1414" stroke-width="0.6" opacity="0.45"/>
<line x1="407.03" y1="344.17" x2="403.19" y2="341.11" stroke="#1a1414" stroke-width="0.6" opacity="0.45"/>
<line x1="408.89" y1="346.98" x2="406.06" y2="342.24" stroke="#1a1414" stroke-width="0.6" opacity="0.45"/>
<line x1="403.61" y1="342.39" x2="400.24" y2="338.70" stroke="#1a1414" stroke-width="0.6" opacity="0.45"/>
<line x1="404.02" y1="337.74" x2="402.58" y2="333.83" stroke="#1a1414" stroke-width="0.6" opacity="0.45"/>
<line x1="410.14" y1="347.49" x2="412.88" y2="341.83" stroke="#1a1414" stroke-width="0.6" opacity="0.45"/>
<line x1="411.60" y1="354.22" x2="410.69" y2="349.68" stroke="#1a1414" stroke-width="0.6" opacity="0.45"/>
<line x1="414.63" y1="340.19" x2="417.07" y2="334.47" stroke="#1a1414" stroke-width="0.6" opacity="0.45"/>
<line x1="404.04" y1="353.38" x2="408.02" y2="348.71" stroke="#1a1414" stroke-width="0.6" opacity="0.45"/>
<path d="M364.40,366.17 C367.55,362.96 379.40,363.76 383.30,367.13 C387.20,370.50 390.95,383.17 387.80,386.37 C384.65,389.58 368.30,389.74 364.40,386.37 C360.50,383.00 361.25,369.38 364.40,366.17Z" fill="#a89aa4" filter="url(#b1)"/>
<polygon points="364.40,368.57 375.20,370.98 376.10,386.37 364.40,386.37" fill="#5a5050" filter="url(#b1)"/>
<path d="M375.20,346.93 C376.18,341.80 378.20,337.55 381.05,335.39 C383.90,333.22 388.93,333.62 392.30,333.94 C395.68,334.26 398.90,334.34 401.30,337.31 C403.70,340.28 405.35,346.53 406.70,351.74 C408.05,356.95 409.18,362.80 409.40,368.57 C409.63,374.35 412.40,383.41 408.05,386.37 C403.70,389.34 388.78,389.74 383.30,386.37 C377.82,383.00 376.55,372.74 375.20,366.17 C373.85,359.60 374.22,352.06 375.20,346.93Z" fill="#c0b0a4" filter="url(#b05)"/>
<path d="M388.70,361.36 C389.45,360.40 393.20,359.76 394.55,360.40 C395.90,361.04 397.55,364.25 396.80,365.21 C396.05,366.17 391.40,366.81 390.05,366.17 C388.70,365.53 387.95,362.32 388.70,361.36Z" fill="#84484f" filter="url(#b05)"/>
<path d="M392.30,365.21 C393.35,363.28 398.90,363.28 401.30,364.25 C403.70,365.21 406.55,368.41 406.70,370.98 C406.85,373.55 404.15,378.84 402.20,379.64 C400.25,380.44 396.65,378.19 395.00,375.79 C393.35,373.39 391.25,367.13 392.30,365.21Z" fill="#9c8090" filter="url(#b1)"/>
<circle cx="394.71" cy="360.75" r="0.38" fill="#e8e0d0" opacity="0.8"/>
<circle cx="389.51" cy="351.87" r="0.80" fill="#e8e0d0" opacity="0.8"/>
<circle cx="396.47" cy="361.16" r="0.65" fill="#e8e0d0" opacity="0.8"/>
<circle cx="398.65" cy="357.02" r="0.72" fill="#e8e0d0" opacity="0.8"/>
<circle cx="382.24" cy="338.21" r="0.38" fill="#e8e0d0" opacity="0.8"/>
<circle cx="385.48" cy="340.34" r="0.80" fill="#e8e0d0" opacity="0.8"/>
<circle cx="390.37" cy="355.43" r="0.68" fill="#e8e0d0" opacity="0.8"/>
<circle cx="393.40" cy="351.43" r="0.30" fill="#e8e0d0" opacity="0.8"/>
<circle cx="396.29" cy="358.90" r="0.60" fill="#e8e0d0" opacity="0.8"/>
<circle cx="389.80" cy="356.34" r="0.34" fill="#e8e0d0" opacity="0.8"/>
<circle cx="394.79" cy="344.59" r="0.34" fill="#e8e0d0" opacity="0.8"/>
<circle cx="383.12" cy="358.36" r="0.42" fill="#e8e0d0" opacity="0.8"/>
<circle cx="394.86" cy="365.47" r="0.60" fill="#e8e0d0" opacity="0.8"/>
<circle cx="386.02" cy="351.13" r="0.71" fill="#e8e0d0" opacity="0.8"/>
<circle cx="395.53" cy="355.12" r="0.69" fill="#e8e0d0" opacity="0.8"/>
<circle cx="378.47" cy="341.56" r="0.45" fill="#e8e0d0" opacity="0.8"/>
<circle cx="394.94" cy="346.10" r="0.64" fill="#e8e0d0" opacity="0.8"/>
<circle cx="376.86" cy="339.06" r="0.46" fill="#e8e0d0" opacity="0.8"/>
<circle cx="393.18" cy="357.29" r="0.71" fill="#e8e0d0" opacity="0.8"/>
<circle cx="383.75" cy="352.22" r="0.58" fill="#e8e0d0" opacity="0.8"/>
<circle cx="388.09" cy="340.73" r="0.84" fill="#e8e0d0" opacity="0.8"/>
<circle cx="381.48" cy="365.54" r="0.86" fill="#e8e0d0" opacity="0.8"/>
<circle cx="376.98" cy="350.56" r="0.79" fill="#e8e0d0" opacity="0.8"/>
<circle cx="400.51" cy="350.28" r="0.46" fill="#e8e0d0" opacity="0.8"/>
<circle cx="381.74" cy="364.60" r="0.43" fill="#e8e0d0" opacity="0.8"/>
<circle cx="390.94" cy="341.40" r="0.61" fill="#e8e0d0" opacity="0.8"/>
<circle cx="400.13" cy="341.14" r="0.79" fill="#e8e0d0" opacity="0.8"/>
<circle cx="389.14" cy="362.90" r="0.72" fill="#e8e0d0" opacity="0.8"/>
<circle cx="382.28" cy="363.22" r="0.59" fill="#e8e0d0" opacity="0.8"/>
<circle cx="377.16" cy="337.41" r="0.60" fill="#e8e0d0" opacity="0.8"/>
</g>
<rect x="369.80" y="332.50" width="45.00" height="48.10" filter="url(#grain)" opacity="0.35"/>
</g>
<g clip-path="url(#cp7)"><g filter="url(#b04)"><rect x="316.10" y="390.20" width="50.90" height="53.30" fill="#1a1513"/>
<path d="M324.49,416.85 C324.71,411.73 325.09,406.05 327.18,402.66 C329.28,399.27 333.54,397.46 337.06,396.51 C340.58,395.56 344.92,395.56 348.29,396.98 C351.65,398.40 355.39,401.71 357.27,405.02 C359.14,408.34 359.73,412.51 359.51,416.85 C359.29,421.19 358.16,427.26 355.92,431.04 C353.67,434.82 349.56,438.13 346.04,439.55 C342.52,440.97 338.18,440.58 334.81,439.55 C331.45,438.53 327.56,437.19 325.84,433.40 C324.11,429.62 324.26,421.97 324.49,416.85Z" fill="#ad9f8e" filter="url(#b05)"/>
<path d="M332.57,410.23 C333.92,408.97 338.41,408.02 341.55,408.34 C344.69,408.65 349.93,410.70 351.43,412.12 C352.92,413.54 353.52,416.22 350.53,416.85 C347.54,417.48 336.46,417.01 333.47,415.90 C330.47,414.80 331.22,411.49 332.57,410.23Z" fill="#c8b2a2" filter="url(#b1)"/>
<path d="M332.57,415.43 C333.17,413.30 338.56,413.30 341.55,413.54 C344.54,413.78 349.78,414.72 350.53,416.85 C351.28,418.98 347.54,423.16 346.04,426.31 C344.54,429.46 342.90,435.77 341.55,435.77 C340.20,435.77 339.45,429.70 337.96,426.31 C336.46,422.92 331.97,417.56 332.57,415.43Z" fill="#7a5f68" filter="url(#b05)"/>
<path d="M313.71,423.94 C316.11,419.85 324.56,419.61 328.08,421.58 C331.60,423.55 334.07,431.67 334.81,435.77 C335.56,439.87 336.09,444.44 332.57,446.18 C329.05,447.91 316.86,449.88 313.71,446.18 C310.57,442.47 311.32,428.04 313.71,423.94Z" fill="#a09482" filter="url(#b1)"/>
<circle cx="340.22" cy="402.21" r="0.38" fill="#d8ccb0" opacity="0.8"/>
<circle cx="337.35" cy="402.42" r="0.80" fill="#d8ccb0" opacity="0.8"/>
<circle cx="328.13" cy="408.58" r="0.80" fill="#d8ccb0" opacity="0.8"/>
<circle cx="331.31" cy="411.08" r="0.73" fill="#d8ccb0" opacity="0.8"/>
<circle cx="352.37" cy="402.04" r="0.52" fill="#d8ccb0" opacity="0.8"/>
<circle cx="338.66" cy="412.10" r="0.65" fill="#d8ccb0" opacity="0.8"/>
</g>
<rect x="319.10" y="393.20" width="44.90" height="47.30" filter="url(#grain)" opacity="0.35"/>
</g>
<g clip-path="url(#cp8)"><g filter="url(#b04)"><rect x="367.00" y="390.20" width="50.80" height="53.30" fill="#1c1816"/>
<polygon points="364.62,387.52 381.20,387.52 374.48,402.66 364.62,405.02" fill="#e8a4c2" filter="url(#b05)"/>
<polygon points="401.36,387.52 420.18,387.52 420.18,406.44" fill="#e8a4c2" filter="url(#b05)"/>
<line x1="409.07" y1="408.73" x2="407.80" y2="405.75" stroke="#1a1414" stroke-width="0.6" opacity="0.45"/>
<line x1="406.75" y1="414.50" x2="403.86" y2="407.39" stroke="#1a1414" stroke-width="0.6" opacity="0.45"/>
<line x1="408.07" y1="406.43" x2="408.15" y2="402.48" stroke="#1a1414" stroke-width="0.6" opacity="0.45"/>
<line x1="409.19" y1="416.23" x2="413.69" y2="410.79" stroke="#1a1414" stroke-width="0.6" opacity="0.45"/>
<line x1="411.49" y1="415.62" x2="415.59" y2="411.59" stroke="#1a1414" stroke-width="0.6" opacity="0.45"/>
<line x1="412.29" y1="403.36" x2="414.42" y2="398.56" stroke="#1a1414" stroke-width="0.6" opacity="0.45"/>
<line x1="412.58" y1="411.81" x2="411.37" y2="408.80" stroke="#1a1414" stroke-width="0.6" opacity="0.45"/>
<line x1="414.14" y1="404.47" x2="413.91" y2="399.75" stroke="#1a1414" stroke-width="0.6" opacity="0.45"/>
<line x1="408.51" y1="413.15" x2="411.76" y2="410.33" stroke="#1a1414" stroke-width="0.6" opacity="0.45"/>
<line x1="411.72" y1="406.93" x2="412.23" y2="401.98" stroke="#1a1414" stroke-width="0.6" opacity="0.45"/>
<path d="M372.24,409.75 C372.99,401.71 374.11,400.45 376.72,397.93 C379.33,395.41 384.41,394.78 387.92,394.62 C391.43,394.46 394.79,394.86 397.78,396.98 C400.76,399.11 403.60,403.29 405.84,407.39 C408.08,411.49 410.10,415.12 411.22,421.58 C412.34,428.04 419.06,442.08 412.56,446.18 C406.06,450.28 378.96,452.25 372.24,446.18 C365.52,440.11 371.49,417.80 372.24,409.75Z" fill="#bfaca0" filter="url(#b05)"/>
<path d="M392.40,420.63 C393.52,419.29 398.52,418.43 401.36,419.21 C404.20,420.00 409.05,423.71 409.42,425.36 C409.80,427.02 406.06,428.83 403.60,429.15 C401.14,429.46 396.51,428.67 394.64,427.26 C392.77,425.84 391.28,421.97 392.40,420.63Z" fill="#9e6e76" filter="url(#b1)"/>
<path d="M374.48,427.26 C378.21,424.10 392.03,424.10 396.88,427.26 C401.73,430.41 407.33,443.02 403.60,446.18 C399.87,449.33 379.33,449.33 374.48,446.18 C369.63,443.02 370.75,430.41 374.48,427.26Z" fill="#b2a2aa" filter="url(#b1)"/>
<ellipse cx="383.44" cy="407.39" rx="8.96" ry="7.09" transform="rotate(0 383.44 407.39)" fill="#ccbcb0" filter="url(#b1)"/>
<ellipse cx="387.92" cy="405.02" rx="1.34" ry="1.42" transform="rotate(0 387.92 405.02)" fill="#9a6060" filter="url(#b05)"/>
<circle cx="378.98" cy="401.75" r="0.42" fill="#e8e0d0" opacity="0.8"/>
<circle cx="398.83" cy="409.69" r="0.43" fill="#e8e0d0" opacity="0.8"/>
<circle cx="398.84" cy="421.50" r="0.57" fill="#e8e0d0" opacity="0.8"/>
<circle cx="378.23" cy="402.48" r="0.35" fill="#e8e0d0" opacity="0.8"/>
<circle cx="383.67" cy="400.08" r="0.44" fill="#e8e0d0" opacity="0.8"/>
<circle cx="381.42" cy="411.40" r="0.83" fill="#e8e0d0" opacity="0.8"/>
<circle cx="394.63" cy="407.69" r="0.55" fill="#e8e0d0" opacity="0.8"/>
<circle cx="388.57" cy="406.84" r="0.50" fill="#e8e0d0" opacity="0.8"/>
<circle cx="376.15" cy="404.49" r="0.88" fill="#e8e0d0" opacity="0.8"/>
<circle cx="377.86" cy="409.84" r="0.68" fill="#e8e0d0" opacity="0.8"/>
<circle cx="397.67" cy="403.04" r="0.46" fill="#e8e0d0" opacity="0.8"/>
<circle cx="381.16" cy="407.38" r="0.57" fill="#e8e0d0" opacity="0.8"/>
<circle cx="400.12" cy="418.00" r="0.82" fill="#e8e0d0" opacity="0.8"/>
<circle cx="375.07" cy="398.69" r="0.73" fill="#e8e0d0" opacity="0.8"/>
<circle cx="398.56" cy="409.12" r="0.65" fill="#e8e0d0" opacity="0.8"/>
<circle cx="374.48" cy="407.19" r="0.86" fill="#e8e0d0" opacity="0.8"/>
<circle cx="396.67" cy="418.16" r="0.88" fill="#e8e0d0" opacity="0.8"/>
<circle cx="381.16" cy="400.51" r="0.39" fill="#e8e0d0" opacity="0.8"/>
<circle cx="388.52" cy="414.06" r="0.86" fill="#e8e0d0" opacity="0.8"/>
<circle cx="393.88" cy="413.24" r="0.76" fill="#e8e0d0" opacity="0.8"/>
</g>
<rect x="370.00" y="393.20" width="44.80" height="47.30" filter="url(#grain)" opacity="0.35"/>
</g>
<text x="340.40" y="32.80" font-size="6.2" textLength="38.60" lengthAdjust="spacingAndGlyphs" fill="#111">WT non-moLC</text>
<text x="393.90" y="32.80" font-size="6.2" textLength="25.20" lengthAdjust="spacingAndGlyphs" fill="#111">WT moLC</text>
<text x="340.50" y="91.90" font-size="6.2" textLength="36.00" lengthAdjust="spacingAndGlyphs" fill="#111">KO non-moLC</text>
<text x="394.55" y="91.90" font-size="6.2" textLength="24.30" lengthAdjust="spacingAndGlyphs" fill="#111">KO moLC</text>
<text x="324.55" y="329.10" font-size="6.2" textLength="35.70" lengthAdjust="spacingAndGlyphs" fill="#111">HTR2A<tspan font-size="3.8" dy="-2">fl/fl</tspan><tspan dy="2"> Vas</tspan></text>
<text x="373.80" y="329.10" font-size="6.2" textLength="38.40" lengthAdjust="spacingAndGlyphs" fill="#111">HTR2A<tspan font-size="3.8" dy="-2">fl/fl</tspan><tspan dy="2"> IMQ</tspan></text>
<text x="320.70" y="389.50" font-size="6.2" textLength="40.80" lengthAdjust="spacingAndGlyphs" fill="#111">HTR2A<tspan font-size="3.8" dy="-2">Ms4a3</tspan><tspan dy="2"> Vas</tspan></text>
<text x="367.80" y="389.50" font-size="6.2" textLength="44.00" lengthAdjust="spacingAndGlyphs" fill="#111">HTR2A<tspan font-size="3.8" dy="-2">Ms4a3</tspan><tspan dy="2"> IMQ</tspan></text>
<rect x="450.50" y="34.80" width="65.20" height="48.50" fill="#fbf8fb"/>
<g clip-path="url(#cp9)">
<path d="M450.50,46.83 L452.13,46.76 L453.76,46.59 L455.39,46.34 L457.02,46.10 L458.65,45.92 L460.28,45.86 L461.91,46.02 L463.54,46.46 L465.17,47.07 L466.80,47.68 L468.43,48.12 L470.06,48.28 L471.69,48.19 L473.32,47.93 L474.95,47.53 L476.58,47.07 L478.21,46.61 L479.84,46.21 L481.47,45.95 L483.10,45.86 L484.73,45.77 L486.36,45.50 L487.99,45.11 L489.62,44.65 L491.25,44.18 L492.88,43.79 L494.51,43.53 L496.14,43.43 L497.77,43.66 L499.40,44.28 L501.03,45.13 L502.66,45.98 L504.29,46.60 L505.92,46.83 L507.55,46.76 L509.18,46.59 L510.81,46.34 L512.44,46.10 L514.07,45.92 L515.70,45.86 L515.70,74.67 L514.07,74.74 L512.44,74.95 L510.81,75.27 L509.18,75.64 L507.55,76.01 L505.92,76.32 L504.29,76.53 L502.66,76.61 L501.03,76.53 L499.40,76.32 L497.77,76.01 L496.14,75.64 L494.51,75.27 L492.88,74.95 L491.25,74.74 L489.62,74.67 L487.99,74.78 L486.36,75.09 L484.73,75.57 L483.10,76.12 L481.47,76.68 L479.84,77.15 L478.21,77.47 L476.58,77.58 L474.95,77.47 L473.32,77.15 L471.69,76.68 L470.06,76.12 L468.43,75.57 L466.80,75.09 L465.17,74.78 L463.54,74.67 L461.91,74.63 L460.28,74.52 L458.65,74.37 L457.02,74.18 L455.39,74.00 L453.76,73.84 L452.13,73.73 L450.50,73.70Z" fill="#eeaacb" filter="url(#b05)"/>
<g clip-path="url(#cp9b)"><rect x="450.50" y="34.80" width="65.20" height="48.50" filter="url(#texE)"/></g>
<g clip-path="url(#cp9d)"><rect x="450.50" y="34.80" width="65.20" height="48.50" filter="url(#texD)"/></g>
<polyline points="450.50,59.53 452.13,59.52 453.76,59.48 455.39,59.44 457.02,59.41 458.65,59.42 460.28,59.46 461.91,59.60 463.54,59.84 465.17,60.20 466.80,60.66 468.43,61.12 470.06,61.47 471.69,61.71 473.32,61.81 474.95,61.77 476.58,61.60 478.21,61.31 479.84,60.95 481.47,60.59 483.10,60.26 484.73,59.94 486.36,59.57 487.99,59.22 489.62,58.93 491.25,58.73 492.88,58.64 494.51,58.67 496.14,58.81 497.77,59.11 499.40,59.57 501.03,60.10 502.66,60.57 504.29,60.84 505.92,60.85 507.55,60.66 509.18,60.38 510.81,60.08 512.44,59.80 514.07,59.60 515.70,59.53" fill="none" stroke="#f7eef7" stroke-width="1.0" opacity="0.8"/>
<circle cx="480.32" cy="80.59" r="0.4" fill="#e9a0c0"/>
<circle cx="453.08" cy="81.49" r="0.4" fill="#e9a0c0"/>
<circle cx="465.66" cy="82.02" r="0.4" fill="#e9a0c0"/>
<circle cx="492.59" cy="79.63" r="0.4" fill="#e9a0c0"/>
<circle cx="458.84" cy="79.43" r="0.4" fill="#e9a0c0"/>
<circle cx="491.99" cy="81.16" r="0.4" fill="#e9a0c0"/>
</g>
<rect x="450.50" y="34.80" width="65.20" height="48.50" fill="none" stroke="#8c8c8c" stroke-width="0.6"/>
<line x1="451.50" y1="36.40" x2="457.50" y2="36.40" stroke="#111" stroke-width="1.2"/>
<text x="452.90" y="43.00" font-size="4.5" text-anchor="start" fill="#222">100μm</text>
<rect x="519.30" y="34.80" width="65.20" height="48.50" fill="#fbf8fb"/>
<g clip-path="url(#cp10)">
<path d="M519.30,43.43 L520.93,43.34 L522.56,43.08 L524.19,42.68 L525.82,42.22 L527.45,41.76 L529.08,41.36 L530.71,41.10 L532.34,41.01 L533.97,40.95 L535.60,40.79 L537.23,40.56 L538.86,40.28 L540.49,40.00 L542.12,39.77 L543.75,39.61 L545.38,39.55 L547.01,39.48 L548.64,39.27 L550.27,38.95 L551.90,38.58 L553.53,38.21 L555.16,37.90 L556.79,37.69 L558.42,37.61 L560.05,37.65 L561.68,37.76 L563.31,37.91 L564.94,38.10 L566.57,38.28 L568.20,38.44 L569.83,38.55 L571.46,38.58 L573.09,38.77 L574.72,39.29 L576.35,40.08 L577.98,41.01 L579.61,41.94 L581.24,42.72 L582.87,43.25 L584.50,43.43 L584.50,85.34 L582.87,85.21 L581.24,84.85 L579.61,84.37 L577.98,83.88 L576.35,83.53 L574.72,83.40 L573.09,83.14 L571.46,82.43 L569.83,81.46 L568.20,80.49 L566.57,79.78 L564.94,79.52 L563.31,79.24 L561.68,78.45 L560.05,77.27 L558.42,75.88 L556.79,74.49 L555.16,73.31 L553.53,72.52 L551.90,72.24 L550.27,72.19 L548.64,72.03 L547.01,71.79 L545.38,71.51 L543.75,71.24 L542.12,71.00 L540.49,70.84 L538.86,70.79 L537.23,71.36 L535.60,72.73 L533.97,74.10 L532.34,74.67 L530.71,74.63 L529.08,74.52 L527.45,74.37 L525.82,74.18 L524.19,74.00 L522.56,73.84 L520.93,73.73 L519.30,73.70Z" fill="#eeaacb" filter="url(#b05)"/>
<g clip-path="url(#cp10b)"><rect x="519.30" y="34.80" width="65.20" height="48.50" filter="url(#texE)"/></g>
<g clip-path="url(#cp10d)"><rect x="519.30" y="34.80" width="65.20" height="48.50" filter="url(#texD)"/></g>
<polyline points="519.30,57.59 520.93,57.57 522.56,57.49 524.19,57.37 525.82,57.23 527.45,57.09 529.08,56.97 530.71,56.90 532.34,56.87 533.97,56.56 535.60,55.79 537.23,54.99 538.86,54.56 540.49,54.45 542.12,54.41 543.75,54.45 545.38,54.56 547.01,54.67 548.64,54.68 550.27,54.60 551.90,54.44 553.53,54.40 555.16,54.63 556.79,55.12 558.42,55.78 560.05,56.49 561.68,57.13 563.31,57.61 564.94,57.84 566.57,58.06 568.20,58.49 569.83,59.03 571.46,59.54 573.09,59.98 574.72,60.38 576.35,60.83 577.98,61.47 579.61,62.18 581.24,62.82 582.87,63.26 584.50,63.41" fill="none" stroke="#f7eef7" stroke-width="1.0" opacity="0.8"/>
<circle cx="526.61" cy="78.72" r="0.4" fill="#e9a0c0"/>
<circle cx="553.49" cy="80.71" r="0.4" fill="#e9a0c0"/>
<circle cx="544.60" cy="79.32" r="0.4" fill="#e9a0c0"/>
<circle cx="558.49" cy="78.49" r="0.4" fill="#e9a0c0"/>
<circle cx="538.96" cy="80.24" r="0.4" fill="#e9a0c0"/>
<circle cx="581.82" cy="80.95" r="0.4" fill="#e9a0c0"/>
</g>
<rect x="519.30" y="34.80" width="65.20" height="48.50" fill="none" stroke="#8c8c8c" stroke-width="0.6"/>
<line x1="520.30" y1="36.40" x2="526.30" y2="36.40" stroke="#111" stroke-width="1.2"/>
<rect x="450.50" y="94.30" width="65.20" height="48.20" fill="#fbf8fb"/>
<g clip-path="url(#cp11)">
<path d="M450.50,106.74 L452.13,106.70 L453.76,106.61 L455.39,106.45 L457.02,106.25 L458.65,106.02 L460.28,105.77 L461.91,105.52 L463.54,105.29 L465.17,105.09 L466.80,104.94 L468.43,104.84 L470.06,104.81 L471.69,104.79 L473.32,104.74 L474.95,104.67 L476.58,104.57 L478.21,104.45 L479.84,104.33 L481.47,104.20 L483.10,104.08 L484.73,103.98 L486.36,103.91 L487.99,103.86 L489.62,103.84 L491.25,103.81 L492.88,103.70 L494.51,103.55 L496.14,103.36 L497.77,103.18 L499.40,103.02 L501.03,102.92 L502.66,102.88 L504.29,102.84 L505.92,102.74 L507.55,102.58 L509.18,102.40 L510.81,102.21 L512.44,102.06 L514.07,101.95 L515.70,101.92 L515.70,132.47 L514.07,132.50 L512.44,132.58 L510.81,132.72 L509.18,132.90 L507.55,133.12 L505.92,133.37 L504.29,133.64 L502.66,133.92 L501.03,134.20 L499.40,134.47 L497.77,134.72 L496.14,134.94 L494.51,135.12 L492.88,135.26 L491.25,135.34 L489.62,135.37 L487.99,135.39 L486.36,135.46 L484.73,135.58 L483.10,135.73 L481.47,135.90 L479.84,136.09 L478.21,136.28 L476.58,136.45 L474.95,136.60 L473.32,136.72 L471.69,136.79 L470.06,136.81 L468.43,136.85 L466.80,136.94 L465.17,137.09 L463.54,137.29 L461.91,137.53 L460.28,137.78 L458.65,138.03 L457.02,138.26 L455.39,138.46 L453.76,138.61 L452.13,138.71 L450.50,138.74Z" fill="#eeaacb" filter="url(#b05)"/>
<g clip-path="url(#cp11b)"><rect x="450.50" y="94.30" width="65.20" height="48.20" filter="url(#texE)"/></g>
<g clip-path="url(#cp11d)"><rect x="450.50" y="94.30" width="65.20" height="48.20" filter="url(#texD)"/></g>
<polyline points="450.50,122.26 452.13,122.22 453.76,122.13 455.39,121.97 457.02,121.77 458.65,121.54 460.28,121.29 461.91,121.04 463.54,120.81 465.17,120.61 466.80,120.46 468.43,120.36 470.06,120.33 471.69,120.31 473.32,120.25 474.95,120.15 476.58,120.03 478.21,119.88 479.84,119.73 481.47,119.57 483.10,119.42 484.73,119.30 486.36,119.20 487.99,119.14 489.62,119.12 491.25,119.09 492.88,119.00 494.51,118.85 496.14,118.67 497.77,118.47 499.40,118.27 501.03,118.08 502.66,117.92 504.29,117.76 505.92,117.57 507.55,117.37 509.18,117.17 510.81,116.98 512.44,116.84 514.07,116.75 515.70,116.71" fill="none" stroke="#f7eef7" stroke-width="1.0" opacity="0.8"/>
<circle cx="508.12" cy="139.51" r="0.4" fill="#e9a0c0"/>
<circle cx="465.81" cy="138.63" r="0.4" fill="#e9a0c0"/>
<circle cx="513.13" cy="140.40" r="0.4" fill="#e9a0c0"/>
<circle cx="470.54" cy="137.76" r="0.4" fill="#e9a0c0"/>
<circle cx="482.99" cy="140.28" r="0.4" fill="#e9a0c0"/>
<circle cx="477.89" cy="138.67" r="0.4" fill="#e9a0c0"/>
</g>
<rect x="450.50" y="94.30" width="65.20" height="48.20" fill="none" stroke="#8c8c8c" stroke-width="0.6"/>
<line x1="451.50" y1="95.90" x2="457.50" y2="95.90" stroke="#111" stroke-width="1.2"/>
<rect x="519.30" y="94.30" width="65.20" height="48.20" fill="#fbf8fb"/>
<g clip-path="url(#cp12)">
<path d="M519.30,100.47 L520.93,100.30 L522.56,99.83 L524.19,99.13 L525.82,98.30 L527.45,97.47 L529.08,96.77 L530.71,96.30 L532.34,96.13 L533.97,96.11 L535.60,96.03 L537.23,95.92 L538.86,95.77 L540.49,95.60 L542.12,95.41 L543.75,95.22 L545.38,95.05 L547.01,94.90 L548.64,94.78 L550.27,94.71 L551.90,94.69 L553.53,94.73 L555.16,94.85 L556.79,95.04 L558.42,95.29 L560.05,95.58 L561.68,95.89 L563.31,96.20 L564.94,96.49 L566.57,96.74 L568.20,96.93 L569.83,97.05 L571.46,97.10 L573.09,97.22 L574.72,97.59 L576.35,98.14 L577.98,98.78 L579.61,99.43 L581.24,99.98 L582.87,100.34 L584.50,100.47 L584.50,139.70 L582.87,139.72 L581.24,139.78 L579.61,139.87 L577.98,139.99 L576.35,140.13 L574.72,140.30 L573.09,140.48 L571.46,140.67 L569.83,140.86 L568.20,141.04 L566.57,141.20 L564.94,141.35 L563.31,141.47 L561.68,141.56 L560.05,141.61 L558.42,141.63 L556.79,141.61 L555.16,141.54 L553.53,141.42 L551.90,141.27 L550.27,141.10 L548.64,140.91 L547.01,140.72 L545.38,140.55 L543.75,140.40 L542.12,140.28 L540.49,140.21 L538.86,140.19 L537.23,140.21 L535.60,140.28 L533.97,140.40 L532.34,140.55 L530.71,140.72 L529.08,140.91 L527.45,141.10 L525.82,141.27 L524.19,141.42 L522.56,141.54 L520.93,141.61 L519.30,141.63Z" fill="#eeaacb" filter="url(#b05)"/>
<g clip-path="url(#cp12b)"><rect x="519.30" y="94.30" width="65.20" height="48.20" filter="url(#texE)"/></g>
<g clip-path="url(#cp12d)"><rect x="519.30" y="94.30" width="65.20" height="48.20" filter="url(#texD)"/></g>
<polyline points="519.30,121.53 520.93,121.44 522.56,121.17 524.19,120.76 525.82,120.27 527.45,119.77 529.08,119.32 530.71,118.99 532.34,118.82 533.97,118.73 535.60,118.64 537.23,118.55 538.86,118.46 540.49,118.39 542.12,118.33 543.75,118.29 545.38,118.28 547.01,118.29 548.64,118.33 550.27,118.39 551.90,118.46 553.53,118.56 555.16,118.67 556.79,118.81 558.42,118.94 560.05,119.08 561.68,119.21 563.31,119.32 564.94,119.40 566.57,119.46 568.20,119.47 569.83,119.44 571.46,119.36 573.09,119.33 574.72,119.43 576.35,119.62 577.98,119.87 579.61,120.13 581.24,120.36 582.87,120.51 584.50,120.57" fill="none" stroke="#f7eef7" stroke-width="1.0" opacity="0.8"/>
<circle cx="562.81" cy="141.25" r="0.4" fill="#e9a0c0"/>
<circle cx="534.09" cy="137.81" r="0.4" fill="#e9a0c0"/>
<circle cx="541.34" cy="139.30" r="0.4" fill="#e9a0c0"/>
<circle cx="563.80" cy="138.44" r="0.4" fill="#e9a0c0"/>
<circle cx="571.27" cy="140.53" r="0.4" fill="#e9a0c0"/>
<circle cx="552.22" cy="138.47" r="0.4" fill="#e9a0c0"/>
</g>
<rect x="519.30" y="94.30" width="65.20" height="48.20" fill="none" stroke="#8c8c8c" stroke-width="0.6"/>
<line x1="520.30" y1="95.90" x2="526.30" y2="95.90" stroke="#111" stroke-width="1.2"/>
<rect x="434.00" y="332.50" width="65.70" height="48.30" fill="#fbf8fb"/>
<g clip-path="url(#cp13)">
<path d="M434.00,341.10 L435.64,341.11 L437.29,341.14 L438.93,341.20 L440.57,341.26 L442.21,341.34 L443.86,341.41 L445.50,341.48 L447.14,341.53 L448.78,341.57 L450.43,341.58 L452.07,341.70 L453.71,342.04 L455.35,342.58 L457.00,343.25 L458.64,344.00 L460.28,344.74 L461.92,345.41 L463.56,345.95 L465.21,346.29 L466.85,346.41 L468.49,346.29 L470.13,345.95 L471.78,345.41 L473.42,344.74 L475.06,344.00 L476.70,343.25 L478.35,342.58 L479.99,342.04 L481.63,341.70 L483.27,341.58 L484.92,341.54 L486.56,341.44 L488.20,341.28 L489.85,341.08 L491.49,340.86 L493.13,340.63 L494.77,340.43 L496.42,340.27 L498.06,340.17 L499.70,340.13 L499.70,358.68 L498.06,358.73 L496.42,358.86 L494.77,359.08 L493.13,359.35 L491.49,359.64 L489.85,359.94 L488.20,360.21 L486.56,360.43 L484.92,360.56 L483.27,360.61 L481.63,360.71 L479.99,360.98 L478.35,361.41 L476.70,361.95 L475.06,362.54 L473.42,363.14 L471.78,363.68 L470.13,364.11 L468.49,364.38 L466.85,364.47 L465.21,364.39 L463.56,364.15 L461.92,363.78 L460.28,363.31 L458.64,362.78 L457.00,362.26 L455.35,361.79 L453.71,361.42 L452.07,361.18 L450.43,361.09 L448.78,361.08 L447.14,361.05 L445.50,360.99 L443.86,360.93 L442.21,360.85 L440.57,360.78 L438.93,360.71 L437.29,360.66 L435.64,360.62 L434.00,360.61Z" fill="#eeaacb" filter="url(#b05)"/>
<g clip-path="url(#cp13b)"><rect x="434.00" y="332.50" width="65.70" height="48.30" filter="url(#texE)"/></g>
<g clip-path="url(#cp13d)"><rect x="434.00" y="332.50" width="65.70" height="48.30" filter="url(#texD)"/></g>
<polyline points="434.00,350.37 435.64,350.38 437.29,350.42 438.93,350.47 440.57,350.54 442.21,350.61 443.86,350.69 445.50,350.75 447.14,350.81 448.78,350.84 450.43,350.85 452.07,350.95 453.71,351.25 455.35,351.70 457.00,352.27 458.64,352.91 460.28,353.54 461.92,354.11 463.56,354.57 465.21,354.86 466.85,354.96 468.49,354.85 470.13,354.54 471.78,354.06 473.42,353.46 475.06,352.79 476.70,352.11 478.35,351.51 479.99,351.03 481.63,350.72 483.27,350.61 484.92,350.57 486.56,350.45 488.20,350.26 489.85,350.03 491.49,349.77 493.13,349.51 494.77,349.27 496.42,349.08 498.06,348.96 499.70,348.92" fill="none" stroke="#f7eef7" stroke-width="1.0" opacity="0.8"/>
<circle cx="497.72" cy="377.17" r="0.4" fill="#e9a0c0"/>
<circle cx="487.87" cy="376.86" r="0.4" fill="#e9a0c0"/>
<circle cx="448.55" cy="378.91" r="0.4" fill="#e9a0c0"/>
<circle cx="453.38" cy="379.65" r="0.4" fill="#e9a0c0"/>
<circle cx="466.57" cy="376.69" r="0.4" fill="#e9a0c0"/>
<circle cx="448.67" cy="377.58" r="0.4" fill="#e9a0c0"/>
</g>
<rect x="434.00" y="332.50" width="65.70" height="48.30" fill="none" stroke="#8c8c8c" stroke-width="0.6"/>
<line x1="435.00" y1="334.10" x2="441.00" y2="334.10" stroke="#111" stroke-width="1.2"/>
<text x="436.40" y="340.70" font-size="4.5" text-anchor="start" fill="#222">100μm</text>
<rect x="502.40" y="332.50" width="64.90" height="48.30" fill="#fbf8fb"/>
<g clip-path="url(#cp14)">
<path d="M502.40,336.27 L504.02,336.25 L505.64,336.20 L507.27,336.13 L508.89,336.03 L510.51,335.91 L512.13,335.78 L513.76,335.66 L515.38,335.54 L517.00,335.44 L518.62,335.37 L520.25,335.32 L521.87,335.30 L523.49,335.28 L525.12,335.24 L526.74,335.16 L528.36,335.06 L529.98,334.94 L531.61,334.82 L533.23,334.69 L534.85,334.58 L536.47,334.48 L538.10,334.40 L539.72,334.35 L541.34,334.34 L542.96,334.32 L544.59,334.28 L546.21,334.21 L547.83,334.12 L549.45,334.01 L551.07,333.89 L552.70,333.75 L554.32,333.61 L555.94,333.47 L557.56,333.33 L559.19,333.21 L560.81,333.10 L562.43,333.01 L564.05,332.94 L565.68,332.90 L567.30,332.89 L567.30,370.27 L565.68,370.29 L564.05,370.34 L562.43,370.43 L560.81,370.55 L559.19,370.70 L557.56,370.87 L555.94,371.05 L554.32,371.24 L552.70,371.43 L551.07,371.61 L549.45,371.77 L547.83,371.92 L546.21,372.04 L544.59,372.13 L542.96,372.18 L541.34,372.20 L539.72,372.24 L538.10,372.36 L536.47,372.56 L534.85,372.81 L533.23,373.10 L531.61,373.41 L529.98,373.72 L528.36,374.01 L526.74,374.26 L525.12,374.46 L523.49,374.58 L521.87,374.62 L520.25,374.60 L518.62,374.55 L517.00,374.48 L515.38,374.38 L513.76,374.26 L512.13,374.13 L510.51,374.01 L508.89,373.89 L507.27,373.79 L505.64,373.72 L504.02,373.67 L502.40,373.65Z" fill="#eeaacb" filter="url(#b05)"/>
<g clip-path="url(#cp14b)"><rect x="502.40" y="332.50" width="64.90" height="48.30" filter="url(#texE)"/></g>
<g clip-path="url(#cp14d)"><rect x="502.40" y="332.50" width="64.90" height="48.30" filter="url(#texD)"/></g>
<polyline points="502.40,355.20 504.02,355.20 505.64,355.20 507.27,355.20 508.89,355.20 510.51,355.20 512.13,355.20 513.76,355.20 515.38,355.20 517.00,355.20 518.62,355.20 520.25,355.20 521.87,355.20 523.49,355.17 525.12,355.09 526.74,354.95 528.36,354.78 529.98,354.57 531.61,354.36 533.23,354.14 534.85,353.93 536.47,353.76 538.10,353.62 539.72,353.54 541.34,353.51 542.96,353.49 544.59,353.45 546.21,353.37 547.83,353.26 549.45,353.13 551.07,352.99 552.70,352.83 554.32,352.67 555.94,352.50 557.56,352.34 559.19,352.20 560.81,352.07 562.43,351.96 564.05,351.88 565.68,351.84 567.30,351.82" fill="none" stroke="#f7eef7" stroke-width="1.0" opacity="0.8"/>
<circle cx="545.58" cy="379.64" r="0.4" fill="#e9a0c0"/>
<circle cx="511.90" cy="377.49" r="0.4" fill="#e9a0c0"/>
<circle cx="516.22" cy="379.73" r="0.4" fill="#e9a0c0"/>
<circle cx="511.61" cy="376.17" r="0.4" fill="#e9a0c0"/>
<circle cx="506.30" cy="377.49" r="0.4" fill="#e9a0c0"/>
<circle cx="560.69" cy="379.38" r="0.4" fill="#e9a0c0"/>
</g>
<rect x="502.40" y="332.50" width="64.90" height="48.30" fill="none" stroke="#8c8c8c" stroke-width="0.6"/>
<line x1="503.40" y1="334.10" x2="509.40" y2="334.10" stroke="#111" stroke-width="1.2"/>
<rect x="434.00" y="392.40" width="65.70" height="48.30" fill="#fbf8fb"/>
<g clip-path="url(#cp15)">
<path d="M434.00,411.62 L435.64,411.61 L437.29,411.56 L438.93,411.48 L440.57,411.38 L442.21,411.27 L443.86,411.14 L445.50,411.02 L447.14,410.90 L448.78,410.80 L450.43,410.72 L452.07,410.67 L453.71,410.66 L455.35,410.62 L457.00,410.50 L458.64,410.30 L460.28,410.05 L461.92,409.76 L463.56,409.45 L465.21,409.14 L466.85,408.85 L468.49,408.60 L470.13,408.40 L471.78,408.28 L473.42,408.24 L475.06,408.22 L476.70,408.15 L478.35,408.04 L479.99,407.89 L481.63,407.71 L483.27,407.50 L484.92,407.27 L486.56,407.03 L488.20,406.80 L489.85,406.57 L491.49,406.36 L493.13,406.18 L494.77,406.03 L496.42,405.92 L498.06,405.85 L499.70,405.83 L499.70,432.10 L498.06,432.14 L496.42,432.23 L494.77,432.39 L493.13,432.59 L491.49,432.82 L489.85,433.07 L488.20,433.32 L486.56,433.55 L484.92,433.75 L483.27,433.91 L481.63,434.00 L479.99,434.03 L478.35,434.06 L476.70,434.13 L475.06,434.25 L473.42,434.40 L471.78,434.57 L470.13,434.76 L468.49,434.95 L466.85,435.12 L465.21,435.27 L463.56,435.39 L461.92,435.46 L460.28,435.48 L458.64,435.51 L457.00,435.58 L455.35,435.69 L453.71,435.84 L452.07,436.02 L450.43,436.23 L448.78,436.46 L447.14,436.69 L445.50,436.93 L443.86,437.15 L442.21,437.36 L440.57,437.54 L438.93,437.70 L437.29,437.81 L435.64,437.88 L434.00,437.90Z" fill="#eeaacb" filter="url(#b05)"/>
<g clip-path="url(#cp15b)"><rect x="434.00" y="392.40" width="65.70" height="48.30" filter="url(#texE)"/></g>
<g clip-path="url(#cp15d)"><rect x="434.00" y="392.40" width="65.70" height="48.30" filter="url(#texD)"/></g>
<polyline points="434.00,424.52 435.64,424.50 437.29,424.44 438.93,424.35 440.57,424.22 442.21,424.07 443.86,423.91 445.50,423.73 447.14,423.55 448.78,423.39 450.43,423.23 452.07,423.11 453.71,423.01 455.35,422.91 457.00,422.79 458.64,422.66 460.28,422.53 461.92,422.37 463.56,422.18 465.21,421.96 466.85,421.74 468.49,421.53 470.13,421.34 471.78,421.19 473.42,421.08 475.06,420.99 476.70,420.90 478.35,420.81 479.99,420.72 481.63,420.61 483.27,420.46 484.92,420.27 486.56,420.05 488.20,419.82 489.85,419.58 491.49,419.35 493.13,419.14 494.77,418.97 496.42,418.83 498.06,418.75 499.70,418.72" fill="none" stroke="#f7eef7" stroke-width="1.0" opacity="0.8"/>
<circle cx="482.14" cy="439.72" r="0.4" fill="#e9a0c0"/>
<circle cx="495.21" cy="437.14" r="0.4" fill="#e9a0c0"/>
<circle cx="446.19" cy="439.49" r="0.4" fill="#e9a0c0"/>
<circle cx="483.03" cy="435.99" r="0.4" fill="#e9a0c0"/>
<circle cx="477.65" cy="437.33" r="0.4" fill="#e9a0c0"/>
<circle cx="458.56" cy="437.15" r="0.4" fill="#e9a0c0"/>
</g>
<rect x="434.00" y="392.40" width="65.70" height="48.30" fill="none" stroke="#8c8c8c" stroke-width="0.6"/>
<line x1="435.00" y1="394.00" x2="441.00" y2="394.00" stroke="#111" stroke-width="1.2"/>
<rect x="502.40" y="392.40" width="64.90" height="48.30" fill="#fbf8fb"/>
<g clip-path="url(#cp16)">
<path d="M502.40,396.17 L504.02,396.15 L505.64,396.09 L507.27,396.00 L508.89,395.88 L510.51,395.74 L512.13,395.57 L513.76,395.39 L515.38,395.20 L517.00,395.01 L518.62,394.83 L520.25,394.66 L521.87,394.52 L523.49,394.40 L525.12,394.31 L526.74,394.25 L528.36,394.24 L529.98,394.22 L531.61,394.17 L533.23,394.09 L534.85,393.99 L536.47,393.88 L538.10,393.75 L539.72,393.63 L541.34,393.51 L542.96,393.41 L544.59,393.33 L546.21,393.29 L547.83,393.27 L549.45,393.26 L551.07,393.24 L552.70,393.20 L554.32,393.15 L555.94,393.09 L557.56,393.03 L559.19,392.97 L560.81,392.91 L562.43,392.86 L564.05,392.82 L565.68,392.79 L567.30,392.79 L567.30,427.27 L565.68,427.31 L564.05,427.42 L562.43,427.60 L560.81,427.84 L559.19,428.13 L557.56,428.47 L555.94,428.83 L554.32,429.20 L552.70,429.58 L551.07,429.94 L549.45,430.28 L547.83,430.57 L546.21,430.81 L544.59,430.99 L542.96,431.10 L541.34,431.14 L539.72,431.20 L538.10,431.40 L536.47,431.70 L534.85,432.10 L533.23,432.57 L531.61,433.07 L529.98,433.57 L528.36,434.03 L526.74,434.43 L525.12,434.74 L523.49,434.93 L521.87,435.00 L520.25,435.00 L518.62,435.00 L517.00,435.00 L515.38,435.00 L513.76,435.00 L512.13,435.00 L510.51,435.00 L508.89,435.00 L507.27,435.00 L505.64,435.00 L504.02,435.00 L502.40,435.00Z" fill="#eeaacb" filter="url(#b05)"/>
<g clip-path="url(#cp16b)"><rect x="502.40" y="392.40" width="64.90" height="48.30" filter="url(#texE)"/></g>
<g clip-path="url(#cp16d)"><rect x="502.40" y="392.40" width="64.90" height="48.30" filter="url(#texD)"/></g>
<polyline points="502.40,417.03 504.02,417.02 505.64,417.00 507.27,416.95 508.89,416.89 510.51,416.82 512.13,416.73 513.76,416.64 515.38,416.55 517.00,416.46 518.62,416.37 520.25,416.28 521.87,416.21 523.49,416.12 525.12,415.97 526.74,415.79 528.36,415.58 529.98,415.34 531.61,415.07 533.23,414.78 534.85,414.50 536.47,414.24 538.10,414.02 539.72,413.86 541.34,413.77 542.96,413.70 544.59,413.61 546.21,413.50 547.83,413.37 549.45,413.22 551.07,413.04 552.70,412.84 554.32,412.63 555.94,412.41 557.56,412.20 559.19,412.00 560.81,411.82 562.43,411.68 564.05,411.57 565.68,411.50 567.30,411.48" fill="none" stroke="#f7eef7" stroke-width="1.0" opacity="0.8"/>
<circle cx="513.39" cy="435.88" r="0.4" fill="#e9a0c0"/>
<circle cx="520.56" cy="437.23" r="0.4" fill="#e9a0c0"/>
<circle cx="564.41" cy="436.35" r="0.4" fill="#e9a0c0"/>
<circle cx="564.98" cy="436.67" r="0.4" fill="#e9a0c0"/>
<circle cx="525.55" cy="439.04" r="0.4" fill="#e9a0c0"/>
<circle cx="555.75" cy="437.54" r="0.4" fill="#e9a0c0"/>
</g>
<rect x="502.40" y="392.40" width="64.90" height="48.30" fill="none" stroke="#8c8c8c" stroke-width="0.6"/>
<line x1="503.40" y1="394.00" x2="509.40" y2="394.00" stroke="#111" stroke-width="1.2"/>
<text x="465.85" y="33.00" font-size="6.2" textLength="38.30" lengthAdjust="spacingAndGlyphs" fill="#111">WT non-moLC</text>
<text x="540.95" y="33.00" font-size="6.2" textLength="26.50" lengthAdjust="spacingAndGlyphs" fill="#111">WT moLC</text>
<text x="466.80" y="91.90" font-size="6.2" textLength="37.20" lengthAdjust="spacingAndGlyphs" fill="#111">KO non-moLC</text>
<text x="544.15" y="91.90" font-size="6.2" textLength="24.70" lengthAdjust="spacingAndGlyphs" fill="#111">KO moLC</text>
<text x="451.75" y="329.10" font-size="6.2" textLength="34.90" lengthAdjust="spacingAndGlyphs" fill="#111">HTR2A<tspan font-size="3.8" dy="-2">fl/fl</tspan><tspan dy="2"> Vas</tspan></text>
<text x="519.75" y="329.10" font-size="6.2" textLength="38.50" lengthAdjust="spacingAndGlyphs" fill="#111">HTR2A<tspan font-size="3.8" dy="-2">fl/fl</tspan><tspan dy="2"> IMQ</tspan></text>
<text x="445.40" y="389.50" font-size="6.2" textLength="40.80" lengthAdjust="spacingAndGlyphs" fill="#111">HTR2A<tspan font-size="3.8" dy="-2">Ms4a3</tspan><tspan dy="2"> Vas</tspan></text>
<text x="512.80" y="389.50" font-size="6.2" textLength="44.00" lengthAdjust="spacingAndGlyphs" fill="#111">HTR2A<tspan font-size="3.8" dy="-2">Ms4a3</tspan><tspan dy="2"> IMQ</tspan></text>
<line x1="14.50" y1="55.50" x2="15.20" y2="69.00" stroke="#c0604c" stroke-width="1.6"/>
<path d="M12.50,56.50 Q12.20,53.00 14.50,54.00 Q16.00,51.70 17.40,53.00 Q17.80,55.00 16.00,57.00 Q15.50,59.50 15.20,60.50 L13.80,60.50 Q13.50,58.50 12.50,56.50Z" fill="#d9ad82"/>
<ellipse cx="15.20" cy="69.00" rx="1.3" ry="0.8" fill="#d9ad82"/>
<line x1="14.50" y1="84.50" x2="15.20" y2="97.50" stroke="#c0604c" stroke-width="1.6"/>
<path d="M12.50,85.50 Q12.20,82.00 14.50,83.00 Q16.00,80.70 17.40,82.00 Q17.80,84.00 16.00,86.00 Q15.50,88.50 15.20,89.50 L13.80,89.50 Q13.50,87.50 12.50,85.50Z" fill="#d9ad82"/>
<ellipse cx="15.20" cy="97.50" rx="1.3" ry="0.8" fill="#d9ad82"/>
<text x="13.60" y="44.00" font-size="5.0" text-anchor="middle" fill="#333">WT</text>
<text x="14.40" y="49.30" font-size="4.7" text-anchor="middle" fill="#333">bone marrow</text>
<text x="37.80" y="89.40" font-size="4.9" text-anchor="start" fill="#333">GM-CSF</text>
<text x="37.80" y="94.80" font-size="4.9" text-anchor="start" fill="#333">TGF-β</text>
<text x="37.80" y="100.00" font-size="4.9" text-anchor="start" fill="#333">IL-34</text>
<text x="16.40" y="103.20" font-size="5.0" text-anchor="middle" fill="#333">HTR2A-/-</text>
<text x="16.40" y="109.20" font-size="4.7" text-anchor="middle" fill="#333">bone marrow</text>
<line x1="22.80" y1="63.50" x2="29.98" y2="68.37" stroke="#222" stroke-width="0.8"/>
<path d="M31.80,69.60 L30.60,67.46 L29.36,69.28Z" fill="#222"/>
<line x1="24.00" y1="88.60" x2="30.93" y2="83.50" stroke="#222" stroke-width="0.8"/>
<path d="M32.70,82.20 L30.28,82.62 L31.58,84.39Z" fill="#222"/>
<ellipse cx="45.4" cy="74.8" rx="9" ry="4.7" fill="#d6ecf6" stroke="#8cc2dc" stroke-width="0.6"/>
<ellipse cx="45.4" cy="74.0" rx="8" ry="3.6" fill="none" stroke="#b8dcec" stroke-width="0.4"/>
<circle cx="40.40" cy="73.80" r="0.45" fill="#3f78c0"/>
<circle cx="42.40" cy="75.80" r="0.45" fill="#3f78c0"/>
<circle cx="44.40" cy="73.30" r="0.45" fill="#3f78c0"/>
<circle cx="46.40" cy="75.30" r="0.45" fill="#3f78c0"/>
<circle cx="48.40" cy="73.80" r="0.45" fill="#3f78c0"/>
<circle cx="49.40" cy="76.30" r="0.45" fill="#3f78c0"/>
<circle cx="43.40" cy="77.30" r="0.45" fill="#3f78c0"/>
<circle cx="45.40" cy="72.30" r="0.45" fill="#3f78c0"/>
<circle cx="47.40" cy="77.00" r="0.45" fill="#3f78c0"/>
<circle cx="41.40" cy="75.60" r="0.45" fill="#3f78c0"/>
<circle cx="50.90" cy="74.50" r="0.45" fill="#3f78c0"/>
<line x1="48.00" y1="73.50" x2="52.00" y2="67.50" stroke="#555" stroke-width="0.5"/>
<line x1="51.3" y1="67.7" x2="56.4" y2="60" stroke="#3566c0" stroke-width="2.2" stroke-linecap="round"/>
<line x1="56.40" y1="60.00" x2="58.40" y2="57.60" stroke="#555" stroke-width="0.6"/>
<line x1="57.00" y1="57.20" x2="59.60" y2="58.80" stroke="#555" stroke-width="0.6"/>
<line x1="55.20" y1="78.30" x2="64.10" y2="78.30" stroke="#222" stroke-width="0.8"/>
<path d="M66.30,78.30 L64.10,77.20 L64.10,79.40Z" fill="#222"/>
<circle cx="78.30" cy="76.30" r="4.1" fill="#f8cfa0"/>
<circle cx="84.09" cy="79.46" r="4.1" fill="#f8cfa0"/>
<circle cx="78.46" cy="82.90" r="4.1" fill="#f8cfa0"/>
<circle cx="72.66" cy="79.73" r="4.1" fill="#f8cfa0"/>
<circle cx="72.51" cy="73.14" r="4.1" fill="#f8cfa0"/>
<circle cx="78.14" cy="69.70" r="4.1" fill="#f8cfa0"/>
<circle cx="83.94" cy="72.87" r="4.1" fill="#f8cfa0"/>
<circle cx="78.30" cy="76.30" r="1.9" fill="#f0b07e"/>
<circle cx="84.09" cy="79.46" r="1.9" fill="#f0b07e"/>
<circle cx="78.46" cy="82.90" r="1.9" fill="#f0b07e"/>
<circle cx="72.66" cy="79.73" r="1.9" fill="#f0b07e"/>
<circle cx="72.51" cy="73.14" r="1.9" fill="#f0b07e"/>
<circle cx="78.14" cy="69.70" r="1.9" fill="#f0b07e"/>
<circle cx="83.94" cy="72.87" r="1.9" fill="#f0b07e"/>
<line x1="92.00" y1="78.80" x2="100.30" y2="78.80" stroke="#222" stroke-width="0.8"/>
<path d="M102.50,78.80 L100.30,77.70 L100.30,79.90Z" fill="#222"/>
<text x="78.40" y="95.00" font-size="4.7" text-anchor="middle" fill="#333">WT or HTR2A-/-</text>
<text x="78.40" y="100.30" font-size="4.9" text-anchor="middle" fill="#333">moLC</text>
<text x="121.90" y="95.00" font-size="4.7" text-anchor="middle" fill="#333">Adoptive transfer</text>
<text x="121.90" y="100.60" font-size="4.7" text-anchor="middle" fill="#333">to ear pinna of</text>
<text x="121.90" y="106.20" font-size="4.7" text-anchor="middle" fill="#333">LC depleted mice</text>
<line x1="99.90" y1="59.20" x2="113.40" y2="72.20" stroke="#555" stroke-width="0.5"/>
<path d="M112.3,80.2 L111.8,83.2 L114.5,83.6 M121,81.3 Q121,83.8 123.2,84.3 L127.5,84.3" fill="none" stroke="#d09a98" stroke-width="0.8"/>
<path d="M129.3,79.8 Q133.6,81.3 134.6,83.5 Q135.2,85.6 131.5,85.7 L126.5,85.3" fill="none" stroke="#c89090" stroke-width="0.6"/>
<path d="M108.9,76.6 Q110.5,74.2 113,73.9 Q116,73.2 119.2,73.8 Q125.5,73.6 128.9,76.9 Q130.8,79 129.6,80.7 Q126,82 119.2,81.9 Q114,81.4 111.5,79.6 Q109.4,78.5 108.9,76.6Z" fill="#4a4442"/>
<ellipse cx="115.4" cy="75.3" rx="1.0" ry="1.3" fill="#c89090"/>
<circle cx="113.5" cy="73.6" r="0.7" fill="#4a4442"/>
<g transform="translate(7.20,341.50) scale(0.980)"><path d="M31,15 Q37,17 41,12 Q43.5,8.5 40.5,8" fill="none" stroke="#c99a92" stroke-width="1.6" stroke-linecap="round"/><path d="M9,21 L8,27 L11,27 L12,22Z M22,22 L22,28 L25,28 L26,22Z M28,19 L31,25 L33,24 L31,18Z" fill="#c99a92"/><path d="M0.5,11.5 Q3,6.5 9,4.5 Q14,2 20,4 Q30,5.5 33,13 Q34.5,20 28,23.5 Q21,26 14,24 Q9,22.5 7,18 Q2,15.5 0.5,11.5Z" fill="#403c3c"/><circle cx="14.5" cy="5.5" r="3.8" fill="#c39090"/><path d="M7,4 L8.8,7 L6.5,7.5Z" fill="#403c3c"/><circle cx="5.2" cy="9.8" r="0.6" fill="#111"/></g>
<text x="9.0" y="378.3" font-size="6.9" fill="#222" textLength="31.7" lengthAdjust="spacingAndGlyphs">HTR2A<tspan font-size="4.2" dy="-2.8">fl/fl</tspan></text>
<text x="24.00" y="391.50" font-size="7.0" text-anchor="middle" fill="#222">X</text>
<line x1="41.00" y1="388.30" x2="52.60" y2="388.30" stroke="#222" stroke-width="0.9"/>
<path d="M55.20,388.30 L52.60,387.00 L52.60,389.60Z" fill="#222"/>
<g transform="translate(8.30,395.20) scale(0.980)"><path d="M31,15 Q37,17 41,12 Q43.5,8.5 40.5,8" fill="none" stroke="#c99a92" stroke-width="1.6" stroke-linecap="round"/><path d="M9,21 L8,27 L11,27 L12,22Z M22,22 L22,28 L25,28 L26,22Z M28,19 L31,25 L33,24 L31,18Z" fill="#c99a92"/><path d="M0.5,11.5 Q3,6.5 9,4.5 Q14,2 20,4 Q30,5.5 33,13 Q34.5,20 28,23.5 Q21,26 14,24 Q9,22.5 7,18 Q2,15.5 0.5,11.5Z" fill="#403c3c"/><circle cx="14.5" cy="5.5" r="3.8" fill="#c39090"/><path d="M7,4 L8.8,7 L6.5,7.5Z" fill="#403c3c"/><circle cx="5.2" cy="9.8" r="0.6" fill="#111"/></g>
<text x="9.1" y="430.3" font-size="6.6" fill="#222" textLength="30.8" lengthAdjust="spacingAndGlyphs">Ms4a3 cre</text>
<g transform="translate(58.00,366.00) scale(0.980)"><path d="M31,15 Q37,17 41,12 Q43.5,8.5 40.5,8" fill="none" stroke="#f3a46a" stroke-width="1.6" stroke-linecap="round"/><path d="M9,21 L8,27 L11,27 L12,22Z M22,22 L22,28 L25,28 L26,22Z M28,19 L31,25 L33,24 L31,18Z" fill="#f3a46a"/><path d="M0.5,11.5 Q3,6.5 9,4.5 Q14,2 20,4 Q30,5.5 33,13 Q34.5,20 28,23.5 Q21,26 14,24 Q9,22.5 7,18 Q2,15.5 0.5,11.5Z" fill="#f0924c"/><circle cx="14.5" cy="5.5" r="3.8" fill="#f4b583"/><path d="M7,4 L8.8,7 L6.5,7.5Z" fill="#f0924c"/><circle cx="5.2" cy="9.8" r="0.6" fill="#111"/></g>
<text x="57.8" y="405.8" font-size="6.9" fill="#222" textLength="35.2" lengthAdjust="spacingAndGlyphs">HTR2A<tspan font-size="4.2" dy="-2.8">Ms4a3</tspan></text>
<polygon points="131.00,380.80 131.41,382.21 131.27,383.62 130.54,384.87 129.55,385.94 128.74,387.00 128.23,388.23 127.80,389.62 127.08,390.88 125.93,391.71 124.50,392.06 123.09,392.23 121.84,392.62 120.66,393.33 119.40,394.08 118.00,394.40 116.60,394.08 115.34,393.33 114.16,392.62 112.91,392.23 111.50,392.06 110.07,391.71 108.92,390.88 108.20,389.62 107.77,388.23 107.26,387.00 106.45,385.94 105.46,384.87 104.73,383.62 104.59,382.21 105.00,380.80 105.55,379.49 105.84,378.22 105.81,376.84 105.80,375.37 106.22,374.00 107.20,372.95 108.48,372.23 109.68,371.56 110.64,370.68 111.50,369.54 112.51,368.48 113.81,367.89 115.26,367.90 116.68,368.22 118.00,368.40 119.32,368.22 120.74,367.90 122.19,367.89 123.49,368.48 124.50,369.54 125.36,370.68 126.32,371.56 127.52,372.23 128.80,372.95 129.78,374.00 130.20,375.37 130.19,376.84 130.16,378.22 130.45,379.49" fill="#f9d8ac" stroke="#eebd8e" stroke-width="0.7"/>
<path d="M112,381 Q110,374 116,373 Q119,376 122,372 Q127,372 126,380 Q125,388 118,388 Q112,388 112,381Z" fill="#f2b585"/>
<text x="116.80" y="405.80" font-size="7.3" text-anchor="middle" fill="#222">Monocyte</text>
<text x="116.60" y="413.40" font-size="7.3" text-anchor="middle" fill="#222">Lineage</text>
</svg>
</body></html>
